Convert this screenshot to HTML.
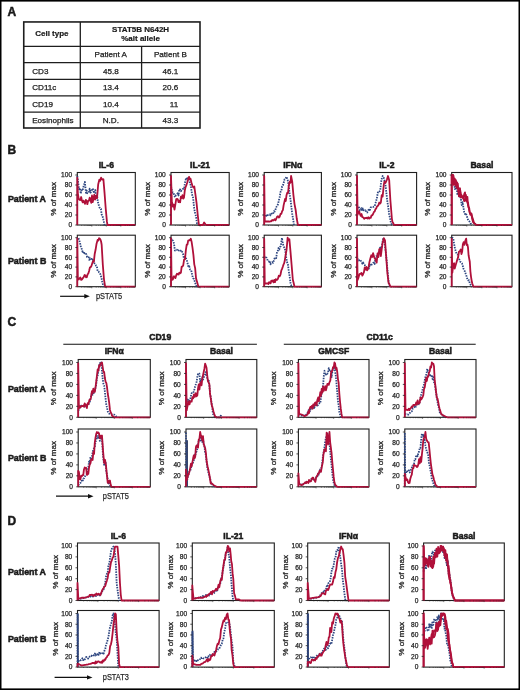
<!DOCTYPE html>
<html><head><meta charset="utf-8"><title>Figure</title>
<style>
html,body{margin:0;padding:0;background:#fff;}
svg{display:block;font-family:'Liberation Sans', Arial, Helvetica, sans-serif;filter:blur(0.4px);}
</style></head>
<body>
<svg width="520" height="690" viewBox="0 0 520 690">
<rect x="0" y="0" width="520" height="690" fill="#fff"/>
<text x="7.6" y="16" font-size="12" font-weight="bold" text-anchor="start" fill="#1a1a1a" stroke="#1a1a1a" stroke-width="0.5">A</text>
<text x="7.6" y="154.2" font-size="12" font-weight="bold" text-anchor="start" fill="#1a1a1a" stroke="#1a1a1a" stroke-width="0.5">B</text>
<text x="7.6" y="326" font-size="12" font-weight="bold" text-anchor="start" fill="#1a1a1a" stroke="#1a1a1a" stroke-width="0.5">C</text>
<text x="7.6" y="524.8" font-size="12" font-weight="bold" text-anchor="start" fill="#1a1a1a" stroke="#1a1a1a" stroke-width="0.5">D</text>
<rect x="23.75" y="21.95" width="176.25" height="106.05" fill="none" stroke="#1e1e1e" stroke-width="1.6"/>
<line x1="23.75" y1="46.4" x2="200" y2="46.4" stroke="#1e1e1e" stroke-width="1.3"/>
<line x1="23.75" y1="62.6" x2="200" y2="62.6" stroke="#1e1e1e" stroke-width="1.3"/>
<line x1="23.75" y1="79.4" x2="200" y2="79.4" stroke="#1e1e1e" stroke-width="1.3"/>
<line x1="23.75" y1="95.9" x2="200" y2="95.9" stroke="#1e1e1e" stroke-width="1.3"/>
<line x1="23.75" y1="112.1" x2="200" y2="112.1" stroke="#1e1e1e" stroke-width="1.3"/>
<line x1="80.3" y1="21.95" x2="80.3" y2="128" stroke="#1e1e1e" stroke-width="1.3"/>
<line x1="141.6" y1="46.4" x2="141.6" y2="128" stroke="#1e1e1e" stroke-width="1.3"/>
<text x="51.9" y="36.4" font-size="8.0" font-weight="bold" text-anchor="middle" fill="#1a1a1a" stroke="#1a1a1a" stroke-width="0.2">Cell type</text>
<text x="140.6" y="31.5" font-size="8.0" font-weight="bold" text-anchor="middle" fill="#1a1a1a" stroke="#1a1a1a" stroke-width="0.2">STAT5B N642H</text>
<text x="140.6" y="41" font-size="8.0" font-weight="bold" text-anchor="middle" fill="#1a1a1a" stroke="#1a1a1a" stroke-width="0.2">%alt allele</text>
<text x="110.7" y="57.3" font-size="8.1" font-weight="normal" text-anchor="middle" fill="#1a1a1a" stroke="#1a1a1a" stroke-width="0.25">Patient A</text>
<text x="170.4" y="57.3" font-size="8.1" font-weight="normal" text-anchor="middle" fill="#1a1a1a" stroke="#1a1a1a" stroke-width="0.25">Patient B</text>
<text x="32.2" y="73.9" font-size="8.1" font-weight="normal" text-anchor="start" fill="#1a1a1a" stroke="#1a1a1a" stroke-width="0.25">CD3</text>
<text x="110.8" y="73.9" font-size="8.1" font-weight="normal" text-anchor="middle" fill="#1a1a1a" stroke="#1a1a1a" stroke-width="0.25">45.8</text>
<text x="178.2" y="73.9" font-size="8.1" font-weight="normal" text-anchor="end" fill="#1a1a1a" stroke="#1a1a1a" stroke-width="0.25">46.1</text>
<text x="32.2" y="90.3" font-size="8.1" font-weight="normal" text-anchor="start" fill="#1a1a1a" stroke="#1a1a1a" stroke-width="0.25">CD11c</text>
<text x="110.8" y="90.3" font-size="8.1" font-weight="normal" text-anchor="middle" fill="#1a1a1a" stroke="#1a1a1a" stroke-width="0.25">13.4</text>
<text x="178.2" y="90.3" font-size="8.1" font-weight="normal" text-anchor="end" fill="#1a1a1a" stroke="#1a1a1a" stroke-width="0.25">20.6</text>
<text x="32.2" y="106.5" font-size="8.1" font-weight="normal" text-anchor="start" fill="#1a1a1a" stroke="#1a1a1a" stroke-width="0.25">CD19</text>
<text x="110.8" y="106.5" font-size="8.1" font-weight="normal" text-anchor="middle" fill="#1a1a1a" stroke="#1a1a1a" stroke-width="0.25">10.4</text>
<text x="178.2" y="106.5" font-size="8.1" font-weight="normal" text-anchor="end" fill="#1a1a1a" stroke="#1a1a1a" stroke-width="0.25">11</text>
<text x="32.2" y="122.6" font-size="8.1" font-weight="normal" text-anchor="start" fill="#1a1a1a" stroke="#1a1a1a" stroke-width="0.25">Eosinophils</text>
<text x="110.8" y="122.6" font-size="8.1" font-weight="normal" text-anchor="middle" fill="#1a1a1a" stroke="#1a1a1a" stroke-width="0.25">N.D.</text>
<text x="178.2" y="122.6" font-size="8.1" font-weight="normal" text-anchor="end" fill="#1a1a1a" stroke="#1a1a1a" stroke-width="0.25">43.3</text>
<text x="106.3" y="167.7" font-size="8.6" font-weight="bold" text-anchor="middle" fill="#1a1a1a" stroke="#1a1a1a" stroke-width="0.5">IL-6</text>
<rect x="77.3" y="172.5" width="58" height="52.5" fill="none" stroke="#1e1e1e" stroke-width="1.1"/>
<polyline points="77.3,176 78.17,182.61 79.04,189.2 79.91,188.05 80.78,193.69 81.65,190.27 82.52,190.85 83.68,185.78 84.84,181.95 86,192.91 86.72,190.67 87.45,193.21 88.17,193.33 88.9,191.48 89.67,188.61 90.45,192.7 91.22,191.74 91.99,189.86 92.77,188.51 93.54,191.51 94.41,193.15 95.28,190 96.15,198.11 97.02,195.24 97.79,201.33 98.57,204.6 99.34,207.09 100.11,208.63 100.89,208.88 101.66,214.33 102.53,216.21 103.4,219.58 104.56,225" fill="none" stroke="#2e4680" stroke-width="1.8" stroke-dasharray="1.5 1.1" stroke-linejoin="round"/>
<polyline points="77.3,225 77.3,177.65 77.88,193.57 78.75,198.93 79.62,199.96 80.39,199.98 81.17,197.04 81.94,200.65 82.71,202.31 83.49,200.59 84.26,202.4 85.03,203.87 85.81,199.84 86.58,200.83 87.35,204.18 88.13,200.86 88.9,200.78 89.67,197.71 90.45,198.99 91.22,202.86 91.99,195.51 92.77,202.1 93.54,198.24 94.31,194.69 95.09,199.63 95.86,196.1 97.02,198.15 98.18,184.49 99.34,179.62 100.21,180.84 101.08,177.62 102.24,179.68 103.4,179.24 104.56,193.15 105.72,208.45 106.88,221.18 107.46,225 135.3,225" fill="none" stroke="#b0103a" stroke-width="1.8" stroke-linejoin="round"/>
<line x1="75.3" y1="225" x2="77.3" y2="225" stroke="#262626" stroke-width="0.8"/>
<text x="72.1" y="227.3" font-size="6.6" font-weight="normal" text-anchor="end" fill="#262626" stroke="#262626" stroke-width="0.25">0</text>
<line x1="75.3" y1="215" x2="77.3" y2="215" stroke="#262626" stroke-width="0.8"/>
<text x="72.1" y="217.3" font-size="6.6" font-weight="normal" text-anchor="end" fill="#262626" stroke="#262626" stroke-width="0.25">20</text>
<line x1="75.3" y1="205" x2="77.3" y2="205" stroke="#262626" stroke-width="0.8"/>
<text x="72.1" y="207.3" font-size="6.6" font-weight="normal" text-anchor="end" fill="#262626" stroke="#262626" stroke-width="0.25">40</text>
<line x1="75.3" y1="195" x2="77.3" y2="195" stroke="#262626" stroke-width="0.8"/>
<text x="72.1" y="197.3" font-size="6.6" font-weight="normal" text-anchor="end" fill="#262626" stroke="#262626" stroke-width="0.25">60</text>
<line x1="75.3" y1="185" x2="77.3" y2="185" stroke="#262626" stroke-width="0.8"/>
<text x="72.1" y="187.3" font-size="6.6" font-weight="normal" text-anchor="end" fill="#262626" stroke="#262626" stroke-width="0.25">80</text>
<line x1="75.3" y1="175" x2="77.3" y2="175" stroke="#262626" stroke-width="0.8"/>
<text x="72.1" y="177.3" font-size="6.6" font-weight="normal" text-anchor="end" fill="#262626" stroke="#262626" stroke-width="0.25">100</text>
<line x1="81.66" y1="225" x2="81.66" y2="225.9" stroke="#262626" stroke-width="0.6"/>
<line x1="84.22" y1="225" x2="84.22" y2="225.9" stroke="#262626" stroke-width="0.6"/>
<line x1="86.03" y1="225" x2="86.03" y2="225.9" stroke="#262626" stroke-width="0.6"/>
<line x1="87.44" y1="225" x2="87.44" y2="225.9" stroke="#262626" stroke-width="0.6"/>
<line x1="88.58" y1="225" x2="88.58" y2="225.9" stroke="#262626" stroke-width="0.6"/>
<line x1="89.55" y1="225" x2="89.55" y2="225.9" stroke="#262626" stroke-width="0.6"/>
<line x1="90.39" y1="225" x2="90.39" y2="225.9" stroke="#262626" stroke-width="0.6"/>
<line x1="91.14" y1="225" x2="91.14" y2="225.9" stroke="#262626" stroke-width="0.6"/>
<line x1="91.8" y1="225" x2="91.8" y2="226.6" stroke="#262626" stroke-width="0.6"/>
<line x1="96.16" y1="225" x2="96.16" y2="225.9" stroke="#262626" stroke-width="0.6"/>
<line x1="98.72" y1="225" x2="98.72" y2="225.9" stroke="#262626" stroke-width="0.6"/>
<line x1="100.53" y1="225" x2="100.53" y2="225.9" stroke="#262626" stroke-width="0.6"/>
<line x1="101.94" y1="225" x2="101.94" y2="225.9" stroke="#262626" stroke-width="0.6"/>
<line x1="103.08" y1="225" x2="103.08" y2="225.9" stroke="#262626" stroke-width="0.6"/>
<line x1="104.05" y1="225" x2="104.05" y2="225.9" stroke="#262626" stroke-width="0.6"/>
<line x1="104.89" y1="225" x2="104.89" y2="225.9" stroke="#262626" stroke-width="0.6"/>
<line x1="105.64" y1="225" x2="105.64" y2="225.9" stroke="#262626" stroke-width="0.6"/>
<line x1="106.3" y1="225" x2="106.3" y2="226.6" stroke="#262626" stroke-width="0.6"/>
<line x1="110.66" y1="225" x2="110.66" y2="225.9" stroke="#262626" stroke-width="0.6"/>
<line x1="113.22" y1="225" x2="113.22" y2="225.9" stroke="#262626" stroke-width="0.6"/>
<line x1="115.03" y1="225" x2="115.03" y2="225.9" stroke="#262626" stroke-width="0.6"/>
<line x1="116.44" y1="225" x2="116.44" y2="225.9" stroke="#262626" stroke-width="0.6"/>
<line x1="117.58" y1="225" x2="117.58" y2="225.9" stroke="#262626" stroke-width="0.6"/>
<line x1="118.55" y1="225" x2="118.55" y2="225.9" stroke="#262626" stroke-width="0.6"/>
<line x1="119.39" y1="225" x2="119.39" y2="225.9" stroke="#262626" stroke-width="0.6"/>
<line x1="120.14" y1="225" x2="120.14" y2="225.9" stroke="#262626" stroke-width="0.6"/>
<line x1="120.8" y1="225" x2="120.8" y2="226.6" stroke="#262626" stroke-width="0.6"/>
<line x1="125.16" y1="225" x2="125.16" y2="225.9" stroke="#262626" stroke-width="0.6"/>
<line x1="127.72" y1="225" x2="127.72" y2="225.9" stroke="#262626" stroke-width="0.6"/>
<line x1="129.53" y1="225" x2="129.53" y2="225.9" stroke="#262626" stroke-width="0.6"/>
<line x1="130.94" y1="225" x2="130.94" y2="225.9" stroke="#262626" stroke-width="0.6"/>
<line x1="132.08" y1="225" x2="132.08" y2="225.9" stroke="#262626" stroke-width="0.6"/>
<line x1="133.05" y1="225" x2="133.05" y2="225.9" stroke="#262626" stroke-width="0.6"/>
<line x1="133.89" y1="225" x2="133.89" y2="225.9" stroke="#262626" stroke-width="0.6"/>
<line x1="134.64" y1="225" x2="134.64" y2="225.9" stroke="#262626" stroke-width="0.6"/>
<text x="53.3" y="198.75" font-size="8.1" fill="#262626" stroke="#262626" stroke-width="0.3" text-anchor="middle" transform="rotate(-90 53.3 198.75)" dy="2.7">% of max</text>
<rect x="77.3" y="235.2" width="58" height="51.5" fill="none" stroke="#1e1e1e" stroke-width="1.1"/>
<polyline points="78.46,238.19 79.33,240.47 80.2,243.71 81.07,247.85 81.94,249.27 82.81,253.06 83.68,251.73 84.55,253.26 85.42,252.66 86.29,254.18 87.16,257.21 87.93,257.61 88.71,257.26 89.48,260.74 90.25,258.44 91.03,259.16 91.8,258.88 92.67,260.59 93.54,259.14 94.41,263.24 95.28,264.19 96.05,265.72 96.83,266.11 97.6,270.94 98.33,271.18 99.05,272.34 99.78,272.87 100.5,274.58 101.37,277.51 102.24,281.76 103.4,286.7" fill="none" stroke="#2e4680" stroke-width="1.8" stroke-dasharray="1.5 1.1" stroke-linejoin="round"/>
<polyline points="77.3,286.7 77.3,238.19 77.88,279.14 78.75,279.56 79.62,278.12 80.39,277.53 81.17,279.85 81.94,279.46 82.81,278.17 83.68,277.07 84.55,275 85.28,275.34 86,277.28 86.77,277.17 87.55,274.45 88.32,273.53 89.09,271.05 89.87,267.58 90.64,267.13 91.41,266.04 92.19,263.5 92.96,261.16 93.83,261.88 94.7,253.97 95.57,249.77 96.44,244.32 97.6,239.87 98.33,240.54 99.05,238.19 99.73,238.52 100.4,239.44 101.08,241.5 101.66,244.75 102.82,264.77 103.98,279.37 105.14,286.7 135.3,286.7" fill="none" stroke="#b0103a" stroke-width="1.8" stroke-linejoin="round"/>
<line x1="75.3" y1="286.7" x2="77.3" y2="286.7" stroke="#262626" stroke-width="0.8"/>
<text x="72.1" y="289" font-size="6.6" font-weight="normal" text-anchor="end" fill="#262626" stroke="#262626" stroke-width="0.25">0</text>
<line x1="75.3" y1="276.9" x2="77.3" y2="276.9" stroke="#262626" stroke-width="0.8"/>
<text x="72.1" y="279.2" font-size="6.6" font-weight="normal" text-anchor="end" fill="#262626" stroke="#262626" stroke-width="0.25">20</text>
<line x1="75.3" y1="267.1" x2="77.3" y2="267.1" stroke="#262626" stroke-width="0.8"/>
<text x="72.1" y="269.4" font-size="6.6" font-weight="normal" text-anchor="end" fill="#262626" stroke="#262626" stroke-width="0.25">40</text>
<line x1="75.3" y1="257.3" x2="77.3" y2="257.3" stroke="#262626" stroke-width="0.8"/>
<text x="72.1" y="259.6" font-size="6.6" font-weight="normal" text-anchor="end" fill="#262626" stroke="#262626" stroke-width="0.25">60</text>
<line x1="75.3" y1="247.5" x2="77.3" y2="247.5" stroke="#262626" stroke-width="0.8"/>
<text x="72.1" y="249.8" font-size="6.6" font-weight="normal" text-anchor="end" fill="#262626" stroke="#262626" stroke-width="0.25">80</text>
<line x1="75.3" y1="237.7" x2="77.3" y2="237.7" stroke="#262626" stroke-width="0.8"/>
<text x="72.1" y="240" font-size="6.6" font-weight="normal" text-anchor="end" fill="#262626" stroke="#262626" stroke-width="0.25">100</text>
<line x1="81.66" y1="286.7" x2="81.66" y2="287.6" stroke="#262626" stroke-width="0.6"/>
<line x1="84.22" y1="286.7" x2="84.22" y2="287.6" stroke="#262626" stroke-width="0.6"/>
<line x1="86.03" y1="286.7" x2="86.03" y2="287.6" stroke="#262626" stroke-width="0.6"/>
<line x1="87.44" y1="286.7" x2="87.44" y2="287.6" stroke="#262626" stroke-width="0.6"/>
<line x1="88.58" y1="286.7" x2="88.58" y2="287.6" stroke="#262626" stroke-width="0.6"/>
<line x1="89.55" y1="286.7" x2="89.55" y2="287.6" stroke="#262626" stroke-width="0.6"/>
<line x1="90.39" y1="286.7" x2="90.39" y2="287.6" stroke="#262626" stroke-width="0.6"/>
<line x1="91.14" y1="286.7" x2="91.14" y2="287.6" stroke="#262626" stroke-width="0.6"/>
<line x1="91.8" y1="286.7" x2="91.8" y2="288.3" stroke="#262626" stroke-width="0.6"/>
<line x1="96.16" y1="286.7" x2="96.16" y2="287.6" stroke="#262626" stroke-width="0.6"/>
<line x1="98.72" y1="286.7" x2="98.72" y2="287.6" stroke="#262626" stroke-width="0.6"/>
<line x1="100.53" y1="286.7" x2="100.53" y2="287.6" stroke="#262626" stroke-width="0.6"/>
<line x1="101.94" y1="286.7" x2="101.94" y2="287.6" stroke="#262626" stroke-width="0.6"/>
<line x1="103.08" y1="286.7" x2="103.08" y2="287.6" stroke="#262626" stroke-width="0.6"/>
<line x1="104.05" y1="286.7" x2="104.05" y2="287.6" stroke="#262626" stroke-width="0.6"/>
<line x1="104.89" y1="286.7" x2="104.89" y2="287.6" stroke="#262626" stroke-width="0.6"/>
<line x1="105.64" y1="286.7" x2="105.64" y2="287.6" stroke="#262626" stroke-width="0.6"/>
<line x1="106.3" y1="286.7" x2="106.3" y2="288.3" stroke="#262626" stroke-width="0.6"/>
<line x1="110.66" y1="286.7" x2="110.66" y2="287.6" stroke="#262626" stroke-width="0.6"/>
<line x1="113.22" y1="286.7" x2="113.22" y2="287.6" stroke="#262626" stroke-width="0.6"/>
<line x1="115.03" y1="286.7" x2="115.03" y2="287.6" stroke="#262626" stroke-width="0.6"/>
<line x1="116.44" y1="286.7" x2="116.44" y2="287.6" stroke="#262626" stroke-width="0.6"/>
<line x1="117.58" y1="286.7" x2="117.58" y2="287.6" stroke="#262626" stroke-width="0.6"/>
<line x1="118.55" y1="286.7" x2="118.55" y2="287.6" stroke="#262626" stroke-width="0.6"/>
<line x1="119.39" y1="286.7" x2="119.39" y2="287.6" stroke="#262626" stroke-width="0.6"/>
<line x1="120.14" y1="286.7" x2="120.14" y2="287.6" stroke="#262626" stroke-width="0.6"/>
<line x1="120.8" y1="286.7" x2="120.8" y2="288.3" stroke="#262626" stroke-width="0.6"/>
<line x1="125.16" y1="286.7" x2="125.16" y2="287.6" stroke="#262626" stroke-width="0.6"/>
<line x1="127.72" y1="286.7" x2="127.72" y2="287.6" stroke="#262626" stroke-width="0.6"/>
<line x1="129.53" y1="286.7" x2="129.53" y2="287.6" stroke="#262626" stroke-width="0.6"/>
<line x1="130.94" y1="286.7" x2="130.94" y2="287.6" stroke="#262626" stroke-width="0.6"/>
<line x1="132.08" y1="286.7" x2="132.08" y2="287.6" stroke="#262626" stroke-width="0.6"/>
<line x1="133.05" y1="286.7" x2="133.05" y2="287.6" stroke="#262626" stroke-width="0.6"/>
<line x1="133.89" y1="286.7" x2="133.89" y2="287.6" stroke="#262626" stroke-width="0.6"/>
<line x1="134.64" y1="286.7" x2="134.64" y2="287.6" stroke="#262626" stroke-width="0.6"/>
<text x="53.3" y="260.95" font-size="8.1" fill="#262626" stroke="#262626" stroke-width="0.3" text-anchor="middle" transform="rotate(-90 53.3 260.95)" dy="2.7">% of max</text>
<text x="200.1" y="167.7" font-size="8.6" font-weight="bold" text-anchor="middle" fill="#1a1a1a" stroke="#1a1a1a" stroke-width="0.5">IL-21</text>
<rect x="171" y="172.5" width="58.2" height="52.5" fill="none" stroke="#1e1e1e" stroke-width="1.1"/>
<polyline points="171,186.5 171.87,190.33 172.75,192.63 173.52,192.67 174.3,195.65 175.07,197.15 175.95,195.2 176.82,194.51 177.69,193.11 178.57,195.49 179.34,188.98 180.12,189.45 180.89,191.21 181.67,190.23 182.45,189.29 183.22,188.86 184.09,188.88 184.97,182.8 186.13,177.89 187,179.71 187.88,178.1 189.04,179.11 189.91,183.01 190.79,185.49 191.95,193.98 193.12,197.93 193.99,206.86 194.86,212.22 196.03,216.49 197.19,225" fill="none" stroke="#2e4680" stroke-width="1.8" stroke-dasharray="1.5 1.1" stroke-linejoin="round"/>
<polyline points="171,225 171,176 171.87,202.26 172.75,206.54 173.62,204.49 174.49,209.59 175.37,204.28 176.24,199.03 177.01,198.9 177.79,199.28 178.57,202.15 179.34,200.87 180.12,202.33 180.89,196.55 181.67,198.04 182.45,195.16 183.22,198.53 184,197.66 184.77,190.53 185.55,187.14 186.42,185.08 187.3,182.25 188.17,179.14 189.04,176.84 189.62,178.96 190.5,178.59 191.37,182.3 192.53,186.24 193.41,187.5 194.28,186.49 195.44,194.67 196.61,203.49 197.77,215.26 198.94,225 199.75,225 200.57,225 201.38,225 202.2,225 203.01,225 204.17,222.5 205.05,223.75 205.92,225 229.2,225" fill="none" stroke="#b0103a" stroke-width="1.8" stroke-linejoin="round"/>
<line x1="169" y1="225" x2="171" y2="225" stroke="#262626" stroke-width="0.8"/>
<text x="165.8" y="227.3" font-size="6.6" font-weight="normal" text-anchor="end" fill="#262626" stroke="#262626" stroke-width="0.25">0</text>
<line x1="169" y1="215" x2="171" y2="215" stroke="#262626" stroke-width="0.8"/>
<text x="165.8" y="217.3" font-size="6.6" font-weight="normal" text-anchor="end" fill="#262626" stroke="#262626" stroke-width="0.25">20</text>
<line x1="169" y1="205" x2="171" y2="205" stroke="#262626" stroke-width="0.8"/>
<text x="165.8" y="207.3" font-size="6.6" font-weight="normal" text-anchor="end" fill="#262626" stroke="#262626" stroke-width="0.25">40</text>
<line x1="169" y1="195" x2="171" y2="195" stroke="#262626" stroke-width="0.8"/>
<text x="165.8" y="197.3" font-size="6.6" font-weight="normal" text-anchor="end" fill="#262626" stroke="#262626" stroke-width="0.25">60</text>
<line x1="169" y1="185" x2="171" y2="185" stroke="#262626" stroke-width="0.8"/>
<text x="165.8" y="187.3" font-size="6.6" font-weight="normal" text-anchor="end" fill="#262626" stroke="#262626" stroke-width="0.25">80</text>
<line x1="169" y1="175" x2="171" y2="175" stroke="#262626" stroke-width="0.8"/>
<text x="165.8" y="177.3" font-size="6.6" font-weight="normal" text-anchor="end" fill="#262626" stroke="#262626" stroke-width="0.25">100</text>
<line x1="175.38" y1="225" x2="175.38" y2="225.9" stroke="#262626" stroke-width="0.6"/>
<line x1="177.94" y1="225" x2="177.94" y2="225.9" stroke="#262626" stroke-width="0.6"/>
<line x1="179.76" y1="225" x2="179.76" y2="225.9" stroke="#262626" stroke-width="0.6"/>
<line x1="181.17" y1="225" x2="181.17" y2="225.9" stroke="#262626" stroke-width="0.6"/>
<line x1="182.32" y1="225" x2="182.32" y2="225.9" stroke="#262626" stroke-width="0.6"/>
<line x1="183.3" y1="225" x2="183.3" y2="225.9" stroke="#262626" stroke-width="0.6"/>
<line x1="184.14" y1="225" x2="184.14" y2="225.9" stroke="#262626" stroke-width="0.6"/>
<line x1="184.88" y1="225" x2="184.88" y2="225.9" stroke="#262626" stroke-width="0.6"/>
<line x1="185.55" y1="225" x2="185.55" y2="226.6" stroke="#262626" stroke-width="0.6"/>
<line x1="189.93" y1="225" x2="189.93" y2="225.9" stroke="#262626" stroke-width="0.6"/>
<line x1="192.49" y1="225" x2="192.49" y2="225.9" stroke="#262626" stroke-width="0.6"/>
<line x1="194.31" y1="225" x2="194.31" y2="225.9" stroke="#262626" stroke-width="0.6"/>
<line x1="195.72" y1="225" x2="195.72" y2="225.9" stroke="#262626" stroke-width="0.6"/>
<line x1="196.87" y1="225" x2="196.87" y2="225.9" stroke="#262626" stroke-width="0.6"/>
<line x1="197.85" y1="225" x2="197.85" y2="225.9" stroke="#262626" stroke-width="0.6"/>
<line x1="198.69" y1="225" x2="198.69" y2="225.9" stroke="#262626" stroke-width="0.6"/>
<line x1="199.43" y1="225" x2="199.43" y2="225.9" stroke="#262626" stroke-width="0.6"/>
<line x1="200.1" y1="225" x2="200.1" y2="226.6" stroke="#262626" stroke-width="0.6"/>
<line x1="204.48" y1="225" x2="204.48" y2="225.9" stroke="#262626" stroke-width="0.6"/>
<line x1="207.04" y1="225" x2="207.04" y2="225.9" stroke="#262626" stroke-width="0.6"/>
<line x1="208.86" y1="225" x2="208.86" y2="225.9" stroke="#262626" stroke-width="0.6"/>
<line x1="210.27" y1="225" x2="210.27" y2="225.9" stroke="#262626" stroke-width="0.6"/>
<line x1="211.42" y1="225" x2="211.42" y2="225.9" stroke="#262626" stroke-width="0.6"/>
<line x1="212.4" y1="225" x2="212.4" y2="225.9" stroke="#262626" stroke-width="0.6"/>
<line x1="213.24" y1="225" x2="213.24" y2="225.9" stroke="#262626" stroke-width="0.6"/>
<line x1="213.98" y1="225" x2="213.98" y2="225.9" stroke="#262626" stroke-width="0.6"/>
<line x1="214.65" y1="225" x2="214.65" y2="226.6" stroke="#262626" stroke-width="0.6"/>
<line x1="219.03" y1="225" x2="219.03" y2="225.9" stroke="#262626" stroke-width="0.6"/>
<line x1="221.59" y1="225" x2="221.59" y2="225.9" stroke="#262626" stroke-width="0.6"/>
<line x1="223.41" y1="225" x2="223.41" y2="225.9" stroke="#262626" stroke-width="0.6"/>
<line x1="224.82" y1="225" x2="224.82" y2="225.9" stroke="#262626" stroke-width="0.6"/>
<line x1="225.97" y1="225" x2="225.97" y2="225.9" stroke="#262626" stroke-width="0.6"/>
<line x1="226.95" y1="225" x2="226.95" y2="225.9" stroke="#262626" stroke-width="0.6"/>
<line x1="227.79" y1="225" x2="227.79" y2="225.9" stroke="#262626" stroke-width="0.6"/>
<line x1="228.53" y1="225" x2="228.53" y2="225.9" stroke="#262626" stroke-width="0.6"/>
<text x="147" y="198.75" font-size="8.1" fill="#262626" stroke="#262626" stroke-width="0.3" text-anchor="middle" transform="rotate(-90 147 198.75)" dy="2.7">% of max</text>
<rect x="171" y="235.2" width="58.2" height="51.5" fill="none" stroke="#1e1e1e" stroke-width="1.1"/>
<polyline points="171,238.19 171.87,240.37 172.75,240.31 173.62,242.06 174.23,245.14 174.84,250.51 175.83,250.37 176.82,249.6 177.55,250.46 178.28,251.17 179,250.17 179.73,249.77 180.51,250.35 181.28,252.16 182.06,251.77 182.93,253.13 183.8,258.03 184.58,256.8 185.36,256.92 186.13,258.59 186.91,260.68 187.68,263.76 188.46,266.83 189.24,266.23 190.01,269.46 190.79,269.57 191.56,271.59 192.34,275.71 193.12,278.12 193.99,279.12 194.86,281.86 195.73,284.5 196.61,286.7" fill="none" stroke="#2e4680" stroke-width="1.8" stroke-dasharray="1.5 1.1" stroke-linejoin="round"/>
<polyline points="171,286.7 171,238.19 171.58,279.94 172.26,279.78 172.94,279.39 173.62,276.49 174.49,276.31 175.37,278.17 176.24,275.21 177.01,273.77 177.79,274.16 178.57,274.57 179.34,272.61 180.12,273.3 180.89,272.76 181.67,266.62 182.45,266.5 183.22,265.49 184.09,259.65 184.97,259.16 185.84,250.46 186.71,244.6 187.44,244.54 188.17,240.63 189.04,240.22 189.91,240.37 190.79,238.68 191.66,242.09 192.53,247.93 193.41,254.84 194.28,264.37 195.15,268.13 196.03,278.38 196.8,280.94 197.58,283.76 198.35,286.7 229.2,286.7" fill="none" stroke="#b0103a" stroke-width="1.8" stroke-linejoin="round"/>
<line x1="169" y1="286.7" x2="171" y2="286.7" stroke="#262626" stroke-width="0.8"/>
<text x="165.8" y="289" font-size="6.6" font-weight="normal" text-anchor="end" fill="#262626" stroke="#262626" stroke-width="0.25">0</text>
<line x1="169" y1="276.9" x2="171" y2="276.9" stroke="#262626" stroke-width="0.8"/>
<text x="165.8" y="279.2" font-size="6.6" font-weight="normal" text-anchor="end" fill="#262626" stroke="#262626" stroke-width="0.25">20</text>
<line x1="169" y1="267.1" x2="171" y2="267.1" stroke="#262626" stroke-width="0.8"/>
<text x="165.8" y="269.4" font-size="6.6" font-weight="normal" text-anchor="end" fill="#262626" stroke="#262626" stroke-width="0.25">40</text>
<line x1="169" y1="257.3" x2="171" y2="257.3" stroke="#262626" stroke-width="0.8"/>
<text x="165.8" y="259.6" font-size="6.6" font-weight="normal" text-anchor="end" fill="#262626" stroke="#262626" stroke-width="0.25">60</text>
<line x1="169" y1="247.5" x2="171" y2="247.5" stroke="#262626" stroke-width="0.8"/>
<text x="165.8" y="249.8" font-size="6.6" font-weight="normal" text-anchor="end" fill="#262626" stroke="#262626" stroke-width="0.25">80</text>
<line x1="169" y1="237.7" x2="171" y2="237.7" stroke="#262626" stroke-width="0.8"/>
<text x="165.8" y="240" font-size="6.6" font-weight="normal" text-anchor="end" fill="#262626" stroke="#262626" stroke-width="0.25">100</text>
<line x1="175.38" y1="286.7" x2="175.38" y2="287.6" stroke="#262626" stroke-width="0.6"/>
<line x1="177.94" y1="286.7" x2="177.94" y2="287.6" stroke="#262626" stroke-width="0.6"/>
<line x1="179.76" y1="286.7" x2="179.76" y2="287.6" stroke="#262626" stroke-width="0.6"/>
<line x1="181.17" y1="286.7" x2="181.17" y2="287.6" stroke="#262626" stroke-width="0.6"/>
<line x1="182.32" y1="286.7" x2="182.32" y2="287.6" stroke="#262626" stroke-width="0.6"/>
<line x1="183.3" y1="286.7" x2="183.3" y2="287.6" stroke="#262626" stroke-width="0.6"/>
<line x1="184.14" y1="286.7" x2="184.14" y2="287.6" stroke="#262626" stroke-width="0.6"/>
<line x1="184.88" y1="286.7" x2="184.88" y2="287.6" stroke="#262626" stroke-width="0.6"/>
<line x1="185.55" y1="286.7" x2="185.55" y2="288.3" stroke="#262626" stroke-width="0.6"/>
<line x1="189.93" y1="286.7" x2="189.93" y2="287.6" stroke="#262626" stroke-width="0.6"/>
<line x1="192.49" y1="286.7" x2="192.49" y2="287.6" stroke="#262626" stroke-width="0.6"/>
<line x1="194.31" y1="286.7" x2="194.31" y2="287.6" stroke="#262626" stroke-width="0.6"/>
<line x1="195.72" y1="286.7" x2="195.72" y2="287.6" stroke="#262626" stroke-width="0.6"/>
<line x1="196.87" y1="286.7" x2="196.87" y2="287.6" stroke="#262626" stroke-width="0.6"/>
<line x1="197.85" y1="286.7" x2="197.85" y2="287.6" stroke="#262626" stroke-width="0.6"/>
<line x1="198.69" y1="286.7" x2="198.69" y2="287.6" stroke="#262626" stroke-width="0.6"/>
<line x1="199.43" y1="286.7" x2="199.43" y2="287.6" stroke="#262626" stroke-width="0.6"/>
<line x1="200.1" y1="286.7" x2="200.1" y2="288.3" stroke="#262626" stroke-width="0.6"/>
<line x1="204.48" y1="286.7" x2="204.48" y2="287.6" stroke="#262626" stroke-width="0.6"/>
<line x1="207.04" y1="286.7" x2="207.04" y2="287.6" stroke="#262626" stroke-width="0.6"/>
<line x1="208.86" y1="286.7" x2="208.86" y2="287.6" stroke="#262626" stroke-width="0.6"/>
<line x1="210.27" y1="286.7" x2="210.27" y2="287.6" stroke="#262626" stroke-width="0.6"/>
<line x1="211.42" y1="286.7" x2="211.42" y2="287.6" stroke="#262626" stroke-width="0.6"/>
<line x1="212.4" y1="286.7" x2="212.4" y2="287.6" stroke="#262626" stroke-width="0.6"/>
<line x1="213.24" y1="286.7" x2="213.24" y2="287.6" stroke="#262626" stroke-width="0.6"/>
<line x1="213.98" y1="286.7" x2="213.98" y2="287.6" stroke="#262626" stroke-width="0.6"/>
<line x1="214.65" y1="286.7" x2="214.65" y2="288.3" stroke="#262626" stroke-width="0.6"/>
<line x1="219.03" y1="286.7" x2="219.03" y2="287.6" stroke="#262626" stroke-width="0.6"/>
<line x1="221.59" y1="286.7" x2="221.59" y2="287.6" stroke="#262626" stroke-width="0.6"/>
<line x1="223.41" y1="286.7" x2="223.41" y2="287.6" stroke="#262626" stroke-width="0.6"/>
<line x1="224.82" y1="286.7" x2="224.82" y2="287.6" stroke="#262626" stroke-width="0.6"/>
<line x1="225.97" y1="286.7" x2="225.97" y2="287.6" stroke="#262626" stroke-width="0.6"/>
<line x1="226.95" y1="286.7" x2="226.95" y2="287.6" stroke="#262626" stroke-width="0.6"/>
<line x1="227.79" y1="286.7" x2="227.79" y2="287.6" stroke="#262626" stroke-width="0.6"/>
<line x1="228.53" y1="286.7" x2="228.53" y2="287.6" stroke="#262626" stroke-width="0.6"/>
<text x="147" y="260.95" font-size="8.1" fill="#262626" stroke="#262626" stroke-width="0.3" text-anchor="middle" transform="rotate(-90 147 260.95)" dy="2.7">% of max</text>
<text x="292.8" y="167.7" font-size="8.6" font-weight="bold" text-anchor="middle" fill="#1a1a1a" stroke="#1a1a1a" stroke-width="0.5">IFN&#945;</text>
<rect x="264.2" y="172.5" width="57.2" height="52.5" fill="none" stroke="#1e1e1e" stroke-width="1.1"/>
<polyline points="264.2,216 264.96,215.63 265.73,214.66 266.49,215.7 267.25,214.28 268.01,215.16 268.78,214.92 269.63,214.44 270.49,215.29 271.35,213.66 272.21,213.88 273.07,213.91 273.92,211.14 274.78,211.5 275.64,209.09 276.5,206.74 277.36,205.8 278.12,203.84 278.88,200.26 279.64,197.27 280.5,192.06 281.36,190.65 282.12,186.41 282.89,185.39 283.65,182.94 284.51,179.36 285.36,178.97 286.51,176.74 287.65,179.91 288.8,186.27 289.65,194.24 290.51,199.53 291.37,206.98 292.23,213.97 293.37,220.63 293.94,225" fill="none" stroke="#2e4680" stroke-width="1.8" stroke-dasharray="1.5 1.1" stroke-linejoin="round"/>
<polyline points="264.2,225 264.2,176 264.77,221.5 265.57,221.5 266.37,221.5 267.17,221.5 267.98,221.5 268.78,221.5 269.63,221.54 270.49,221.24 271.35,221.31 272.21,219.98 273.07,220.54 273.92,219.97 274.69,219.08 275.45,220.37 276.21,218.82 277.07,216.72 277.93,216.12 278.79,217.63 279.64,216.86 280.5,213.97 281.36,213.76 282.12,211.15 282.89,210.03 283.65,205.14 284.36,202.08 285.08,198.95 285.79,200.95 286.51,195.2 287.27,192.71 288.03,192.98 288.8,185.7 289.65,181.69 290.51,182.68 291.08,176 292.23,181.78 293.37,194.61 294.52,204.07 295.66,209.98 296.8,219.04 297.95,225 321.4,225" fill="none" stroke="#b0103a" stroke-width="1.8" stroke-linejoin="round"/>
<line x1="262.2" y1="225" x2="264.2" y2="225" stroke="#262626" stroke-width="0.8"/>
<text x="259" y="227.3" font-size="6.6" font-weight="normal" text-anchor="end" fill="#262626" stroke="#262626" stroke-width="0.25">0</text>
<line x1="262.2" y1="215" x2="264.2" y2="215" stroke="#262626" stroke-width="0.8"/>
<text x="259" y="217.3" font-size="6.6" font-weight="normal" text-anchor="end" fill="#262626" stroke="#262626" stroke-width="0.25">20</text>
<line x1="262.2" y1="205" x2="264.2" y2="205" stroke="#262626" stroke-width="0.8"/>
<text x="259" y="207.3" font-size="6.6" font-weight="normal" text-anchor="end" fill="#262626" stroke="#262626" stroke-width="0.25">40</text>
<line x1="262.2" y1="195" x2="264.2" y2="195" stroke="#262626" stroke-width="0.8"/>
<text x="259" y="197.3" font-size="6.6" font-weight="normal" text-anchor="end" fill="#262626" stroke="#262626" stroke-width="0.25">60</text>
<line x1="262.2" y1="185" x2="264.2" y2="185" stroke="#262626" stroke-width="0.8"/>
<text x="259" y="187.3" font-size="6.6" font-weight="normal" text-anchor="end" fill="#262626" stroke="#262626" stroke-width="0.25">80</text>
<line x1="262.2" y1="175" x2="264.2" y2="175" stroke="#262626" stroke-width="0.8"/>
<text x="259" y="177.3" font-size="6.6" font-weight="normal" text-anchor="end" fill="#262626" stroke="#262626" stroke-width="0.25">100</text>
<line x1="268.5" y1="225" x2="268.5" y2="225.9" stroke="#262626" stroke-width="0.6"/>
<line x1="271.02" y1="225" x2="271.02" y2="225.9" stroke="#262626" stroke-width="0.6"/>
<line x1="272.81" y1="225" x2="272.81" y2="225.9" stroke="#262626" stroke-width="0.6"/>
<line x1="274.2" y1="225" x2="274.2" y2="225.9" stroke="#262626" stroke-width="0.6"/>
<line x1="275.33" y1="225" x2="275.33" y2="225.9" stroke="#262626" stroke-width="0.6"/>
<line x1="276.28" y1="225" x2="276.28" y2="225.9" stroke="#262626" stroke-width="0.6"/>
<line x1="277.11" y1="225" x2="277.11" y2="225.9" stroke="#262626" stroke-width="0.6"/>
<line x1="277.85" y1="225" x2="277.85" y2="225.9" stroke="#262626" stroke-width="0.6"/>
<line x1="278.5" y1="225" x2="278.5" y2="226.6" stroke="#262626" stroke-width="0.6"/>
<line x1="282.8" y1="225" x2="282.8" y2="225.9" stroke="#262626" stroke-width="0.6"/>
<line x1="285.32" y1="225" x2="285.32" y2="225.9" stroke="#262626" stroke-width="0.6"/>
<line x1="287.11" y1="225" x2="287.11" y2="225.9" stroke="#262626" stroke-width="0.6"/>
<line x1="288.5" y1="225" x2="288.5" y2="225.9" stroke="#262626" stroke-width="0.6"/>
<line x1="289.63" y1="225" x2="289.63" y2="225.9" stroke="#262626" stroke-width="0.6"/>
<line x1="290.58" y1="225" x2="290.58" y2="225.9" stroke="#262626" stroke-width="0.6"/>
<line x1="291.41" y1="225" x2="291.41" y2="225.9" stroke="#262626" stroke-width="0.6"/>
<line x1="292.15" y1="225" x2="292.15" y2="225.9" stroke="#262626" stroke-width="0.6"/>
<line x1="292.8" y1="225" x2="292.8" y2="226.6" stroke="#262626" stroke-width="0.6"/>
<line x1="297.1" y1="225" x2="297.1" y2="225.9" stroke="#262626" stroke-width="0.6"/>
<line x1="299.62" y1="225" x2="299.62" y2="225.9" stroke="#262626" stroke-width="0.6"/>
<line x1="301.41" y1="225" x2="301.41" y2="225.9" stroke="#262626" stroke-width="0.6"/>
<line x1="302.8" y1="225" x2="302.8" y2="225.9" stroke="#262626" stroke-width="0.6"/>
<line x1="303.93" y1="225" x2="303.93" y2="225.9" stroke="#262626" stroke-width="0.6"/>
<line x1="304.88" y1="225" x2="304.88" y2="225.9" stroke="#262626" stroke-width="0.6"/>
<line x1="305.71" y1="225" x2="305.71" y2="225.9" stroke="#262626" stroke-width="0.6"/>
<line x1="306.45" y1="225" x2="306.45" y2="225.9" stroke="#262626" stroke-width="0.6"/>
<line x1="307.1" y1="225" x2="307.1" y2="226.6" stroke="#262626" stroke-width="0.6"/>
<line x1="311.4" y1="225" x2="311.4" y2="225.9" stroke="#262626" stroke-width="0.6"/>
<line x1="313.92" y1="225" x2="313.92" y2="225.9" stroke="#262626" stroke-width="0.6"/>
<line x1="315.71" y1="225" x2="315.71" y2="225.9" stroke="#262626" stroke-width="0.6"/>
<line x1="317.1" y1="225" x2="317.1" y2="225.9" stroke="#262626" stroke-width="0.6"/>
<line x1="318.23" y1="225" x2="318.23" y2="225.9" stroke="#262626" stroke-width="0.6"/>
<line x1="319.18" y1="225" x2="319.18" y2="225.9" stroke="#262626" stroke-width="0.6"/>
<line x1="320.01" y1="225" x2="320.01" y2="225.9" stroke="#262626" stroke-width="0.6"/>
<line x1="320.75" y1="225" x2="320.75" y2="225.9" stroke="#262626" stroke-width="0.6"/>
<text x="240.2" y="198.75" font-size="8.1" fill="#262626" stroke="#262626" stroke-width="0.3" text-anchor="middle" transform="rotate(-90 240.2 198.75)" dy="2.7">% of max</text>
<rect x="264.2" y="235.2" width="57.2" height="51.5" fill="none" stroke="#1e1e1e" stroke-width="1.1"/>
<polyline points="264.2,256.32 264.96,258.2 265.73,257.58 266.49,257.73 267.25,259.43 268.01,261 268.78,261.48 269.63,260.63 270.49,264.33 271.35,262.96 272.21,262.28 273.07,262.88 273.92,260.44 274.69,258.1 275.45,257.41 276.21,258.11 276.97,252.2 277.74,250.89 278.5,248.01 279.26,249.62 280.03,246.99 280.79,245.97 281.93,238.02 282.65,242.56 283.36,245.59 284.03,247.17 284.7,247.93 285.36,251.09 286.22,257.56 287.08,262.17 287.94,264.57 288.8,271.29 289.65,276.4 290.51,283.08 291.66,286.7" fill="none" stroke="#2e4680" stroke-width="1.8" stroke-dasharray="1.5 1.1" stroke-linejoin="round"/>
<polyline points="264.2,286.7 264.2,238.68 264.77,283.76 265.49,283.64 266.2,283.51 266.92,283.39 267.63,283.27 268.38,284.14 269.12,282.18 269.86,282.59 270.61,283.28 271.35,280.56 272.09,281.22 272.84,280.54 273.58,282.43 274.32,279.97 275.07,282.11 275.78,279.22 276.5,279.98 277.21,279.87 277.93,278.69 278.79,275.63 279.64,276.32 280.5,274.54 281.36,270.41 282.07,268.91 282.79,266.8 283.46,264.65 284.12,263.37 284.79,260.52 285.65,254.98 286.51,250.12 287.65,237.7 288.51,240.41 289.37,239.17 290.51,251.84 291.66,265.49 292.8,279.53 293.66,282.98 294.52,286.7 321.4,286.7" fill="none" stroke="#b0103a" stroke-width="1.8" stroke-linejoin="round"/>
<line x1="262.2" y1="286.7" x2="264.2" y2="286.7" stroke="#262626" stroke-width="0.8"/>
<text x="259" y="289" font-size="6.6" font-weight="normal" text-anchor="end" fill="#262626" stroke="#262626" stroke-width="0.25">0</text>
<line x1="262.2" y1="276.9" x2="264.2" y2="276.9" stroke="#262626" stroke-width="0.8"/>
<text x="259" y="279.2" font-size="6.6" font-weight="normal" text-anchor="end" fill="#262626" stroke="#262626" stroke-width="0.25">20</text>
<line x1="262.2" y1="267.1" x2="264.2" y2="267.1" stroke="#262626" stroke-width="0.8"/>
<text x="259" y="269.4" font-size="6.6" font-weight="normal" text-anchor="end" fill="#262626" stroke="#262626" stroke-width="0.25">40</text>
<line x1="262.2" y1="257.3" x2="264.2" y2="257.3" stroke="#262626" stroke-width="0.8"/>
<text x="259" y="259.6" font-size="6.6" font-weight="normal" text-anchor="end" fill="#262626" stroke="#262626" stroke-width="0.25">60</text>
<line x1="262.2" y1="247.5" x2="264.2" y2="247.5" stroke="#262626" stroke-width="0.8"/>
<text x="259" y="249.8" font-size="6.6" font-weight="normal" text-anchor="end" fill="#262626" stroke="#262626" stroke-width="0.25">80</text>
<line x1="262.2" y1="237.7" x2="264.2" y2="237.7" stroke="#262626" stroke-width="0.8"/>
<text x="259" y="240" font-size="6.6" font-weight="normal" text-anchor="end" fill="#262626" stroke="#262626" stroke-width="0.25">100</text>
<line x1="268.5" y1="286.7" x2="268.5" y2="287.6" stroke="#262626" stroke-width="0.6"/>
<line x1="271.02" y1="286.7" x2="271.02" y2="287.6" stroke="#262626" stroke-width="0.6"/>
<line x1="272.81" y1="286.7" x2="272.81" y2="287.6" stroke="#262626" stroke-width="0.6"/>
<line x1="274.2" y1="286.7" x2="274.2" y2="287.6" stroke="#262626" stroke-width="0.6"/>
<line x1="275.33" y1="286.7" x2="275.33" y2="287.6" stroke="#262626" stroke-width="0.6"/>
<line x1="276.28" y1="286.7" x2="276.28" y2="287.6" stroke="#262626" stroke-width="0.6"/>
<line x1="277.11" y1="286.7" x2="277.11" y2="287.6" stroke="#262626" stroke-width="0.6"/>
<line x1="277.85" y1="286.7" x2="277.85" y2="287.6" stroke="#262626" stroke-width="0.6"/>
<line x1="278.5" y1="286.7" x2="278.5" y2="288.3" stroke="#262626" stroke-width="0.6"/>
<line x1="282.8" y1="286.7" x2="282.8" y2="287.6" stroke="#262626" stroke-width="0.6"/>
<line x1="285.32" y1="286.7" x2="285.32" y2="287.6" stroke="#262626" stroke-width="0.6"/>
<line x1="287.11" y1="286.7" x2="287.11" y2="287.6" stroke="#262626" stroke-width="0.6"/>
<line x1="288.5" y1="286.7" x2="288.5" y2="287.6" stroke="#262626" stroke-width="0.6"/>
<line x1="289.63" y1="286.7" x2="289.63" y2="287.6" stroke="#262626" stroke-width="0.6"/>
<line x1="290.58" y1="286.7" x2="290.58" y2="287.6" stroke="#262626" stroke-width="0.6"/>
<line x1="291.41" y1="286.7" x2="291.41" y2="287.6" stroke="#262626" stroke-width="0.6"/>
<line x1="292.15" y1="286.7" x2="292.15" y2="287.6" stroke="#262626" stroke-width="0.6"/>
<line x1="292.8" y1="286.7" x2="292.8" y2="288.3" stroke="#262626" stroke-width="0.6"/>
<line x1="297.1" y1="286.7" x2="297.1" y2="287.6" stroke="#262626" stroke-width="0.6"/>
<line x1="299.62" y1="286.7" x2="299.62" y2="287.6" stroke="#262626" stroke-width="0.6"/>
<line x1="301.41" y1="286.7" x2="301.41" y2="287.6" stroke="#262626" stroke-width="0.6"/>
<line x1="302.8" y1="286.7" x2="302.8" y2="287.6" stroke="#262626" stroke-width="0.6"/>
<line x1="303.93" y1="286.7" x2="303.93" y2="287.6" stroke="#262626" stroke-width="0.6"/>
<line x1="304.88" y1="286.7" x2="304.88" y2="287.6" stroke="#262626" stroke-width="0.6"/>
<line x1="305.71" y1="286.7" x2="305.71" y2="287.6" stroke="#262626" stroke-width="0.6"/>
<line x1="306.45" y1="286.7" x2="306.45" y2="287.6" stroke="#262626" stroke-width="0.6"/>
<line x1="307.1" y1="286.7" x2="307.1" y2="288.3" stroke="#262626" stroke-width="0.6"/>
<line x1="311.4" y1="286.7" x2="311.4" y2="287.6" stroke="#262626" stroke-width="0.6"/>
<line x1="313.92" y1="286.7" x2="313.92" y2="287.6" stroke="#262626" stroke-width="0.6"/>
<line x1="315.71" y1="286.7" x2="315.71" y2="287.6" stroke="#262626" stroke-width="0.6"/>
<line x1="317.1" y1="286.7" x2="317.1" y2="287.6" stroke="#262626" stroke-width="0.6"/>
<line x1="318.23" y1="286.7" x2="318.23" y2="287.6" stroke="#262626" stroke-width="0.6"/>
<line x1="319.18" y1="286.7" x2="319.18" y2="287.6" stroke="#262626" stroke-width="0.6"/>
<line x1="320.01" y1="286.7" x2="320.01" y2="287.6" stroke="#262626" stroke-width="0.6"/>
<line x1="320.75" y1="286.7" x2="320.75" y2="287.6" stroke="#262626" stroke-width="0.6"/>
<text x="240.2" y="260.95" font-size="8.1" fill="#262626" stroke="#262626" stroke-width="0.3" text-anchor="middle" transform="rotate(-90 240.2 260.95)" dy="2.7">% of max</text>
<text x="386.8" y="167.7" font-size="8.6" font-weight="bold" text-anchor="middle" fill="#1a1a1a" stroke="#1a1a1a" stroke-width="0.5">IL-2</text>
<rect x="357" y="172.5" width="59.6" height="52.5" fill="none" stroke="#1e1e1e" stroke-width="1.1"/>
<polyline points="357,204.5 357.75,207.48 358.49,206.2 359.24,208.08 359.98,210.48 360.73,209.58 361.47,208.13 362.21,210.75 362.96,208.49 363.79,210.31 364.63,210.72 365.46,210.31 366.3,212.21 367.13,212.48 368.03,210.95 368.92,209.03 369.81,210 370.71,207.41 371.6,207.18 372.5,206.79 373.39,206.96 374.28,206.54 375.08,204.88 375.87,201.87 376.67,199.3 377.86,192.49 378.65,192.86 379.45,191.58 380.24,190.25 381.44,179.57 382.63,176 383.52,176.94 384.42,180.28 385.61,185.92 386.5,194.08 387.4,201.85 388.29,207.39 389.18,214.43 390.08,218.37 390.97,223 392.16,225" fill="none" stroke="#2e4680" stroke-width="1.8" stroke-dasharray="1.5 1.1" stroke-linejoin="round"/>
<polyline points="357,225 357,176 357.6,214.9 358.34,211.84 359.09,211.39 359.91,213.88 360.73,215.82 361.54,214.03 362.36,217.15 363.26,217.36 364.15,218.9 365.05,218.01 365.94,218.08 366.73,217.74 367.53,218.48 368.32,217.23 369.12,218.66 369.91,217.55 370.71,217.91 371.5,215.37 372.3,215.28 373.09,213.97 373.89,212 374.68,211.51 375.48,209.11 376.22,208.49 376.97,206.55 377.71,206.1 378.46,204.91 379.25,202.49 380.05,203.61 380.84,202.5 381.73,195.09 382.63,196.6 383.82,184.66 384.42,181.64 385.61,182.74 386.8,179.99 387.99,176 389.18,180.15 390.38,200.26 391.12,209.22 391.87,218.58 392.56,222.3 393.26,223.17 393.95,225 416.6,225" fill="none" stroke="#b0103a" stroke-width="1.8" stroke-linejoin="round"/>
<line x1="355" y1="225" x2="357" y2="225" stroke="#262626" stroke-width="0.8"/>
<text x="351.8" y="227.3" font-size="6.6" font-weight="normal" text-anchor="end" fill="#262626" stroke="#262626" stroke-width="0.25">0</text>
<line x1="355" y1="215" x2="357" y2="215" stroke="#262626" stroke-width="0.8"/>
<text x="351.8" y="217.3" font-size="6.6" font-weight="normal" text-anchor="end" fill="#262626" stroke="#262626" stroke-width="0.25">20</text>
<line x1="355" y1="205" x2="357" y2="205" stroke="#262626" stroke-width="0.8"/>
<text x="351.8" y="207.3" font-size="6.6" font-weight="normal" text-anchor="end" fill="#262626" stroke="#262626" stroke-width="0.25">40</text>
<line x1="355" y1="195" x2="357" y2="195" stroke="#262626" stroke-width="0.8"/>
<text x="351.8" y="197.3" font-size="6.6" font-weight="normal" text-anchor="end" fill="#262626" stroke="#262626" stroke-width="0.25">60</text>
<line x1="355" y1="185" x2="357" y2="185" stroke="#262626" stroke-width="0.8"/>
<text x="351.8" y="187.3" font-size="6.6" font-weight="normal" text-anchor="end" fill="#262626" stroke="#262626" stroke-width="0.25">80</text>
<line x1="355" y1="175" x2="357" y2="175" stroke="#262626" stroke-width="0.8"/>
<text x="351.8" y="177.3" font-size="6.6" font-weight="normal" text-anchor="end" fill="#262626" stroke="#262626" stroke-width="0.25">100</text>
<line x1="361.49" y1="225" x2="361.49" y2="225.9" stroke="#262626" stroke-width="0.6"/>
<line x1="364.11" y1="225" x2="364.11" y2="225.9" stroke="#262626" stroke-width="0.6"/>
<line x1="365.97" y1="225" x2="365.97" y2="225.9" stroke="#262626" stroke-width="0.6"/>
<line x1="367.41" y1="225" x2="367.41" y2="225.9" stroke="#262626" stroke-width="0.6"/>
<line x1="368.59" y1="225" x2="368.59" y2="225.9" stroke="#262626" stroke-width="0.6"/>
<line x1="369.59" y1="225" x2="369.59" y2="225.9" stroke="#262626" stroke-width="0.6"/>
<line x1="370.46" y1="225" x2="370.46" y2="225.9" stroke="#262626" stroke-width="0.6"/>
<line x1="371.22" y1="225" x2="371.22" y2="225.9" stroke="#262626" stroke-width="0.6"/>
<line x1="371.9" y1="225" x2="371.9" y2="226.6" stroke="#262626" stroke-width="0.6"/>
<line x1="376.39" y1="225" x2="376.39" y2="225.9" stroke="#262626" stroke-width="0.6"/>
<line x1="379.01" y1="225" x2="379.01" y2="225.9" stroke="#262626" stroke-width="0.6"/>
<line x1="380.87" y1="225" x2="380.87" y2="225.9" stroke="#262626" stroke-width="0.6"/>
<line x1="382.31" y1="225" x2="382.31" y2="225.9" stroke="#262626" stroke-width="0.6"/>
<line x1="383.49" y1="225" x2="383.49" y2="225.9" stroke="#262626" stroke-width="0.6"/>
<line x1="384.49" y1="225" x2="384.49" y2="225.9" stroke="#262626" stroke-width="0.6"/>
<line x1="385.36" y1="225" x2="385.36" y2="225.9" stroke="#262626" stroke-width="0.6"/>
<line x1="386.12" y1="225" x2="386.12" y2="225.9" stroke="#262626" stroke-width="0.6"/>
<line x1="386.8" y1="225" x2="386.8" y2="226.6" stroke="#262626" stroke-width="0.6"/>
<line x1="391.29" y1="225" x2="391.29" y2="225.9" stroke="#262626" stroke-width="0.6"/>
<line x1="393.91" y1="225" x2="393.91" y2="225.9" stroke="#262626" stroke-width="0.6"/>
<line x1="395.77" y1="225" x2="395.77" y2="225.9" stroke="#262626" stroke-width="0.6"/>
<line x1="397.21" y1="225" x2="397.21" y2="225.9" stroke="#262626" stroke-width="0.6"/>
<line x1="398.39" y1="225" x2="398.39" y2="225.9" stroke="#262626" stroke-width="0.6"/>
<line x1="399.39" y1="225" x2="399.39" y2="225.9" stroke="#262626" stroke-width="0.6"/>
<line x1="400.26" y1="225" x2="400.26" y2="225.9" stroke="#262626" stroke-width="0.6"/>
<line x1="401.02" y1="225" x2="401.02" y2="225.9" stroke="#262626" stroke-width="0.6"/>
<line x1="401.7" y1="225" x2="401.7" y2="226.6" stroke="#262626" stroke-width="0.6"/>
<line x1="406.19" y1="225" x2="406.19" y2="225.9" stroke="#262626" stroke-width="0.6"/>
<line x1="408.81" y1="225" x2="408.81" y2="225.9" stroke="#262626" stroke-width="0.6"/>
<line x1="410.67" y1="225" x2="410.67" y2="225.9" stroke="#262626" stroke-width="0.6"/>
<line x1="412.11" y1="225" x2="412.11" y2="225.9" stroke="#262626" stroke-width="0.6"/>
<line x1="413.29" y1="225" x2="413.29" y2="225.9" stroke="#262626" stroke-width="0.6"/>
<line x1="414.29" y1="225" x2="414.29" y2="225.9" stroke="#262626" stroke-width="0.6"/>
<line x1="415.16" y1="225" x2="415.16" y2="225.9" stroke="#262626" stroke-width="0.6"/>
<line x1="415.92" y1="225" x2="415.92" y2="225.9" stroke="#262626" stroke-width="0.6"/>
<text x="333" y="198.75" font-size="8.1" fill="#262626" stroke="#262626" stroke-width="0.3" text-anchor="middle" transform="rotate(-90 333 198.75)" dy="2.7">% of max</text>
<rect x="357" y="235.2" width="59.6" height="51.5" fill="none" stroke="#1e1e1e" stroke-width="1.1"/>
<polyline points="357,258.28 357.89,259.28 358.79,260.54 359.68,259.64 360.58,260.66 361.47,261.39 362.36,263.67 363.16,262.56 363.95,264.44 364.75,265.05 365.54,267.77 366.34,269.02 367.13,268.61 368.03,267.25 368.92,268.53 369.81,264.39 370.71,265.8 371.5,264.75 372.3,264.09 373.09,263.1 373.89,262.59 374.68,263.96 375.48,257.42 376.22,256.26 376.97,256.3 377.71,254.63 378.46,252.4 379.25,253.94 380.05,247.67 380.84,248.54 381.63,246.7 382.43,242.58 383.22,238.19 384.12,239.96 385.01,246.38 386.2,255.33 387.4,269.3 388.59,281.82 389.78,286.7" fill="none" stroke="#2e4680" stroke-width="1.8" stroke-dasharray="1.5 1.1" stroke-linejoin="round"/>
<polyline points="357,286.7 357,238.68 357.6,279.91 358.29,278.15 358.99,275.74 359.68,273.9 360.58,273.92 361.47,272.92 362.36,275.64 363.16,274 363.95,272.07 364.75,267.31 365.54,269.69 366.34,266.91 367.13,270.41 367.93,269.01 368.72,266.25 369.52,261.7 370.41,258.3 371.3,255.26 372.2,256.94 373.09,253.23 374.28,257.61 375.48,259.56 376.67,262.62 377.56,253.34 378.46,257.01 379.25,249.33 380.05,248.88 380.84,256.17 381.73,249.09 382.63,242.72 383.82,238.19 385.01,240.43 386.2,257.26 387.4,273.05 388.59,283.03 389.48,284.25 390.38,286.7 416.6,286.7" fill="none" stroke="#b0103a" stroke-width="1.8" stroke-linejoin="round"/>
<line x1="355" y1="286.7" x2="357" y2="286.7" stroke="#262626" stroke-width="0.8"/>
<text x="351.8" y="289" font-size="6.6" font-weight="normal" text-anchor="end" fill="#262626" stroke="#262626" stroke-width="0.25">0</text>
<line x1="355" y1="276.9" x2="357" y2="276.9" stroke="#262626" stroke-width="0.8"/>
<text x="351.8" y="279.2" font-size="6.6" font-weight="normal" text-anchor="end" fill="#262626" stroke="#262626" stroke-width="0.25">20</text>
<line x1="355" y1="267.1" x2="357" y2="267.1" stroke="#262626" stroke-width="0.8"/>
<text x="351.8" y="269.4" font-size="6.6" font-weight="normal" text-anchor="end" fill="#262626" stroke="#262626" stroke-width="0.25">40</text>
<line x1="355" y1="257.3" x2="357" y2="257.3" stroke="#262626" stroke-width="0.8"/>
<text x="351.8" y="259.6" font-size="6.6" font-weight="normal" text-anchor="end" fill="#262626" stroke="#262626" stroke-width="0.25">60</text>
<line x1="355" y1="247.5" x2="357" y2="247.5" stroke="#262626" stroke-width="0.8"/>
<text x="351.8" y="249.8" font-size="6.6" font-weight="normal" text-anchor="end" fill="#262626" stroke="#262626" stroke-width="0.25">80</text>
<line x1="355" y1="237.7" x2="357" y2="237.7" stroke="#262626" stroke-width="0.8"/>
<text x="351.8" y="240" font-size="6.6" font-weight="normal" text-anchor="end" fill="#262626" stroke="#262626" stroke-width="0.25">100</text>
<line x1="361.49" y1="286.7" x2="361.49" y2="287.6" stroke="#262626" stroke-width="0.6"/>
<line x1="364.11" y1="286.7" x2="364.11" y2="287.6" stroke="#262626" stroke-width="0.6"/>
<line x1="365.97" y1="286.7" x2="365.97" y2="287.6" stroke="#262626" stroke-width="0.6"/>
<line x1="367.41" y1="286.7" x2="367.41" y2="287.6" stroke="#262626" stroke-width="0.6"/>
<line x1="368.59" y1="286.7" x2="368.59" y2="287.6" stroke="#262626" stroke-width="0.6"/>
<line x1="369.59" y1="286.7" x2="369.59" y2="287.6" stroke="#262626" stroke-width="0.6"/>
<line x1="370.46" y1="286.7" x2="370.46" y2="287.6" stroke="#262626" stroke-width="0.6"/>
<line x1="371.22" y1="286.7" x2="371.22" y2="287.6" stroke="#262626" stroke-width="0.6"/>
<line x1="371.9" y1="286.7" x2="371.9" y2="288.3" stroke="#262626" stroke-width="0.6"/>
<line x1="376.39" y1="286.7" x2="376.39" y2="287.6" stroke="#262626" stroke-width="0.6"/>
<line x1="379.01" y1="286.7" x2="379.01" y2="287.6" stroke="#262626" stroke-width="0.6"/>
<line x1="380.87" y1="286.7" x2="380.87" y2="287.6" stroke="#262626" stroke-width="0.6"/>
<line x1="382.31" y1="286.7" x2="382.31" y2="287.6" stroke="#262626" stroke-width="0.6"/>
<line x1="383.49" y1="286.7" x2="383.49" y2="287.6" stroke="#262626" stroke-width="0.6"/>
<line x1="384.49" y1="286.7" x2="384.49" y2="287.6" stroke="#262626" stroke-width="0.6"/>
<line x1="385.36" y1="286.7" x2="385.36" y2="287.6" stroke="#262626" stroke-width="0.6"/>
<line x1="386.12" y1="286.7" x2="386.12" y2="287.6" stroke="#262626" stroke-width="0.6"/>
<line x1="386.8" y1="286.7" x2="386.8" y2="288.3" stroke="#262626" stroke-width="0.6"/>
<line x1="391.29" y1="286.7" x2="391.29" y2="287.6" stroke="#262626" stroke-width="0.6"/>
<line x1="393.91" y1="286.7" x2="393.91" y2="287.6" stroke="#262626" stroke-width="0.6"/>
<line x1="395.77" y1="286.7" x2="395.77" y2="287.6" stroke="#262626" stroke-width="0.6"/>
<line x1="397.21" y1="286.7" x2="397.21" y2="287.6" stroke="#262626" stroke-width="0.6"/>
<line x1="398.39" y1="286.7" x2="398.39" y2="287.6" stroke="#262626" stroke-width="0.6"/>
<line x1="399.39" y1="286.7" x2="399.39" y2="287.6" stroke="#262626" stroke-width="0.6"/>
<line x1="400.26" y1="286.7" x2="400.26" y2="287.6" stroke="#262626" stroke-width="0.6"/>
<line x1="401.02" y1="286.7" x2="401.02" y2="287.6" stroke="#262626" stroke-width="0.6"/>
<line x1="401.7" y1="286.7" x2="401.7" y2="288.3" stroke="#262626" stroke-width="0.6"/>
<line x1="406.19" y1="286.7" x2="406.19" y2="287.6" stroke="#262626" stroke-width="0.6"/>
<line x1="408.81" y1="286.7" x2="408.81" y2="287.6" stroke="#262626" stroke-width="0.6"/>
<line x1="410.67" y1="286.7" x2="410.67" y2="287.6" stroke="#262626" stroke-width="0.6"/>
<line x1="412.11" y1="286.7" x2="412.11" y2="287.6" stroke="#262626" stroke-width="0.6"/>
<line x1="413.29" y1="286.7" x2="413.29" y2="287.6" stroke="#262626" stroke-width="0.6"/>
<line x1="414.29" y1="286.7" x2="414.29" y2="287.6" stroke="#262626" stroke-width="0.6"/>
<line x1="415.16" y1="286.7" x2="415.16" y2="287.6" stroke="#262626" stroke-width="0.6"/>
<line x1="415.92" y1="286.7" x2="415.92" y2="287.6" stroke="#262626" stroke-width="0.6"/>
<text x="333" y="260.95" font-size="8.1" fill="#262626" stroke="#262626" stroke-width="0.3" text-anchor="middle" transform="rotate(-90 333 260.95)" dy="2.7">% of max</text>
<text x="481.85" y="167.7" font-size="8.6" font-weight="bold" text-anchor="middle" fill="#1a1a1a" stroke="#1a1a1a" stroke-width="0.5">Basal</text>
<rect x="451.7" y="172.5" width="60.3" height="52.5" fill="none" stroke="#1e1e1e" stroke-width="1.1"/>
<polyline points="451.7,175 452.5,175 453.31,183.43 454.11,183.32 454.92,189.01 455.72,187.8 456.52,186.2 457.43,195.09 458.33,191.31 459.24,196.43 460.14,195.75 460.95,199.34 461.75,205.08 462.55,202.09 463.36,207.1 464.16,212.06 464.97,213.98 465.77,213.05 466.57,215.25 467.38,217.93 468.18,220.22 468.99,220.95 469.79,222 470.69,223.5 471.6,225" fill="none" stroke="#2e4680" stroke-width="1.8" stroke-dasharray="1.5 1.1" stroke-linejoin="round"/>
<polyline points="451.7,225 451.7,175 452.3,178.02 452.91,175 453.51,184.78 454.11,180.09 454.71,178.49 455.32,184.65 455.92,180.16 456.52,185.45 457.13,182.39 457.73,187.02 458.33,189.73 458.94,193.03 459.84,188.21 460.75,193.14 461.65,196.34 462.55,196.69 463.36,198.49 464.16,201 464.97,200.82 465.87,194.79 466.77,201.06 467.38,196.93 467.98,205.22 468.58,207.43 469.19,207.92 469.79,212.66 470.39,213.8 471.3,213.44 472.2,217.13 473.11,219.64 474.01,223 474.81,223.67 475.62,224.33 476.42,225 512,225" fill="none" stroke="#b0103a" stroke-width="1.8" stroke-linejoin="round"/>
<polyline points="451.7,225 451.7,175 452.3,175 452.91,175 453.51,175.77 454.11,182.03 454.71,179.64 455.32,185.33 455.92,182.02 456.52,187.97 457.13,183.82 457.73,183.61 458.33,190.55 458.94,196.33 459.84,188.9 460.75,197.58 461.65,195.27 462.55,197.5 463.36,198.27 464.16,194.37 464.97,192.43 465.87,200.3 466.77,197.5 467.38,202.86 467.98,202.49 468.58,206.37 469.19,210.53 469.79,212.86 470.39,214.86 471.3,213.72 472.2,219.01 473.11,222.22 474.01,223 474.81,223.67 475.62,224.33 476.42,225 512,225" fill="none" stroke="#b0103a" stroke-width="1.8" stroke-linejoin="round"/>
<line x1="449.7" y1="225" x2="451.7" y2="225" stroke="#262626" stroke-width="0.8"/>
<text x="446.5" y="227.3" font-size="6.6" font-weight="normal" text-anchor="end" fill="#262626" stroke="#262626" stroke-width="0.25">0</text>
<line x1="449.7" y1="215" x2="451.7" y2="215" stroke="#262626" stroke-width="0.8"/>
<text x="446.5" y="217.3" font-size="6.6" font-weight="normal" text-anchor="end" fill="#262626" stroke="#262626" stroke-width="0.25">20</text>
<line x1="449.7" y1="205" x2="451.7" y2="205" stroke="#262626" stroke-width="0.8"/>
<text x="446.5" y="207.3" font-size="6.6" font-weight="normal" text-anchor="end" fill="#262626" stroke="#262626" stroke-width="0.25">40</text>
<line x1="449.7" y1="195" x2="451.7" y2="195" stroke="#262626" stroke-width="0.8"/>
<text x="446.5" y="197.3" font-size="6.6" font-weight="normal" text-anchor="end" fill="#262626" stroke="#262626" stroke-width="0.25">60</text>
<line x1="449.7" y1="185" x2="451.7" y2="185" stroke="#262626" stroke-width="0.8"/>
<text x="446.5" y="187.3" font-size="6.6" font-weight="normal" text-anchor="end" fill="#262626" stroke="#262626" stroke-width="0.25">80</text>
<line x1="449.7" y1="175" x2="451.7" y2="175" stroke="#262626" stroke-width="0.8"/>
<text x="446.5" y="177.3" font-size="6.6" font-weight="normal" text-anchor="end" fill="#262626" stroke="#262626" stroke-width="0.25">100</text>
<line x1="456.24" y1="225" x2="456.24" y2="225.9" stroke="#262626" stroke-width="0.6"/>
<line x1="458.89" y1="225" x2="458.89" y2="225.9" stroke="#262626" stroke-width="0.6"/>
<line x1="460.78" y1="225" x2="460.78" y2="225.9" stroke="#262626" stroke-width="0.6"/>
<line x1="462.24" y1="225" x2="462.24" y2="225.9" stroke="#262626" stroke-width="0.6"/>
<line x1="463.43" y1="225" x2="463.43" y2="225.9" stroke="#262626" stroke-width="0.6"/>
<line x1="464.44" y1="225" x2="464.44" y2="225.9" stroke="#262626" stroke-width="0.6"/>
<line x1="465.31" y1="225" x2="465.31" y2="225.9" stroke="#262626" stroke-width="0.6"/>
<line x1="466.09" y1="225" x2="466.09" y2="225.9" stroke="#262626" stroke-width="0.6"/>
<line x1="466.77" y1="225" x2="466.77" y2="226.6" stroke="#262626" stroke-width="0.6"/>
<line x1="471.31" y1="225" x2="471.31" y2="225.9" stroke="#262626" stroke-width="0.6"/>
<line x1="473.97" y1="225" x2="473.97" y2="225.9" stroke="#262626" stroke-width="0.6"/>
<line x1="475.85" y1="225" x2="475.85" y2="225.9" stroke="#262626" stroke-width="0.6"/>
<line x1="477.31" y1="225" x2="477.31" y2="225.9" stroke="#262626" stroke-width="0.6"/>
<line x1="478.51" y1="225" x2="478.51" y2="225.9" stroke="#262626" stroke-width="0.6"/>
<line x1="479.51" y1="225" x2="479.51" y2="225.9" stroke="#262626" stroke-width="0.6"/>
<line x1="480.39" y1="225" x2="480.39" y2="225.9" stroke="#262626" stroke-width="0.6"/>
<line x1="481.16" y1="225" x2="481.16" y2="225.9" stroke="#262626" stroke-width="0.6"/>
<line x1="481.85" y1="225" x2="481.85" y2="226.6" stroke="#262626" stroke-width="0.6"/>
<line x1="486.39" y1="225" x2="486.39" y2="225.9" stroke="#262626" stroke-width="0.6"/>
<line x1="489.04" y1="225" x2="489.04" y2="225.9" stroke="#262626" stroke-width="0.6"/>
<line x1="490.93" y1="225" x2="490.93" y2="225.9" stroke="#262626" stroke-width="0.6"/>
<line x1="492.39" y1="225" x2="492.39" y2="225.9" stroke="#262626" stroke-width="0.6"/>
<line x1="493.58" y1="225" x2="493.58" y2="225.9" stroke="#262626" stroke-width="0.6"/>
<line x1="494.59" y1="225" x2="494.59" y2="225.9" stroke="#262626" stroke-width="0.6"/>
<line x1="495.46" y1="225" x2="495.46" y2="225.9" stroke="#262626" stroke-width="0.6"/>
<line x1="496.24" y1="225" x2="496.24" y2="225.9" stroke="#262626" stroke-width="0.6"/>
<line x1="496.93" y1="225" x2="496.93" y2="226.6" stroke="#262626" stroke-width="0.6"/>
<line x1="501.46" y1="225" x2="501.46" y2="225.9" stroke="#262626" stroke-width="0.6"/>
<line x1="504.12" y1="225" x2="504.12" y2="225.9" stroke="#262626" stroke-width="0.6"/>
<line x1="506" y1="225" x2="506" y2="225.9" stroke="#262626" stroke-width="0.6"/>
<line x1="507.46" y1="225" x2="507.46" y2="225.9" stroke="#262626" stroke-width="0.6"/>
<line x1="508.66" y1="225" x2="508.66" y2="225.9" stroke="#262626" stroke-width="0.6"/>
<line x1="509.66" y1="225" x2="509.66" y2="225.9" stroke="#262626" stroke-width="0.6"/>
<line x1="510.54" y1="225" x2="510.54" y2="225.9" stroke="#262626" stroke-width="0.6"/>
<line x1="511.31" y1="225" x2="511.31" y2="225.9" stroke="#262626" stroke-width="0.6"/>
<text x="427.7" y="198.75" font-size="8.1" fill="#262626" stroke="#262626" stroke-width="0.3" text-anchor="middle" transform="rotate(-90 427.7 198.75)" dy="2.7">% of max</text>
<rect x="451.7" y="235.2" width="60.3" height="51.5" fill="none" stroke="#1e1e1e" stroke-width="1.1"/>
<polyline points="451.7,238.19 452.5,237.76 453.31,239.06 454.11,243.85 455.02,248.74 455.92,251.64 456.72,253.99 457.53,254.41 458.33,257.58 459.24,259.22 460.14,261.57 461.05,262.31 461.95,263.18 462.7,265.53 463.46,268.73 464.21,270.29 464.97,271.41 465.77,274.1 466.57,276.33 467.38,279.28 468.18,280.33 468.99,280.22 469.79,283.27 470.69,284.99 471.6,286.7" fill="none" stroke="#2e4680" stroke-width="1.8" stroke-dasharray="1.5 1.1" stroke-linejoin="round"/>
<polyline points="451.7,286.7 451.7,238.68 452.3,272.81 452.91,267.81 453.51,264.2 454.11,263.31 454.71,268.58 455.62,265.16 456.52,262.21 457.33,259.39 458.13,257.4 458.94,251.78 459.84,251.14 460.75,249.48 461.45,254.03 462.15,251.82 462.86,244.39 463.61,242.19 464.36,244.77 465.27,240.94 466.17,238.68 466.77,245.05 467.38,244.43 467.98,247.34 468.58,255.24 469.19,258.68 469.79,261.73 470.39,271.37 471,276.52 471.6,280.37 472.2,283.27 472.81,284.99 473.41,286.7 512,286.7" fill="none" stroke="#b0103a" stroke-width="1.8" stroke-linejoin="round"/>
<line x1="449.7" y1="286.7" x2="451.7" y2="286.7" stroke="#262626" stroke-width="0.8"/>
<text x="446.5" y="289" font-size="6.6" font-weight="normal" text-anchor="end" fill="#262626" stroke="#262626" stroke-width="0.25">0</text>
<line x1="449.7" y1="276.9" x2="451.7" y2="276.9" stroke="#262626" stroke-width="0.8"/>
<text x="446.5" y="279.2" font-size="6.6" font-weight="normal" text-anchor="end" fill="#262626" stroke="#262626" stroke-width="0.25">20</text>
<line x1="449.7" y1="267.1" x2="451.7" y2="267.1" stroke="#262626" stroke-width="0.8"/>
<text x="446.5" y="269.4" font-size="6.6" font-weight="normal" text-anchor="end" fill="#262626" stroke="#262626" stroke-width="0.25">40</text>
<line x1="449.7" y1="257.3" x2="451.7" y2="257.3" stroke="#262626" stroke-width="0.8"/>
<text x="446.5" y="259.6" font-size="6.6" font-weight="normal" text-anchor="end" fill="#262626" stroke="#262626" stroke-width="0.25">60</text>
<line x1="449.7" y1="247.5" x2="451.7" y2="247.5" stroke="#262626" stroke-width="0.8"/>
<text x="446.5" y="249.8" font-size="6.6" font-weight="normal" text-anchor="end" fill="#262626" stroke="#262626" stroke-width="0.25">80</text>
<line x1="449.7" y1="237.7" x2="451.7" y2="237.7" stroke="#262626" stroke-width="0.8"/>
<text x="446.5" y="240" font-size="6.6" font-weight="normal" text-anchor="end" fill="#262626" stroke="#262626" stroke-width="0.25">100</text>
<line x1="456.24" y1="286.7" x2="456.24" y2="287.6" stroke="#262626" stroke-width="0.6"/>
<line x1="458.89" y1="286.7" x2="458.89" y2="287.6" stroke="#262626" stroke-width="0.6"/>
<line x1="460.78" y1="286.7" x2="460.78" y2="287.6" stroke="#262626" stroke-width="0.6"/>
<line x1="462.24" y1="286.7" x2="462.24" y2="287.6" stroke="#262626" stroke-width="0.6"/>
<line x1="463.43" y1="286.7" x2="463.43" y2="287.6" stroke="#262626" stroke-width="0.6"/>
<line x1="464.44" y1="286.7" x2="464.44" y2="287.6" stroke="#262626" stroke-width="0.6"/>
<line x1="465.31" y1="286.7" x2="465.31" y2="287.6" stroke="#262626" stroke-width="0.6"/>
<line x1="466.09" y1="286.7" x2="466.09" y2="287.6" stroke="#262626" stroke-width="0.6"/>
<line x1="466.77" y1="286.7" x2="466.77" y2="288.3" stroke="#262626" stroke-width="0.6"/>
<line x1="471.31" y1="286.7" x2="471.31" y2="287.6" stroke="#262626" stroke-width="0.6"/>
<line x1="473.97" y1="286.7" x2="473.97" y2="287.6" stroke="#262626" stroke-width="0.6"/>
<line x1="475.85" y1="286.7" x2="475.85" y2="287.6" stroke="#262626" stroke-width="0.6"/>
<line x1="477.31" y1="286.7" x2="477.31" y2="287.6" stroke="#262626" stroke-width="0.6"/>
<line x1="478.51" y1="286.7" x2="478.51" y2="287.6" stroke="#262626" stroke-width="0.6"/>
<line x1="479.51" y1="286.7" x2="479.51" y2="287.6" stroke="#262626" stroke-width="0.6"/>
<line x1="480.39" y1="286.7" x2="480.39" y2="287.6" stroke="#262626" stroke-width="0.6"/>
<line x1="481.16" y1="286.7" x2="481.16" y2="287.6" stroke="#262626" stroke-width="0.6"/>
<line x1="481.85" y1="286.7" x2="481.85" y2="288.3" stroke="#262626" stroke-width="0.6"/>
<line x1="486.39" y1="286.7" x2="486.39" y2="287.6" stroke="#262626" stroke-width="0.6"/>
<line x1="489.04" y1="286.7" x2="489.04" y2="287.6" stroke="#262626" stroke-width="0.6"/>
<line x1="490.93" y1="286.7" x2="490.93" y2="287.6" stroke="#262626" stroke-width="0.6"/>
<line x1="492.39" y1="286.7" x2="492.39" y2="287.6" stroke="#262626" stroke-width="0.6"/>
<line x1="493.58" y1="286.7" x2="493.58" y2="287.6" stroke="#262626" stroke-width="0.6"/>
<line x1="494.59" y1="286.7" x2="494.59" y2="287.6" stroke="#262626" stroke-width="0.6"/>
<line x1="495.46" y1="286.7" x2="495.46" y2="287.6" stroke="#262626" stroke-width="0.6"/>
<line x1="496.24" y1="286.7" x2="496.24" y2="287.6" stroke="#262626" stroke-width="0.6"/>
<line x1="496.93" y1="286.7" x2="496.93" y2="288.3" stroke="#262626" stroke-width="0.6"/>
<line x1="501.46" y1="286.7" x2="501.46" y2="287.6" stroke="#262626" stroke-width="0.6"/>
<line x1="504.12" y1="286.7" x2="504.12" y2="287.6" stroke="#262626" stroke-width="0.6"/>
<line x1="506" y1="286.7" x2="506" y2="287.6" stroke="#262626" stroke-width="0.6"/>
<line x1="507.46" y1="286.7" x2="507.46" y2="287.6" stroke="#262626" stroke-width="0.6"/>
<line x1="508.66" y1="286.7" x2="508.66" y2="287.6" stroke="#262626" stroke-width="0.6"/>
<line x1="509.66" y1="286.7" x2="509.66" y2="287.6" stroke="#262626" stroke-width="0.6"/>
<line x1="510.54" y1="286.7" x2="510.54" y2="287.6" stroke="#262626" stroke-width="0.6"/>
<line x1="511.31" y1="286.7" x2="511.31" y2="287.6" stroke="#262626" stroke-width="0.6"/>
<text x="427.7" y="260.95" font-size="8.1" fill="#262626" stroke="#262626" stroke-width="0.3" text-anchor="middle" transform="rotate(-90 427.7 260.95)" dy="2.7">% of max</text>
<text x="7.9" y="201.8" font-size="8.9" font-weight="bold" text-anchor="start" fill="#1a1a1a" stroke="#1a1a1a" stroke-width="0.5">Patient A</text>
<text x="7.9" y="263.9" font-size="8.9" font-weight="bold" text-anchor="start" fill="#1a1a1a" stroke="#1a1a1a" stroke-width="0.5">Patient B</text>
<line x1="60.1" y1="296.3" x2="85.8" y2="296.3" stroke="#111" stroke-width="1.2"/>
<polygon points="84.3,294.1 89.8,296.3 84.3,298.5" fill="#111"/>
<text x="96" y="298.9" font-size="8.7" font-weight="normal" text-anchor="start" fill="#2a2a2a" textLength="26" lengthAdjust="spacingAndGlyphs" stroke="#2a2a2a" stroke-width="0.25">pSTAT5</text>
<text x="114.25" y="354.3" font-size="8.6" font-weight="bold" text-anchor="middle" fill="#1a1a1a" stroke="#1a1a1a" stroke-width="0.5">IFN&#945;</text>
<rect x="78.2" y="359.5" width="72.1" height="57.8" fill="none" stroke="#1e1e1e" stroke-width="1.1"/>
<polyline points="78.2,410.72 78.92,409.57 79.64,408.06 80.36,406.25 81.08,405.72 81.81,405.7 82.53,405.15 83.25,405.81 83.97,405.31 84.69,406.59 85.41,404.79 86.13,406.74 86.85,405.16 87.69,404.45 88.53,404.03 89.38,403.18 90.22,400.11 91.06,395.95 91.9,392.91 92.62,394.7 93.34,394.23 94.06,391.57 94.78,390.62 95.5,387.68 96.23,384.6 96.95,377.93 97.67,375.71 98.39,370.54 99.11,365.97 99.83,363.13 100.55,364.03 101.27,362.5 101.99,371.11 102.71,379.06 103.44,383.94 104.16,385.59 104.88,391.76 105.6,398.83 106.32,405.09 107.04,407.71 107.76,411.43 108.48,412.68 109.2,413.69 109.92,413.88 110.65,414.56 111.37,414.56 112.09,414.56 112.81,414.56 113.53,414.56 114.25,414.56 114.97,415.38 115.69,416.2 116.41,416.57 117.13,416.93 117.86,417.3" fill="none" stroke="#2e4680" stroke-width="1.8" stroke-dasharray="1.5 1.1" stroke-linejoin="round"/>
<polyline points="78.2,417.3 78.2,363.05 78.92,408.48 79.64,406 80.36,407.26 81.08,406.68 81.81,405.92 82.53,406.12 83.25,405.61 83.97,406.77 84.69,403.43 85.41,404.43 86.13,406.14 86.85,408.05 87.69,403.08 88.53,404.08 89.38,399.88 90.22,399.9 91.06,397.15 91.9,391.04 92.62,393.37 93.34,388.69 94.06,390.75 94.78,391.96 95.5,387.34 96.23,381.68 96.95,375.66 97.67,369.41 98.39,370.85 99.11,365.39 99.83,366.03 100.55,363.6 101.27,363.05 101.99,362.5 102.71,367.05 103.44,371.98 104.16,372.02 104.88,378 105.6,381.83 106.32,382.9 107.04,387.38 107.76,393.76 108.48,397.85 109.2,402.85 109.92,409.69 110.65,412.29 111.37,413.46 112.09,415.66 112.81,416.2 113.53,416.75 114.25,417.3 150.3,417.3" fill="none" stroke="#b0103a" stroke-width="1.8" stroke-linejoin="round"/>
<line x1="76.2" y1="417.3" x2="78.2" y2="417.3" stroke="#262626" stroke-width="0.8"/>
<text x="73" y="419.6" font-size="6.6" font-weight="normal" text-anchor="end" fill="#262626" stroke="#262626" stroke-width="0.25">0</text>
<line x1="76.2" y1="406.34" x2="78.2" y2="406.34" stroke="#262626" stroke-width="0.8"/>
<text x="73" y="408.64" font-size="6.6" font-weight="normal" text-anchor="end" fill="#262626" stroke="#262626" stroke-width="0.25">20</text>
<line x1="76.2" y1="395.38" x2="78.2" y2="395.38" stroke="#262626" stroke-width="0.8"/>
<text x="73" y="397.68" font-size="6.6" font-weight="normal" text-anchor="end" fill="#262626" stroke="#262626" stroke-width="0.25">40</text>
<line x1="76.2" y1="384.42" x2="78.2" y2="384.42" stroke="#262626" stroke-width="0.8"/>
<text x="73" y="386.72" font-size="6.6" font-weight="normal" text-anchor="end" fill="#262626" stroke="#262626" stroke-width="0.25">60</text>
<line x1="76.2" y1="373.46" x2="78.2" y2="373.46" stroke="#262626" stroke-width="0.8"/>
<text x="73" y="375.76" font-size="6.6" font-weight="normal" text-anchor="end" fill="#262626" stroke="#262626" stroke-width="0.25">80</text>
<line x1="76.2" y1="362.5" x2="78.2" y2="362.5" stroke="#262626" stroke-width="0.8"/>
<text x="73" y="364.8" font-size="6.6" font-weight="normal" text-anchor="end" fill="#262626" stroke="#262626" stroke-width="0.25">100</text>
<line x1="83.63" y1="417.3" x2="83.63" y2="418.2" stroke="#262626" stroke-width="0.6"/>
<line x1="86.8" y1="417.3" x2="86.8" y2="418.2" stroke="#262626" stroke-width="0.6"/>
<line x1="89.05" y1="417.3" x2="89.05" y2="418.2" stroke="#262626" stroke-width="0.6"/>
<line x1="90.8" y1="417.3" x2="90.8" y2="418.2" stroke="#262626" stroke-width="0.6"/>
<line x1="92.23" y1="417.3" x2="92.23" y2="418.2" stroke="#262626" stroke-width="0.6"/>
<line x1="93.43" y1="417.3" x2="93.43" y2="418.2" stroke="#262626" stroke-width="0.6"/>
<line x1="94.48" y1="417.3" x2="94.48" y2="418.2" stroke="#262626" stroke-width="0.6"/>
<line x1="95.4" y1="417.3" x2="95.4" y2="418.2" stroke="#262626" stroke-width="0.6"/>
<line x1="96.23" y1="417.3" x2="96.23" y2="418.9" stroke="#262626" stroke-width="0.6"/>
<line x1="101.65" y1="417.3" x2="101.65" y2="418.2" stroke="#262626" stroke-width="0.6"/>
<line x1="104.83" y1="417.3" x2="104.83" y2="418.2" stroke="#262626" stroke-width="0.6"/>
<line x1="107.08" y1="417.3" x2="107.08" y2="418.2" stroke="#262626" stroke-width="0.6"/>
<line x1="108.82" y1="417.3" x2="108.82" y2="418.2" stroke="#262626" stroke-width="0.6"/>
<line x1="110.25" y1="417.3" x2="110.25" y2="418.2" stroke="#262626" stroke-width="0.6"/>
<line x1="111.46" y1="417.3" x2="111.46" y2="418.2" stroke="#262626" stroke-width="0.6"/>
<line x1="112.5" y1="417.3" x2="112.5" y2="418.2" stroke="#262626" stroke-width="0.6"/>
<line x1="113.43" y1="417.3" x2="113.43" y2="418.2" stroke="#262626" stroke-width="0.6"/>
<line x1="114.25" y1="417.3" x2="114.25" y2="418.9" stroke="#262626" stroke-width="0.6"/>
<line x1="119.68" y1="417.3" x2="119.68" y2="418.2" stroke="#262626" stroke-width="0.6"/>
<line x1="122.85" y1="417.3" x2="122.85" y2="418.2" stroke="#262626" stroke-width="0.6"/>
<line x1="125.1" y1="417.3" x2="125.1" y2="418.2" stroke="#262626" stroke-width="0.6"/>
<line x1="126.85" y1="417.3" x2="126.85" y2="418.2" stroke="#262626" stroke-width="0.6"/>
<line x1="128.28" y1="417.3" x2="128.28" y2="418.2" stroke="#262626" stroke-width="0.6"/>
<line x1="129.48" y1="417.3" x2="129.48" y2="418.2" stroke="#262626" stroke-width="0.6"/>
<line x1="130.53" y1="417.3" x2="130.53" y2="418.2" stroke="#262626" stroke-width="0.6"/>
<line x1="131.45" y1="417.3" x2="131.45" y2="418.2" stroke="#262626" stroke-width="0.6"/>
<line x1="132.28" y1="417.3" x2="132.28" y2="418.9" stroke="#262626" stroke-width="0.6"/>
<line x1="137.7" y1="417.3" x2="137.7" y2="418.2" stroke="#262626" stroke-width="0.6"/>
<line x1="140.88" y1="417.3" x2="140.88" y2="418.2" stroke="#262626" stroke-width="0.6"/>
<line x1="143.13" y1="417.3" x2="143.13" y2="418.2" stroke="#262626" stroke-width="0.6"/>
<line x1="144.87" y1="417.3" x2="144.87" y2="418.2" stroke="#262626" stroke-width="0.6"/>
<line x1="146.3" y1="417.3" x2="146.3" y2="418.2" stroke="#262626" stroke-width="0.6"/>
<line x1="147.51" y1="417.3" x2="147.51" y2="418.2" stroke="#262626" stroke-width="0.6"/>
<line x1="148.55" y1="417.3" x2="148.55" y2="418.2" stroke="#262626" stroke-width="0.6"/>
<line x1="149.48" y1="417.3" x2="149.48" y2="418.2" stroke="#262626" stroke-width="0.6"/>
<text x="53.6" y="388.4" font-size="8.1" fill="#262626" stroke="#262626" stroke-width="0.3" text-anchor="middle" transform="rotate(-90 53.6 388.4)" dy="2.7">% of max</text>
<rect x="78.2" y="429" width="72.1" height="57.8" fill="none" stroke="#1e1e1e" stroke-width="1.1"/>
<polyline points="78.2,485.16 78.92,484.47 79.64,483.79 80.36,483.1 81.08,481.2 81.81,480.59 82.53,481.68 83.25,478.59 83.97,478.45 84.69,476.98 85.41,475.67 86.13,474.86 86.85,474.14 87.57,470.43 88.29,467.55 89.02,461.72 89.74,463.78 90.46,456.99 91.18,459.83 91.9,457.13 92.62,452.49 93.34,449.2 94.06,448.31 94.78,447.37 95.5,441.48 96.23,440.64 96.95,435.82 97.67,438.82 98.39,438.13 99.11,435.23 99.83,440.91 100.55,439.31 101.27,437.58 101.99,438.58 103.07,456.74 104.16,464.81 104.88,465.93 105.6,462.64 106.32,471.46 107.04,474.91 107.76,480.15 108.48,483.13 109.2,484.06 109.92,485.43 110.65,486.8" fill="none" stroke="#2e4680" stroke-width="1.8" stroke-dasharray="1.5 1.1" stroke-linejoin="round"/>
<polyline points="78.2,486.8 78.2,470.79 78.92,471.89 79.64,479.14 80.36,479.46 81.08,475.83 81.81,476.29 82.53,474.95 83.25,475.05 83.97,469.47 84.69,467.46 85.41,468.36 86.13,467.78 86.85,474.93 87.57,474.42 88.29,473.79 89.02,467.7 89.74,464.42 90.46,463.34 91.18,459.39 91.9,459.19 92.62,460 93.34,451.81 94.06,453.96 94.78,442.77 95.5,437.58 96.23,433.83 96.95,432 97.67,433.1 98.39,432.55 99.11,433.8 99.83,438.44 100.55,435.77 101.27,437.32 101.99,435.55 103.07,451.04 104.16,463.08 105.06,459.78 105.96,465.25 106.86,474.68 107.76,482.79 108.48,481.1 109.2,482.58 109.92,480.5 110.65,484.61 111.37,486.8 150.3,486.8" fill="none" stroke="#b0103a" stroke-width="1.8" stroke-linejoin="round"/>
<line x1="76.2" y1="486.8" x2="78.2" y2="486.8" stroke="#262626" stroke-width="0.8"/>
<text x="73" y="489.1" font-size="6.6" font-weight="normal" text-anchor="end" fill="#262626" stroke="#262626" stroke-width="0.25">0</text>
<line x1="76.2" y1="475.84" x2="78.2" y2="475.84" stroke="#262626" stroke-width="0.8"/>
<text x="73" y="478.14" font-size="6.6" font-weight="normal" text-anchor="end" fill="#262626" stroke="#262626" stroke-width="0.25">20</text>
<line x1="76.2" y1="464.88" x2="78.2" y2="464.88" stroke="#262626" stroke-width="0.8"/>
<text x="73" y="467.18" font-size="6.6" font-weight="normal" text-anchor="end" fill="#262626" stroke="#262626" stroke-width="0.25">40</text>
<line x1="76.2" y1="453.92" x2="78.2" y2="453.92" stroke="#262626" stroke-width="0.8"/>
<text x="73" y="456.22" font-size="6.6" font-weight="normal" text-anchor="end" fill="#262626" stroke="#262626" stroke-width="0.25">60</text>
<line x1="76.2" y1="442.96" x2="78.2" y2="442.96" stroke="#262626" stroke-width="0.8"/>
<text x="73" y="445.26" font-size="6.6" font-weight="normal" text-anchor="end" fill="#262626" stroke="#262626" stroke-width="0.25">80</text>
<line x1="76.2" y1="432" x2="78.2" y2="432" stroke="#262626" stroke-width="0.8"/>
<text x="73" y="434.3" font-size="6.6" font-weight="normal" text-anchor="end" fill="#262626" stroke="#262626" stroke-width="0.25">100</text>
<line x1="83.63" y1="486.8" x2="83.63" y2="487.7" stroke="#262626" stroke-width="0.6"/>
<line x1="86.8" y1="486.8" x2="86.8" y2="487.7" stroke="#262626" stroke-width="0.6"/>
<line x1="89.05" y1="486.8" x2="89.05" y2="487.7" stroke="#262626" stroke-width="0.6"/>
<line x1="90.8" y1="486.8" x2="90.8" y2="487.7" stroke="#262626" stroke-width="0.6"/>
<line x1="92.23" y1="486.8" x2="92.23" y2="487.7" stroke="#262626" stroke-width="0.6"/>
<line x1="93.43" y1="486.8" x2="93.43" y2="487.7" stroke="#262626" stroke-width="0.6"/>
<line x1="94.48" y1="486.8" x2="94.48" y2="487.7" stroke="#262626" stroke-width="0.6"/>
<line x1="95.4" y1="486.8" x2="95.4" y2="487.7" stroke="#262626" stroke-width="0.6"/>
<line x1="96.23" y1="486.8" x2="96.23" y2="488.4" stroke="#262626" stroke-width="0.6"/>
<line x1="101.65" y1="486.8" x2="101.65" y2="487.7" stroke="#262626" stroke-width="0.6"/>
<line x1="104.83" y1="486.8" x2="104.83" y2="487.7" stroke="#262626" stroke-width="0.6"/>
<line x1="107.08" y1="486.8" x2="107.08" y2="487.7" stroke="#262626" stroke-width="0.6"/>
<line x1="108.82" y1="486.8" x2="108.82" y2="487.7" stroke="#262626" stroke-width="0.6"/>
<line x1="110.25" y1="486.8" x2="110.25" y2="487.7" stroke="#262626" stroke-width="0.6"/>
<line x1="111.46" y1="486.8" x2="111.46" y2="487.7" stroke="#262626" stroke-width="0.6"/>
<line x1="112.5" y1="486.8" x2="112.5" y2="487.7" stroke="#262626" stroke-width="0.6"/>
<line x1="113.43" y1="486.8" x2="113.43" y2="487.7" stroke="#262626" stroke-width="0.6"/>
<line x1="114.25" y1="486.8" x2="114.25" y2="488.4" stroke="#262626" stroke-width="0.6"/>
<line x1="119.68" y1="486.8" x2="119.68" y2="487.7" stroke="#262626" stroke-width="0.6"/>
<line x1="122.85" y1="486.8" x2="122.85" y2="487.7" stroke="#262626" stroke-width="0.6"/>
<line x1="125.1" y1="486.8" x2="125.1" y2="487.7" stroke="#262626" stroke-width="0.6"/>
<line x1="126.85" y1="486.8" x2="126.85" y2="487.7" stroke="#262626" stroke-width="0.6"/>
<line x1="128.28" y1="486.8" x2="128.28" y2="487.7" stroke="#262626" stroke-width="0.6"/>
<line x1="129.48" y1="486.8" x2="129.48" y2="487.7" stroke="#262626" stroke-width="0.6"/>
<line x1="130.53" y1="486.8" x2="130.53" y2="487.7" stroke="#262626" stroke-width="0.6"/>
<line x1="131.45" y1="486.8" x2="131.45" y2="487.7" stroke="#262626" stroke-width="0.6"/>
<line x1="132.28" y1="486.8" x2="132.28" y2="488.4" stroke="#262626" stroke-width="0.6"/>
<line x1="137.7" y1="486.8" x2="137.7" y2="487.7" stroke="#262626" stroke-width="0.6"/>
<line x1="140.88" y1="486.8" x2="140.88" y2="487.7" stroke="#262626" stroke-width="0.6"/>
<line x1="143.13" y1="486.8" x2="143.13" y2="487.7" stroke="#262626" stroke-width="0.6"/>
<line x1="144.87" y1="486.8" x2="144.87" y2="487.7" stroke="#262626" stroke-width="0.6"/>
<line x1="146.3" y1="486.8" x2="146.3" y2="487.7" stroke="#262626" stroke-width="0.6"/>
<line x1="147.51" y1="486.8" x2="147.51" y2="487.7" stroke="#262626" stroke-width="0.6"/>
<line x1="148.55" y1="486.8" x2="148.55" y2="487.7" stroke="#262626" stroke-width="0.6"/>
<line x1="149.48" y1="486.8" x2="149.48" y2="487.7" stroke="#262626" stroke-width="0.6"/>
<text x="53.6" y="457.9" font-size="8.1" fill="#262626" stroke="#262626" stroke-width="0.3" text-anchor="middle" transform="rotate(-90 53.6 457.9)" dy="2.7">% of max</text>
<text x="221.4" y="354.3" font-size="8.6" font-weight="bold" text-anchor="middle" fill="#1a1a1a" stroke="#1a1a1a" stroke-width="0.5">Basal</text>
<rect x="186" y="359.5" width="70.8" height="57.8" fill="none" stroke="#1e1e1e" stroke-width="1.1"/>
<polyline points="186,404.7 186.88,401.58 187.77,399.52 188.66,401.27 189.54,400.69 190.25,399.25 190.96,395.75 191.66,393.13 192.49,393.13 193.32,392.94 194.14,390.41 194.97,386.97 195.79,384.45 196.62,381.8 197.33,376.99 198.04,373.91 198.74,373.05 199.45,373.83 200.16,382.4 200.87,379.9 201.58,380.27 202.28,377.2 202.99,379.69 203.7,377.57 204.41,375.75 205.12,374.49 205.82,371.1 206.53,374.08 207.24,378.36 207.95,380.67 208.66,379.75 209.36,385.47 210.07,393.65 210.78,397.17 211.49,402.78 212.2,406.46 212.9,414.02 213.61,414.38 214.32,415.84 215.03,417.3 215.88,417.3 216.73,417.3 217.58,417.3 218.43,417.3 219.28,417.3 219.98,416.48 220.69,415.66 221.4,416.48 222.11,417.3" fill="none" stroke="#2e4680" stroke-width="1.8" stroke-dasharray="1.5 1.1" stroke-linejoin="round"/>
<polyline points="186,417.3 186,363.05 186.71,410.29 187.42,406.39 188.12,403.93 188.83,401.15 189.54,404.34 190.25,401.41 190.96,401.31 191.66,401.59 192.37,397.19 193.2,398.28 194.02,394.29 194.85,396.89 195.74,393.18 196.62,396.31 197.33,395.3 198.04,388.43 198.74,384.35 199.45,389.52 200.16,383.03 200.87,382.27 201.58,385.25 202.28,378.72 202.99,375.51 203.7,372.04 204.41,368.67 205.12,363.6 205.82,365.46 206.53,367.75 207.24,375.51 207.95,381.03 208.66,382.65 209.36,383.95 210.07,393.94 210.78,398.39 211.66,404.84 212.55,407.67 213.38,411.25 214.2,413.83 215.03,416.2 215.74,416.75 216.44,417.3 256.8,417.3" fill="none" stroke="#b0103a" stroke-width="1.8" stroke-linejoin="round"/>
<line x1="184" y1="417.3" x2="186" y2="417.3" stroke="#262626" stroke-width="0.8"/>
<text x="180.8" y="419.6" font-size="6.6" font-weight="normal" text-anchor="end" fill="#262626" stroke="#262626" stroke-width="0.25">0</text>
<line x1="184" y1="406.34" x2="186" y2="406.34" stroke="#262626" stroke-width="0.8"/>
<text x="180.8" y="408.64" font-size="6.6" font-weight="normal" text-anchor="end" fill="#262626" stroke="#262626" stroke-width="0.25">20</text>
<line x1="184" y1="395.38" x2="186" y2="395.38" stroke="#262626" stroke-width="0.8"/>
<text x="180.8" y="397.68" font-size="6.6" font-weight="normal" text-anchor="end" fill="#262626" stroke="#262626" stroke-width="0.25">40</text>
<line x1="184" y1="384.42" x2="186" y2="384.42" stroke="#262626" stroke-width="0.8"/>
<text x="180.8" y="386.72" font-size="6.6" font-weight="normal" text-anchor="end" fill="#262626" stroke="#262626" stroke-width="0.25">60</text>
<line x1="184" y1="373.46" x2="186" y2="373.46" stroke="#262626" stroke-width="0.8"/>
<text x="180.8" y="375.76" font-size="6.6" font-weight="normal" text-anchor="end" fill="#262626" stroke="#262626" stroke-width="0.25">80</text>
<line x1="184" y1="362.5" x2="186" y2="362.5" stroke="#262626" stroke-width="0.8"/>
<text x="180.8" y="364.8" font-size="6.6" font-weight="normal" text-anchor="end" fill="#262626" stroke="#262626" stroke-width="0.25">100</text>
<line x1="191.33" y1="417.3" x2="191.33" y2="418.2" stroke="#262626" stroke-width="0.6"/>
<line x1="194.45" y1="417.3" x2="194.45" y2="418.2" stroke="#262626" stroke-width="0.6"/>
<line x1="196.66" y1="417.3" x2="196.66" y2="418.2" stroke="#262626" stroke-width="0.6"/>
<line x1="198.37" y1="417.3" x2="198.37" y2="418.2" stroke="#262626" stroke-width="0.6"/>
<line x1="199.77" y1="417.3" x2="199.77" y2="418.2" stroke="#262626" stroke-width="0.6"/>
<line x1="200.96" y1="417.3" x2="200.96" y2="418.2" stroke="#262626" stroke-width="0.6"/>
<line x1="201.98" y1="417.3" x2="201.98" y2="418.2" stroke="#262626" stroke-width="0.6"/>
<line x1="202.89" y1="417.3" x2="202.89" y2="418.2" stroke="#262626" stroke-width="0.6"/>
<line x1="203.7" y1="417.3" x2="203.7" y2="418.9" stroke="#262626" stroke-width="0.6"/>
<line x1="209.03" y1="417.3" x2="209.03" y2="418.2" stroke="#262626" stroke-width="0.6"/>
<line x1="212.15" y1="417.3" x2="212.15" y2="418.2" stroke="#262626" stroke-width="0.6"/>
<line x1="214.36" y1="417.3" x2="214.36" y2="418.2" stroke="#262626" stroke-width="0.6"/>
<line x1="216.07" y1="417.3" x2="216.07" y2="418.2" stroke="#262626" stroke-width="0.6"/>
<line x1="217.47" y1="417.3" x2="217.47" y2="418.2" stroke="#262626" stroke-width="0.6"/>
<line x1="218.66" y1="417.3" x2="218.66" y2="418.2" stroke="#262626" stroke-width="0.6"/>
<line x1="219.68" y1="417.3" x2="219.68" y2="418.2" stroke="#262626" stroke-width="0.6"/>
<line x1="220.59" y1="417.3" x2="220.59" y2="418.2" stroke="#262626" stroke-width="0.6"/>
<line x1="221.4" y1="417.3" x2="221.4" y2="418.9" stroke="#262626" stroke-width="0.6"/>
<line x1="226.73" y1="417.3" x2="226.73" y2="418.2" stroke="#262626" stroke-width="0.6"/>
<line x1="229.85" y1="417.3" x2="229.85" y2="418.2" stroke="#262626" stroke-width="0.6"/>
<line x1="232.06" y1="417.3" x2="232.06" y2="418.2" stroke="#262626" stroke-width="0.6"/>
<line x1="233.77" y1="417.3" x2="233.77" y2="418.2" stroke="#262626" stroke-width="0.6"/>
<line x1="235.17" y1="417.3" x2="235.17" y2="418.2" stroke="#262626" stroke-width="0.6"/>
<line x1="236.36" y1="417.3" x2="236.36" y2="418.2" stroke="#262626" stroke-width="0.6"/>
<line x1="237.38" y1="417.3" x2="237.38" y2="418.2" stroke="#262626" stroke-width="0.6"/>
<line x1="238.29" y1="417.3" x2="238.29" y2="418.2" stroke="#262626" stroke-width="0.6"/>
<line x1="239.1" y1="417.3" x2="239.1" y2="418.9" stroke="#262626" stroke-width="0.6"/>
<line x1="244.43" y1="417.3" x2="244.43" y2="418.2" stroke="#262626" stroke-width="0.6"/>
<line x1="247.55" y1="417.3" x2="247.55" y2="418.2" stroke="#262626" stroke-width="0.6"/>
<line x1="249.76" y1="417.3" x2="249.76" y2="418.2" stroke="#262626" stroke-width="0.6"/>
<line x1="251.47" y1="417.3" x2="251.47" y2="418.2" stroke="#262626" stroke-width="0.6"/>
<line x1="252.87" y1="417.3" x2="252.87" y2="418.2" stroke="#262626" stroke-width="0.6"/>
<line x1="254.06" y1="417.3" x2="254.06" y2="418.2" stroke="#262626" stroke-width="0.6"/>
<line x1="255.08" y1="417.3" x2="255.08" y2="418.2" stroke="#262626" stroke-width="0.6"/>
<line x1="255.99" y1="417.3" x2="255.99" y2="418.2" stroke="#262626" stroke-width="0.6"/>
<text x="161.4" y="388.4" font-size="8.1" fill="#262626" stroke="#262626" stroke-width="0.3" text-anchor="middle" transform="rotate(-90 161.4 388.4)" dy="2.7">% of max</text>
<rect x="186" y="429" width="70.8" height="57.8" fill="none" stroke="#1e1e1e" stroke-width="1.1"/>
<rect x="186" y="440.22" width="1.98" height="46.58" fill="#36446a"/>
<polyline points="186,432.55 186.35,482.28 187.18,479.75 188.01,476.5 188.83,473.5 189.54,471 190.25,470.71 190.96,468.34 191.66,464.47 192.37,463.79 193.08,462.54 193.79,460.29 194.5,455.12 195.2,455.88 195.91,452.52 196.62,451.29 197.33,448.82 198.04,444.21 198.74,441.04 199.45,441.4 200.16,440.52 200.87,436.43 201.58,439.94 202.28,441.95 202.99,438.92 203.7,444.41 204.41,445.87 205.12,452.43 205.82,454.9 206.53,461.49 207.24,467.29 207.95,471.32 208.66,473.12 209.36,476.56 210.07,478.12 210.78,482.23 211.49,483.51 212.2,484.33 212.9,485.16 213.61,485.98 214.32,486.8" fill="none" stroke="#2e4680" stroke-width="1.8" stroke-dasharray="1.5 1.1" stroke-linejoin="round"/>
<polyline points="186,486.8 186,469.77 186.85,480.12 187.84,475.82 188.83,473.64 189.54,471.06 190.25,467.87 190.96,463.61 191.66,466.43 192.37,462.38 193.08,458.54 193.79,455.42 194.5,458.47 195.2,456.92 195.91,447.17 196.62,445.31 197.33,446.91 198.04,447.54 198.74,439.61 199.45,438.77 200.16,432 200.87,435.32 201.58,436.44 202.28,440.54 202.99,436.15 203.7,443.69 204.41,446.33 205.12,447.81 205.82,452.3 206.71,461.75 207.59,466.49 208.48,470.31 209.36,474.67 210.07,479 210.78,483.54 211.49,483.1 212.2,483.79 212.9,484.47 213.61,485.16 214.32,485.57 215.03,485.98 215.74,486.39 216.44,486.8 256.8,486.8" fill="none" stroke="#b0103a" stroke-width="1.8" stroke-linejoin="round"/>
<line x1="184" y1="486.8" x2="186" y2="486.8" stroke="#262626" stroke-width="0.8"/>
<text x="180.8" y="489.1" font-size="6.6" font-weight="normal" text-anchor="end" fill="#262626" stroke="#262626" stroke-width="0.25">0</text>
<line x1="184" y1="475.84" x2="186" y2="475.84" stroke="#262626" stroke-width="0.8"/>
<text x="180.8" y="478.14" font-size="6.6" font-weight="normal" text-anchor="end" fill="#262626" stroke="#262626" stroke-width="0.25">20</text>
<line x1="184" y1="464.88" x2="186" y2="464.88" stroke="#262626" stroke-width="0.8"/>
<text x="180.8" y="467.18" font-size="6.6" font-weight="normal" text-anchor="end" fill="#262626" stroke="#262626" stroke-width="0.25">40</text>
<line x1="184" y1="453.92" x2="186" y2="453.92" stroke="#262626" stroke-width="0.8"/>
<text x="180.8" y="456.22" font-size="6.6" font-weight="normal" text-anchor="end" fill="#262626" stroke="#262626" stroke-width="0.25">60</text>
<line x1="184" y1="442.96" x2="186" y2="442.96" stroke="#262626" stroke-width="0.8"/>
<text x="180.8" y="445.26" font-size="6.6" font-weight="normal" text-anchor="end" fill="#262626" stroke="#262626" stroke-width="0.25">80</text>
<line x1="184" y1="432" x2="186" y2="432" stroke="#262626" stroke-width="0.8"/>
<text x="180.8" y="434.3" font-size="6.6" font-weight="normal" text-anchor="end" fill="#262626" stroke="#262626" stroke-width="0.25">100</text>
<line x1="191.33" y1="486.8" x2="191.33" y2="487.7" stroke="#262626" stroke-width="0.6"/>
<line x1="194.45" y1="486.8" x2="194.45" y2="487.7" stroke="#262626" stroke-width="0.6"/>
<line x1="196.66" y1="486.8" x2="196.66" y2="487.7" stroke="#262626" stroke-width="0.6"/>
<line x1="198.37" y1="486.8" x2="198.37" y2="487.7" stroke="#262626" stroke-width="0.6"/>
<line x1="199.77" y1="486.8" x2="199.77" y2="487.7" stroke="#262626" stroke-width="0.6"/>
<line x1="200.96" y1="486.8" x2="200.96" y2="487.7" stroke="#262626" stroke-width="0.6"/>
<line x1="201.98" y1="486.8" x2="201.98" y2="487.7" stroke="#262626" stroke-width="0.6"/>
<line x1="202.89" y1="486.8" x2="202.89" y2="487.7" stroke="#262626" stroke-width="0.6"/>
<line x1="203.7" y1="486.8" x2="203.7" y2="488.4" stroke="#262626" stroke-width="0.6"/>
<line x1="209.03" y1="486.8" x2="209.03" y2="487.7" stroke="#262626" stroke-width="0.6"/>
<line x1="212.15" y1="486.8" x2="212.15" y2="487.7" stroke="#262626" stroke-width="0.6"/>
<line x1="214.36" y1="486.8" x2="214.36" y2="487.7" stroke="#262626" stroke-width="0.6"/>
<line x1="216.07" y1="486.8" x2="216.07" y2="487.7" stroke="#262626" stroke-width="0.6"/>
<line x1="217.47" y1="486.8" x2="217.47" y2="487.7" stroke="#262626" stroke-width="0.6"/>
<line x1="218.66" y1="486.8" x2="218.66" y2="487.7" stroke="#262626" stroke-width="0.6"/>
<line x1="219.68" y1="486.8" x2="219.68" y2="487.7" stroke="#262626" stroke-width="0.6"/>
<line x1="220.59" y1="486.8" x2="220.59" y2="487.7" stroke="#262626" stroke-width="0.6"/>
<line x1="221.4" y1="486.8" x2="221.4" y2="488.4" stroke="#262626" stroke-width="0.6"/>
<line x1="226.73" y1="486.8" x2="226.73" y2="487.7" stroke="#262626" stroke-width="0.6"/>
<line x1="229.85" y1="486.8" x2="229.85" y2="487.7" stroke="#262626" stroke-width="0.6"/>
<line x1="232.06" y1="486.8" x2="232.06" y2="487.7" stroke="#262626" stroke-width="0.6"/>
<line x1="233.77" y1="486.8" x2="233.77" y2="487.7" stroke="#262626" stroke-width="0.6"/>
<line x1="235.17" y1="486.8" x2="235.17" y2="487.7" stroke="#262626" stroke-width="0.6"/>
<line x1="236.36" y1="486.8" x2="236.36" y2="487.7" stroke="#262626" stroke-width="0.6"/>
<line x1="237.38" y1="486.8" x2="237.38" y2="487.7" stroke="#262626" stroke-width="0.6"/>
<line x1="238.29" y1="486.8" x2="238.29" y2="487.7" stroke="#262626" stroke-width="0.6"/>
<line x1="239.1" y1="486.8" x2="239.1" y2="488.4" stroke="#262626" stroke-width="0.6"/>
<line x1="244.43" y1="486.8" x2="244.43" y2="487.7" stroke="#262626" stroke-width="0.6"/>
<line x1="247.55" y1="486.8" x2="247.55" y2="487.7" stroke="#262626" stroke-width="0.6"/>
<line x1="249.76" y1="486.8" x2="249.76" y2="487.7" stroke="#262626" stroke-width="0.6"/>
<line x1="251.47" y1="486.8" x2="251.47" y2="487.7" stroke="#262626" stroke-width="0.6"/>
<line x1="252.87" y1="486.8" x2="252.87" y2="487.7" stroke="#262626" stroke-width="0.6"/>
<line x1="254.06" y1="486.8" x2="254.06" y2="487.7" stroke="#262626" stroke-width="0.6"/>
<line x1="255.08" y1="486.8" x2="255.08" y2="487.7" stroke="#262626" stroke-width="0.6"/>
<line x1="255.99" y1="486.8" x2="255.99" y2="487.7" stroke="#262626" stroke-width="0.6"/>
<text x="161.4" y="457.9" font-size="8.1" fill="#262626" stroke="#262626" stroke-width="0.3" text-anchor="middle" transform="rotate(-90 161.4 457.9)" dy="2.7">% of max</text>
<text x="333.7" y="354.3" font-size="8.6" font-weight="bold" text-anchor="middle" fill="#1a1a1a" stroke="#1a1a1a" stroke-width="0.5">GMCSF</text>
<rect x="298.4" y="359.5" width="70.6" height="57.8" fill="none" stroke="#1e1e1e" stroke-width="1.1"/>
<polyline points="298.4,414.56 299.28,414.83 300.16,415.11 301.05,415.38 301.93,415.66 302.81,415.66 303.69,415.66 304.58,415.66 305.46,415.66 306.34,414.42 307.22,413.88 308.11,411.3 308.99,409.49 309.87,411.38 310.75,408.87 311.64,407.37 312.52,409.09 313.37,405.76 314.21,407.98 315.06,405.75 315.91,405.49 316.76,404.75 317.64,405.47 318.52,404.47 319.4,403.26 320.29,403.37 320.99,397.34 321.7,393.49 322.4,388.63 323.11,385.34 323.82,375.84 324.52,370.78 325.23,375.08 325.93,374.58 326.64,373.11 327.35,373.72 328.05,372.69 328.76,368.14 329.46,370.12 330.17,369.71 330.88,371.42 331.58,377.06 332.29,372.17 332.99,369.01 333.7,369.15 334.41,366.87 335.11,371.64 335.82,375.86 336.52,383.81 337.23,392.03 337.94,400.83 338.64,405.23 339.35,412.18 340.05,414.56 340.76,417.3" fill="none" stroke="#2e4680" stroke-width="1.8" stroke-dasharray="1.5 1.1" stroke-linejoin="round"/>
<polyline points="298.4,417.3 298.4,363.05 299.11,414.01 299.95,414.19 300.8,414.38 301.65,414.56 302.42,414.97 303.2,415.38 303.98,415.79 304.75,416.2 305.46,415.79 306.17,415.38 306.87,414.97 307.58,414.56 308.28,411.32 308.99,413.18 309.7,408.55 310.4,406.91 311.11,407.21 311.81,405.82 312.52,408.75 313.23,404.37 314.05,406.2 314.87,402.9 315.7,402.33 316.52,405.24 317.34,399.96 318.17,397.47 318.87,401.35 319.58,397.4 320.29,392.27 320.99,395.95 321.7,388.8 322.4,392.57 323.11,386.4 323.82,390.83 324.52,388.78 325.23,386.22 325.93,390.27 326.64,387.6 327.35,383.82 328.05,383.81 328.76,384.92 329.46,382.28 330.35,380.27 331.23,371.28 332.11,371.34 332.99,367.25 333.7,367.6 334.41,362.5 335.11,363.6 335.82,369.16 336.52,367.71 337.23,371.72 337.94,379.07 338.64,382.79 339.35,393.85 340.05,401.73 340.76,408.44 341.47,413.74 342.17,417.3 369,417.3" fill="none" stroke="#b0103a" stroke-width="1.8" stroke-linejoin="round"/>
<line x1="296.4" y1="417.3" x2="298.4" y2="417.3" stroke="#262626" stroke-width="0.8"/>
<text x="293.2" y="419.6" font-size="6.6" font-weight="normal" text-anchor="end" fill="#262626" stroke="#262626" stroke-width="0.25">0</text>
<line x1="296.4" y1="406.34" x2="298.4" y2="406.34" stroke="#262626" stroke-width="0.8"/>
<text x="293.2" y="408.64" font-size="6.6" font-weight="normal" text-anchor="end" fill="#262626" stroke="#262626" stroke-width="0.25">20</text>
<line x1="296.4" y1="395.38" x2="298.4" y2="395.38" stroke="#262626" stroke-width="0.8"/>
<text x="293.2" y="397.68" font-size="6.6" font-weight="normal" text-anchor="end" fill="#262626" stroke="#262626" stroke-width="0.25">40</text>
<line x1="296.4" y1="384.42" x2="298.4" y2="384.42" stroke="#262626" stroke-width="0.8"/>
<text x="293.2" y="386.72" font-size="6.6" font-weight="normal" text-anchor="end" fill="#262626" stroke="#262626" stroke-width="0.25">60</text>
<line x1="296.4" y1="373.46" x2="298.4" y2="373.46" stroke="#262626" stroke-width="0.8"/>
<text x="293.2" y="375.76" font-size="6.6" font-weight="normal" text-anchor="end" fill="#262626" stroke="#262626" stroke-width="0.25">80</text>
<line x1="296.4" y1="362.5" x2="298.4" y2="362.5" stroke="#262626" stroke-width="0.8"/>
<text x="293.2" y="364.8" font-size="6.6" font-weight="normal" text-anchor="end" fill="#262626" stroke="#262626" stroke-width="0.25">100</text>
<line x1="303.71" y1="417.3" x2="303.71" y2="418.2" stroke="#262626" stroke-width="0.6"/>
<line x1="306.82" y1="417.3" x2="306.82" y2="418.2" stroke="#262626" stroke-width="0.6"/>
<line x1="309.03" y1="417.3" x2="309.03" y2="418.2" stroke="#262626" stroke-width="0.6"/>
<line x1="310.74" y1="417.3" x2="310.74" y2="418.2" stroke="#262626" stroke-width="0.6"/>
<line x1="312.13" y1="417.3" x2="312.13" y2="418.2" stroke="#262626" stroke-width="0.6"/>
<line x1="313.32" y1="417.3" x2="313.32" y2="418.2" stroke="#262626" stroke-width="0.6"/>
<line x1="314.34" y1="417.3" x2="314.34" y2="418.2" stroke="#262626" stroke-width="0.6"/>
<line x1="315.24" y1="417.3" x2="315.24" y2="418.2" stroke="#262626" stroke-width="0.6"/>
<line x1="316.05" y1="417.3" x2="316.05" y2="418.9" stroke="#262626" stroke-width="0.6"/>
<line x1="321.36" y1="417.3" x2="321.36" y2="418.2" stroke="#262626" stroke-width="0.6"/>
<line x1="324.47" y1="417.3" x2="324.47" y2="418.2" stroke="#262626" stroke-width="0.6"/>
<line x1="326.68" y1="417.3" x2="326.68" y2="418.2" stroke="#262626" stroke-width="0.6"/>
<line x1="328.39" y1="417.3" x2="328.39" y2="418.2" stroke="#262626" stroke-width="0.6"/>
<line x1="329.78" y1="417.3" x2="329.78" y2="418.2" stroke="#262626" stroke-width="0.6"/>
<line x1="330.97" y1="417.3" x2="330.97" y2="418.2" stroke="#262626" stroke-width="0.6"/>
<line x1="331.99" y1="417.3" x2="331.99" y2="418.2" stroke="#262626" stroke-width="0.6"/>
<line x1="332.89" y1="417.3" x2="332.89" y2="418.2" stroke="#262626" stroke-width="0.6"/>
<line x1="333.7" y1="417.3" x2="333.7" y2="418.9" stroke="#262626" stroke-width="0.6"/>
<line x1="339.01" y1="417.3" x2="339.01" y2="418.2" stroke="#262626" stroke-width="0.6"/>
<line x1="342.12" y1="417.3" x2="342.12" y2="418.2" stroke="#262626" stroke-width="0.6"/>
<line x1="344.33" y1="417.3" x2="344.33" y2="418.2" stroke="#262626" stroke-width="0.6"/>
<line x1="346.04" y1="417.3" x2="346.04" y2="418.2" stroke="#262626" stroke-width="0.6"/>
<line x1="347.43" y1="417.3" x2="347.43" y2="418.2" stroke="#262626" stroke-width="0.6"/>
<line x1="348.62" y1="417.3" x2="348.62" y2="418.2" stroke="#262626" stroke-width="0.6"/>
<line x1="349.64" y1="417.3" x2="349.64" y2="418.2" stroke="#262626" stroke-width="0.6"/>
<line x1="350.54" y1="417.3" x2="350.54" y2="418.2" stroke="#262626" stroke-width="0.6"/>
<line x1="351.35" y1="417.3" x2="351.35" y2="418.9" stroke="#262626" stroke-width="0.6"/>
<line x1="356.66" y1="417.3" x2="356.66" y2="418.2" stroke="#262626" stroke-width="0.6"/>
<line x1="359.77" y1="417.3" x2="359.77" y2="418.2" stroke="#262626" stroke-width="0.6"/>
<line x1="361.98" y1="417.3" x2="361.98" y2="418.2" stroke="#262626" stroke-width="0.6"/>
<line x1="363.69" y1="417.3" x2="363.69" y2="418.2" stroke="#262626" stroke-width="0.6"/>
<line x1="365.08" y1="417.3" x2="365.08" y2="418.2" stroke="#262626" stroke-width="0.6"/>
<line x1="366.27" y1="417.3" x2="366.27" y2="418.2" stroke="#262626" stroke-width="0.6"/>
<line x1="367.29" y1="417.3" x2="367.29" y2="418.2" stroke="#262626" stroke-width="0.6"/>
<line x1="368.19" y1="417.3" x2="368.19" y2="418.2" stroke="#262626" stroke-width="0.6"/>
<text x="273.8" y="388.4" font-size="8.1" fill="#262626" stroke="#262626" stroke-width="0.3" text-anchor="middle" transform="rotate(-90 273.8 388.4)" dy="2.7">% of max</text>
<rect x="298.4" y="429" width="70.6" height="57.8" fill="none" stroke="#1e1e1e" stroke-width="1.1"/>
<polyline points="298.4,482.42 299.28,483.1 300.16,483.79 301.05,484.47 301.93,485.16 302.81,484.61 303.69,484.06 304.58,483.51 305.46,482.96 306.27,483.39 307.07,481.14 307.88,481.51 308.69,481.63 309.49,480.34 310.3,481.15 311.11,479.08 311.96,479.82 312.8,480.12 313.65,478.93 314.5,479.49 315.34,479.92 316.19,477.18 317.04,477.73 317.89,474.26 318.73,474.61 319.58,472.11 320.29,469.29 320.99,468.96 321.7,467.01 322.4,461.07 323.11,455.12 323.82,451.41 324.52,447.31 325.23,441.06 325.93,437.79 326.64,436.05 327.35,432.92 328.05,438.35 328.76,439.83 329.46,442.8 330.17,450.64 330.88,458.95 331.58,465.46 332.29,473.27 332.99,479.48 333.7,482.73 334.41,485.16 335.11,485.98 335.82,486.8" fill="none" stroke="#2e4680" stroke-width="1.8" stroke-dasharray="1.5 1.1" stroke-linejoin="round"/>
<polyline points="298.4,486.8 298.4,473.28 299.25,484.06 300.14,484.43 301.04,484.79 301.93,485.16 302.81,484.47 303.69,483.79 304.58,483.1 305.46,482.15 306.17,483.17 306.87,481.77 307.58,482.08 308.28,482.99 308.99,479.94 309.7,481.6 310.4,481.39 311.11,481.06 311.81,478.83 312.52,477.64 313.23,477.57 313.93,479.47 314.64,480.48 315.34,481.85 316.05,477.87 316.76,476.33 317.46,475.37 318.17,473.43 318.87,473.62 319.58,470.72 320.29,470.93 320.99,471.85 321.7,467.23 322.76,462.4 323.46,454.26 324.52,449.06 325.23,450.17 325.93,451.34 326.64,432.55 327.35,435.1 328.05,444.52 328.76,437.42 329.46,432 330.17,442.3 330.88,447.68 331.58,453.21 332.29,462.1 332.99,469.39 333.7,476.88 334.41,482.35 335.11,484.61 335.82,485.34 336.52,486.07 337.23,486.8 369,486.8" fill="none" stroke="#b0103a" stroke-width="1.8" stroke-linejoin="round"/>
<line x1="296.4" y1="486.8" x2="298.4" y2="486.8" stroke="#262626" stroke-width="0.8"/>
<text x="293.2" y="489.1" font-size="6.6" font-weight="normal" text-anchor="end" fill="#262626" stroke="#262626" stroke-width="0.25">0</text>
<line x1="296.4" y1="475.84" x2="298.4" y2="475.84" stroke="#262626" stroke-width="0.8"/>
<text x="293.2" y="478.14" font-size="6.6" font-weight="normal" text-anchor="end" fill="#262626" stroke="#262626" stroke-width="0.25">20</text>
<line x1="296.4" y1="464.88" x2="298.4" y2="464.88" stroke="#262626" stroke-width="0.8"/>
<text x="293.2" y="467.18" font-size="6.6" font-weight="normal" text-anchor="end" fill="#262626" stroke="#262626" stroke-width="0.25">40</text>
<line x1="296.4" y1="453.92" x2="298.4" y2="453.92" stroke="#262626" stroke-width="0.8"/>
<text x="293.2" y="456.22" font-size="6.6" font-weight="normal" text-anchor="end" fill="#262626" stroke="#262626" stroke-width="0.25">60</text>
<line x1="296.4" y1="442.96" x2="298.4" y2="442.96" stroke="#262626" stroke-width="0.8"/>
<text x="293.2" y="445.26" font-size="6.6" font-weight="normal" text-anchor="end" fill="#262626" stroke="#262626" stroke-width="0.25">80</text>
<line x1="296.4" y1="432" x2="298.4" y2="432" stroke="#262626" stroke-width="0.8"/>
<text x="293.2" y="434.3" font-size="6.6" font-weight="normal" text-anchor="end" fill="#262626" stroke="#262626" stroke-width="0.25">100</text>
<line x1="303.71" y1="486.8" x2="303.71" y2="487.7" stroke="#262626" stroke-width="0.6"/>
<line x1="306.82" y1="486.8" x2="306.82" y2="487.7" stroke="#262626" stroke-width="0.6"/>
<line x1="309.03" y1="486.8" x2="309.03" y2="487.7" stroke="#262626" stroke-width="0.6"/>
<line x1="310.74" y1="486.8" x2="310.74" y2="487.7" stroke="#262626" stroke-width="0.6"/>
<line x1="312.13" y1="486.8" x2="312.13" y2="487.7" stroke="#262626" stroke-width="0.6"/>
<line x1="313.32" y1="486.8" x2="313.32" y2="487.7" stroke="#262626" stroke-width="0.6"/>
<line x1="314.34" y1="486.8" x2="314.34" y2="487.7" stroke="#262626" stroke-width="0.6"/>
<line x1="315.24" y1="486.8" x2="315.24" y2="487.7" stroke="#262626" stroke-width="0.6"/>
<line x1="316.05" y1="486.8" x2="316.05" y2="488.4" stroke="#262626" stroke-width="0.6"/>
<line x1="321.36" y1="486.8" x2="321.36" y2="487.7" stroke="#262626" stroke-width="0.6"/>
<line x1="324.47" y1="486.8" x2="324.47" y2="487.7" stroke="#262626" stroke-width="0.6"/>
<line x1="326.68" y1="486.8" x2="326.68" y2="487.7" stroke="#262626" stroke-width="0.6"/>
<line x1="328.39" y1="486.8" x2="328.39" y2="487.7" stroke="#262626" stroke-width="0.6"/>
<line x1="329.78" y1="486.8" x2="329.78" y2="487.7" stroke="#262626" stroke-width="0.6"/>
<line x1="330.97" y1="486.8" x2="330.97" y2="487.7" stroke="#262626" stroke-width="0.6"/>
<line x1="331.99" y1="486.8" x2="331.99" y2="487.7" stroke="#262626" stroke-width="0.6"/>
<line x1="332.89" y1="486.8" x2="332.89" y2="487.7" stroke="#262626" stroke-width="0.6"/>
<line x1="333.7" y1="486.8" x2="333.7" y2="488.4" stroke="#262626" stroke-width="0.6"/>
<line x1="339.01" y1="486.8" x2="339.01" y2="487.7" stroke="#262626" stroke-width="0.6"/>
<line x1="342.12" y1="486.8" x2="342.12" y2="487.7" stroke="#262626" stroke-width="0.6"/>
<line x1="344.33" y1="486.8" x2="344.33" y2="487.7" stroke="#262626" stroke-width="0.6"/>
<line x1="346.04" y1="486.8" x2="346.04" y2="487.7" stroke="#262626" stroke-width="0.6"/>
<line x1="347.43" y1="486.8" x2="347.43" y2="487.7" stroke="#262626" stroke-width="0.6"/>
<line x1="348.62" y1="486.8" x2="348.62" y2="487.7" stroke="#262626" stroke-width="0.6"/>
<line x1="349.64" y1="486.8" x2="349.64" y2="487.7" stroke="#262626" stroke-width="0.6"/>
<line x1="350.54" y1="486.8" x2="350.54" y2="487.7" stroke="#262626" stroke-width="0.6"/>
<line x1="351.35" y1="486.8" x2="351.35" y2="488.4" stroke="#262626" stroke-width="0.6"/>
<line x1="356.66" y1="486.8" x2="356.66" y2="487.7" stroke="#262626" stroke-width="0.6"/>
<line x1="359.77" y1="486.8" x2="359.77" y2="487.7" stroke="#262626" stroke-width="0.6"/>
<line x1="361.98" y1="486.8" x2="361.98" y2="487.7" stroke="#262626" stroke-width="0.6"/>
<line x1="363.69" y1="486.8" x2="363.69" y2="487.7" stroke="#262626" stroke-width="0.6"/>
<line x1="365.08" y1="486.8" x2="365.08" y2="487.7" stroke="#262626" stroke-width="0.6"/>
<line x1="366.27" y1="486.8" x2="366.27" y2="487.7" stroke="#262626" stroke-width="0.6"/>
<line x1="367.29" y1="486.8" x2="367.29" y2="487.7" stroke="#262626" stroke-width="0.6"/>
<line x1="368.19" y1="486.8" x2="368.19" y2="487.7" stroke="#262626" stroke-width="0.6"/>
<text x="273.8" y="457.9" font-size="8.1" fill="#262626" stroke="#262626" stroke-width="0.3" text-anchor="middle" transform="rotate(-90 273.8 457.9)" dy="2.7">% of max</text>
<text x="440.4" y="354.3" font-size="8.6" font-weight="bold" text-anchor="middle" fill="#1a1a1a" stroke="#1a1a1a" stroke-width="0.5">Basal</text>
<rect x="404.8" y="359.5" width="71.2" height="57.8" fill="none" stroke="#1e1e1e" stroke-width="1.1"/>
<polyline points="404.8,414.01 405.69,414.15 406.58,414.29 407.47,414.42 408.36,414.56 409.25,413.46 410.14,412.78 411.03,411.73 411.92,411.25 412.77,408.33 413.63,407.69 414.48,406.97 415.34,408.04 416.19,404.8 416.9,404.67 417.62,405.07 418.33,403.83 419.04,404.29 419.75,401.53 420.46,398.53 421.18,394.59 421.89,392.02 422.6,389.2 423.31,385.83 424.02,384.62 424.82,379.82 425.63,376.32 426.43,374.26 427.23,368.83 427.94,371.2 428.65,371.4 429.36,374.45 430.17,376.46 430.97,375.55 431.77,374.88 432.57,379.15 433.28,377.19 433.99,382.27 434.7,382.24 435.42,388.56 436.13,392.53 436.84,398.2 437.55,401.99 438.26,406.29 438.98,407.84 439.69,412.2 440.4,413.33 441.11,413.74 441.82,414.7 442.54,415.66 443.25,416.07 443.96,416.48 444.67,416.89 445.38,417.3" fill="none" stroke="#2e4680" stroke-width="1.8" stroke-dasharray="1.5 1.1" stroke-linejoin="round"/>
<polyline points="404.8,417.3 404.8,363.05 405.51,408.78 406.34,409.92 407.17,409.89 408,410.17 408.76,408.74 409.52,410.1 410.28,408.44 411.05,407.95 411.81,406.35 412.58,407 413.34,404.87 414.06,404.81 414.77,405.25 415.48,405.01 416.19,402.5 416.9,404.58 417.62,400.32 418.33,403.5 419.04,403.67 419.75,402.43 420.46,397.41 421.18,399.48 421.89,398.46 422.6,397.06 423.31,395.12 424.02,389.01 424.74,387.38 425.45,382.58 426.16,377.93 426.87,380.97 427.58,376.15 428.3,376.55 429.01,372.47 429.72,371.36 430.43,366.5 431.14,367.55 431.86,362.5 432.57,363.6 433.28,363.61 433.99,366.15 434.7,380.43 435.42,385.81 436.13,392.45 436.84,397.79 437.55,398.59 438.26,402.22 438.98,406.36 439.69,409.07 440.4,411.22 441.11,413.73 441.82,414.56 442.54,414.97 443.25,415.38 443.96,415.79 444.67,416.2 445.38,416.48 446.1,416.75 446.81,417.03 447.52,417.3 476,417.3" fill="none" stroke="#b0103a" stroke-width="1.8" stroke-linejoin="round"/>
<line x1="402.8" y1="417.3" x2="404.8" y2="417.3" stroke="#262626" stroke-width="0.8"/>
<text x="399.6" y="419.6" font-size="6.6" font-weight="normal" text-anchor="end" fill="#262626" stroke="#262626" stroke-width="0.25">0</text>
<line x1="402.8" y1="406.34" x2="404.8" y2="406.34" stroke="#262626" stroke-width="0.8"/>
<text x="399.6" y="408.64" font-size="6.6" font-weight="normal" text-anchor="end" fill="#262626" stroke="#262626" stroke-width="0.25">20</text>
<line x1="402.8" y1="395.38" x2="404.8" y2="395.38" stroke="#262626" stroke-width="0.8"/>
<text x="399.6" y="397.68" font-size="6.6" font-weight="normal" text-anchor="end" fill="#262626" stroke="#262626" stroke-width="0.25">40</text>
<line x1="402.8" y1="384.42" x2="404.8" y2="384.42" stroke="#262626" stroke-width="0.8"/>
<text x="399.6" y="386.72" font-size="6.6" font-weight="normal" text-anchor="end" fill="#262626" stroke="#262626" stroke-width="0.25">60</text>
<line x1="402.8" y1="373.46" x2="404.8" y2="373.46" stroke="#262626" stroke-width="0.8"/>
<text x="399.6" y="375.76" font-size="6.6" font-weight="normal" text-anchor="end" fill="#262626" stroke="#262626" stroke-width="0.25">80</text>
<line x1="402.8" y1="362.5" x2="404.8" y2="362.5" stroke="#262626" stroke-width="0.8"/>
<text x="399.6" y="364.8" font-size="6.6" font-weight="normal" text-anchor="end" fill="#262626" stroke="#262626" stroke-width="0.25">100</text>
<line x1="410.16" y1="417.3" x2="410.16" y2="418.2" stroke="#262626" stroke-width="0.6"/>
<line x1="413.29" y1="417.3" x2="413.29" y2="418.2" stroke="#262626" stroke-width="0.6"/>
<line x1="415.52" y1="417.3" x2="415.52" y2="418.2" stroke="#262626" stroke-width="0.6"/>
<line x1="417.24" y1="417.3" x2="417.24" y2="418.2" stroke="#262626" stroke-width="0.6"/>
<line x1="418.65" y1="417.3" x2="418.65" y2="418.2" stroke="#262626" stroke-width="0.6"/>
<line x1="419.84" y1="417.3" x2="419.84" y2="418.2" stroke="#262626" stroke-width="0.6"/>
<line x1="420.88" y1="417.3" x2="420.88" y2="418.2" stroke="#262626" stroke-width="0.6"/>
<line x1="421.79" y1="417.3" x2="421.79" y2="418.2" stroke="#262626" stroke-width="0.6"/>
<line x1="422.6" y1="417.3" x2="422.6" y2="418.9" stroke="#262626" stroke-width="0.6"/>
<line x1="427.96" y1="417.3" x2="427.96" y2="418.2" stroke="#262626" stroke-width="0.6"/>
<line x1="431.09" y1="417.3" x2="431.09" y2="418.2" stroke="#262626" stroke-width="0.6"/>
<line x1="433.32" y1="417.3" x2="433.32" y2="418.2" stroke="#262626" stroke-width="0.6"/>
<line x1="435.04" y1="417.3" x2="435.04" y2="418.2" stroke="#262626" stroke-width="0.6"/>
<line x1="436.45" y1="417.3" x2="436.45" y2="418.2" stroke="#262626" stroke-width="0.6"/>
<line x1="437.64" y1="417.3" x2="437.64" y2="418.2" stroke="#262626" stroke-width="0.6"/>
<line x1="438.68" y1="417.3" x2="438.68" y2="418.2" stroke="#262626" stroke-width="0.6"/>
<line x1="439.59" y1="417.3" x2="439.59" y2="418.2" stroke="#262626" stroke-width="0.6"/>
<line x1="440.4" y1="417.3" x2="440.4" y2="418.9" stroke="#262626" stroke-width="0.6"/>
<line x1="445.76" y1="417.3" x2="445.76" y2="418.2" stroke="#262626" stroke-width="0.6"/>
<line x1="448.89" y1="417.3" x2="448.89" y2="418.2" stroke="#262626" stroke-width="0.6"/>
<line x1="451.12" y1="417.3" x2="451.12" y2="418.2" stroke="#262626" stroke-width="0.6"/>
<line x1="452.84" y1="417.3" x2="452.84" y2="418.2" stroke="#262626" stroke-width="0.6"/>
<line x1="454.25" y1="417.3" x2="454.25" y2="418.2" stroke="#262626" stroke-width="0.6"/>
<line x1="455.44" y1="417.3" x2="455.44" y2="418.2" stroke="#262626" stroke-width="0.6"/>
<line x1="456.48" y1="417.3" x2="456.48" y2="418.2" stroke="#262626" stroke-width="0.6"/>
<line x1="457.39" y1="417.3" x2="457.39" y2="418.2" stroke="#262626" stroke-width="0.6"/>
<line x1="458.2" y1="417.3" x2="458.2" y2="418.9" stroke="#262626" stroke-width="0.6"/>
<line x1="463.56" y1="417.3" x2="463.56" y2="418.2" stroke="#262626" stroke-width="0.6"/>
<line x1="466.69" y1="417.3" x2="466.69" y2="418.2" stroke="#262626" stroke-width="0.6"/>
<line x1="468.92" y1="417.3" x2="468.92" y2="418.2" stroke="#262626" stroke-width="0.6"/>
<line x1="470.64" y1="417.3" x2="470.64" y2="418.2" stroke="#262626" stroke-width="0.6"/>
<line x1="472.05" y1="417.3" x2="472.05" y2="418.2" stroke="#262626" stroke-width="0.6"/>
<line x1="473.24" y1="417.3" x2="473.24" y2="418.2" stroke="#262626" stroke-width="0.6"/>
<line x1="474.28" y1="417.3" x2="474.28" y2="418.2" stroke="#262626" stroke-width="0.6"/>
<line x1="475.19" y1="417.3" x2="475.19" y2="418.2" stroke="#262626" stroke-width="0.6"/>
<text x="380.2" y="388.4" font-size="8.1" fill="#262626" stroke="#262626" stroke-width="0.3" text-anchor="middle" transform="rotate(-90 380.2 388.4)" dy="2.7">% of max</text>
<rect x="404.8" y="429" width="71.2" height="57.8" fill="none" stroke="#1e1e1e" stroke-width="1.1"/>
<polyline points="404.8,486.8 404.8,432.55 405.16,474.87 405.87,473.83 406.58,470.61 407.29,471.36 408,469.9 408.89,470.35 409.78,472.51 410.67,470.26 411.56,468.69 412.45,465.56 413.34,465.41 414.06,463.72 414.77,458.99 415.48,459.11 416.19,455.59 416.9,455.16 417.62,456.35 418.33,453.09 419.04,451.47 419.75,448.01 420.46,448.05 421.18,439.55 421.89,433.47 422.6,436.32 423.31,434.72 424.02,440.87 424.74,440.12 425.45,445.71 426.16,449.09 426.87,451.87 427.58,452.99 428.3,455.69 429.01,463.75 429.72,465.87 430.43,470.12 431.14,473.45 431.86,479.37 432.57,480.78 433.28,482.96 433.99,485.16 434.7,485.98 435.42,486.8" fill="none" stroke="#2e4680" stroke-width="1.8" stroke-dasharray="1.5 1.1" stroke-linejoin="round"/>
<polyline points="404.8,486.8 404.8,473.78 405.51,476.81 406.4,480.23 407.29,479.33 408.03,482.18 408.76,483.09 409.5,482.96 410.25,479 410.99,476.39 411.78,474.66 412.56,468.76 413.34,468.3 414.06,464.76 414.77,465.63 415.48,465.53 416.19,466.01 416.9,467.13 417.62,466.52 418.33,464.41 419.04,459.16 419.75,463.32 420.46,457.23 421.18,461.97 421.89,454.76 422.6,448.35 423.31,439.77 424.02,438.02 424.74,436.63 425.45,432 426.16,438.68 426.87,440.48 427.76,441.93 428.65,442.38 429.36,448.97 430.08,456.25 430.82,463.34 431.57,468.54 432.43,474.37 433.28,476.77 433.99,479.68 434.7,481.69 435.42,484.61 436.13,485.34 436.84,486.07 437.55,486.8 476,486.8" fill="none" stroke="#b0103a" stroke-width="1.8" stroke-linejoin="round"/>
<line x1="402.8" y1="486.8" x2="404.8" y2="486.8" stroke="#262626" stroke-width="0.8"/>
<text x="399.6" y="489.1" font-size="6.6" font-weight="normal" text-anchor="end" fill="#262626" stroke="#262626" stroke-width="0.25">0</text>
<line x1="402.8" y1="475.84" x2="404.8" y2="475.84" stroke="#262626" stroke-width="0.8"/>
<text x="399.6" y="478.14" font-size="6.6" font-weight="normal" text-anchor="end" fill="#262626" stroke="#262626" stroke-width="0.25">20</text>
<line x1="402.8" y1="464.88" x2="404.8" y2="464.88" stroke="#262626" stroke-width="0.8"/>
<text x="399.6" y="467.18" font-size="6.6" font-weight="normal" text-anchor="end" fill="#262626" stroke="#262626" stroke-width="0.25">40</text>
<line x1="402.8" y1="453.92" x2="404.8" y2="453.92" stroke="#262626" stroke-width="0.8"/>
<text x="399.6" y="456.22" font-size="6.6" font-weight="normal" text-anchor="end" fill="#262626" stroke="#262626" stroke-width="0.25">60</text>
<line x1="402.8" y1="442.96" x2="404.8" y2="442.96" stroke="#262626" stroke-width="0.8"/>
<text x="399.6" y="445.26" font-size="6.6" font-weight="normal" text-anchor="end" fill="#262626" stroke="#262626" stroke-width="0.25">80</text>
<line x1="402.8" y1="432" x2="404.8" y2="432" stroke="#262626" stroke-width="0.8"/>
<text x="399.6" y="434.3" font-size="6.6" font-weight="normal" text-anchor="end" fill="#262626" stroke="#262626" stroke-width="0.25">100</text>
<line x1="410.16" y1="486.8" x2="410.16" y2="487.7" stroke="#262626" stroke-width="0.6"/>
<line x1="413.29" y1="486.8" x2="413.29" y2="487.7" stroke="#262626" stroke-width="0.6"/>
<line x1="415.52" y1="486.8" x2="415.52" y2="487.7" stroke="#262626" stroke-width="0.6"/>
<line x1="417.24" y1="486.8" x2="417.24" y2="487.7" stroke="#262626" stroke-width="0.6"/>
<line x1="418.65" y1="486.8" x2="418.65" y2="487.7" stroke="#262626" stroke-width="0.6"/>
<line x1="419.84" y1="486.8" x2="419.84" y2="487.7" stroke="#262626" stroke-width="0.6"/>
<line x1="420.88" y1="486.8" x2="420.88" y2="487.7" stroke="#262626" stroke-width="0.6"/>
<line x1="421.79" y1="486.8" x2="421.79" y2="487.7" stroke="#262626" stroke-width="0.6"/>
<line x1="422.6" y1="486.8" x2="422.6" y2="488.4" stroke="#262626" stroke-width="0.6"/>
<line x1="427.96" y1="486.8" x2="427.96" y2="487.7" stroke="#262626" stroke-width="0.6"/>
<line x1="431.09" y1="486.8" x2="431.09" y2="487.7" stroke="#262626" stroke-width="0.6"/>
<line x1="433.32" y1="486.8" x2="433.32" y2="487.7" stroke="#262626" stroke-width="0.6"/>
<line x1="435.04" y1="486.8" x2="435.04" y2="487.7" stroke="#262626" stroke-width="0.6"/>
<line x1="436.45" y1="486.8" x2="436.45" y2="487.7" stroke="#262626" stroke-width="0.6"/>
<line x1="437.64" y1="486.8" x2="437.64" y2="487.7" stroke="#262626" stroke-width="0.6"/>
<line x1="438.68" y1="486.8" x2="438.68" y2="487.7" stroke="#262626" stroke-width="0.6"/>
<line x1="439.59" y1="486.8" x2="439.59" y2="487.7" stroke="#262626" stroke-width="0.6"/>
<line x1="440.4" y1="486.8" x2="440.4" y2="488.4" stroke="#262626" stroke-width="0.6"/>
<line x1="445.76" y1="486.8" x2="445.76" y2="487.7" stroke="#262626" stroke-width="0.6"/>
<line x1="448.89" y1="486.8" x2="448.89" y2="487.7" stroke="#262626" stroke-width="0.6"/>
<line x1="451.12" y1="486.8" x2="451.12" y2="487.7" stroke="#262626" stroke-width="0.6"/>
<line x1="452.84" y1="486.8" x2="452.84" y2="487.7" stroke="#262626" stroke-width="0.6"/>
<line x1="454.25" y1="486.8" x2="454.25" y2="487.7" stroke="#262626" stroke-width="0.6"/>
<line x1="455.44" y1="486.8" x2="455.44" y2="487.7" stroke="#262626" stroke-width="0.6"/>
<line x1="456.48" y1="486.8" x2="456.48" y2="487.7" stroke="#262626" stroke-width="0.6"/>
<line x1="457.39" y1="486.8" x2="457.39" y2="487.7" stroke="#262626" stroke-width="0.6"/>
<line x1="458.2" y1="486.8" x2="458.2" y2="488.4" stroke="#262626" stroke-width="0.6"/>
<line x1="463.56" y1="486.8" x2="463.56" y2="487.7" stroke="#262626" stroke-width="0.6"/>
<line x1="466.69" y1="486.8" x2="466.69" y2="487.7" stroke="#262626" stroke-width="0.6"/>
<line x1="468.92" y1="486.8" x2="468.92" y2="487.7" stroke="#262626" stroke-width="0.6"/>
<line x1="470.64" y1="486.8" x2="470.64" y2="487.7" stroke="#262626" stroke-width="0.6"/>
<line x1="472.05" y1="486.8" x2="472.05" y2="487.7" stroke="#262626" stroke-width="0.6"/>
<line x1="473.24" y1="486.8" x2="473.24" y2="487.7" stroke="#262626" stroke-width="0.6"/>
<line x1="474.28" y1="486.8" x2="474.28" y2="487.7" stroke="#262626" stroke-width="0.6"/>
<line x1="475.19" y1="486.8" x2="475.19" y2="487.7" stroke="#262626" stroke-width="0.6"/>
<text x="380.2" y="457.9" font-size="8.1" fill="#262626" stroke="#262626" stroke-width="0.3" text-anchor="middle" transform="rotate(-90 380.2 457.9)" dy="2.7">% of max</text>
<text x="160.2" y="339.5" font-size="8.6" font-weight="bold" text-anchor="middle" fill="#1a1a1a" stroke="#1a1a1a" stroke-width="0.5">CD19</text>
<text x="379.7" y="339.5" font-size="8.6" font-weight="bold" text-anchor="middle" fill="#1a1a1a" stroke="#1a1a1a" stroke-width="0.5">CD11c</text>
<line x1="63.3" y1="344.3" x2="256.9" y2="344.3" stroke="#111" stroke-width="1.1"/>
<line x1="283.8" y1="344.3" x2="475.7" y2="344.3" stroke="#111" stroke-width="1.1"/>
<text x="7.9" y="391.6" font-size="8.9" font-weight="bold" text-anchor="start" fill="#1a1a1a" stroke="#1a1a1a" stroke-width="0.5">Patient A</text>
<text x="7.9" y="461.2" font-size="8.9" font-weight="bold" text-anchor="start" fill="#1a1a1a" stroke="#1a1a1a" stroke-width="0.5">Patient B</text>
<line x1="56" y1="496.2" x2="89.5" y2="496.2" stroke="#111" stroke-width="1.2"/>
<polygon points="88,494 93.5,496.2 88,498.4" fill="#111"/>
<text x="102.8" y="498.8" font-size="8.7" font-weight="normal" text-anchor="start" fill="#2a2a2a" textLength="26" lengthAdjust="spacingAndGlyphs" stroke="#2a2a2a" stroke-width="0.25">pSTAT5</text>
<text x="118.3" y="538.6" font-size="8.6" font-weight="bold" text-anchor="middle" fill="#1a1a1a" stroke="#1a1a1a" stroke-width="0.5">IL-6</text>
<rect x="77.5" y="543" width="81.6" height="57.5" fill="none" stroke="#1e1e1e" stroke-width="1.1"/>
<polyline points="77.5,599.41 78.32,599.23 79.13,599.05 79.95,598.87 80.76,598.68 81.58,598.5 82.4,598.32 83.21,598.14 84.03,597.96 84.84,597.77 85.66,597.57 86.48,597.37 87.29,597.16 88.11,596.96 88.92,596.75 89.74,597.22 90.56,596.47 91.37,595.57 92.19,595.83 93,596.63 93.82,595.77 94.64,594.72 95.45,595.96 96.27,595.92 97.08,595.53 97.9,594.5 98.72,594.04 99.53,595.43 100.35,595.28 101.16,593.62 101.98,591.96 102.8,589.95 103.61,589.5 104.43,585.67 105.24,582.83 106.06,576.38 106.88,573.88 107.69,572.62 108.51,564.59 109.32,563.63 110.14,557.43 110.96,551.42 111.77,549.01 112.59,547.38 113.4,546.54 114.22,549.3 115.04,552.84 115.85,564.44 116.67,583.4 117.48,589.36 118.3,595.3 119.12,600.5" fill="none" stroke="#2e4680" stroke-width="1.8" stroke-dasharray="1.5 1.1" stroke-linejoin="round"/>
<polyline points="77.5,600.5 77.5,582.87 78.32,598.87 79.13,598.59 79.95,598.32 80.76,598.05 81.58,597.77 82.4,597.77 83.21,597.77 84.03,597.77 84.84,597.77 85.66,597.5 86.48,597.23 87.29,596.96 88.11,596.68 88.92,596.57 89.74,594.99 90.56,594.86 91.37,595.05 92.11,594.63 92.84,595.17 93.58,596.17 94.31,594.72 95.04,595.35 95.78,594.18 96.51,593.54 97.25,594.95 97.98,594.38 98.72,593.7 99.53,594.58 100.35,595.03 101.16,593.22 101.98,590.68 102.8,589.08 103.61,588.24 104.43,586.47 105.24,586.08 106.06,582.91 106.88,580.59 107.69,577.91 108.51,572.41 109.32,572.61 110.14,567.24 110.96,562.41 111.77,560.41 112.59,557.69 113.4,556.9 114.22,551.4 115.04,546.54 115.85,546.54 116.67,546.54 117.48,546.54 118.3,555.56 119.12,565.91 119.93,582.44 120.75,594.5 121.56,600.5 159.1,600.5" fill="none" stroke="#b0103a" stroke-width="1.8" stroke-linejoin="round"/>
<line x1="75.5" y1="600.5" x2="77.5" y2="600.5" stroke="#262626" stroke-width="0.8"/>
<text x="72.3" y="602.8" font-size="6.6" font-weight="normal" text-anchor="end" fill="#262626" stroke="#262626" stroke-width="0.25">0</text>
<line x1="75.5" y1="589.6" x2="77.5" y2="589.6" stroke="#262626" stroke-width="0.8"/>
<text x="72.3" y="591.9" font-size="6.6" font-weight="normal" text-anchor="end" fill="#262626" stroke="#262626" stroke-width="0.25">20</text>
<line x1="75.5" y1="578.7" x2="77.5" y2="578.7" stroke="#262626" stroke-width="0.8"/>
<text x="72.3" y="581" font-size="6.6" font-weight="normal" text-anchor="end" fill="#262626" stroke="#262626" stroke-width="0.25">40</text>
<line x1="75.5" y1="567.8" x2="77.5" y2="567.8" stroke="#262626" stroke-width="0.8"/>
<text x="72.3" y="570.1" font-size="6.6" font-weight="normal" text-anchor="end" fill="#262626" stroke="#262626" stroke-width="0.25">60</text>
<line x1="75.5" y1="556.9" x2="77.5" y2="556.9" stroke="#262626" stroke-width="0.8"/>
<text x="72.3" y="559.2" font-size="6.6" font-weight="normal" text-anchor="end" fill="#262626" stroke="#262626" stroke-width="0.25">80</text>
<line x1="75.5" y1="546" x2="77.5" y2="546" stroke="#262626" stroke-width="0.8"/>
<text x="72.3" y="548.3" font-size="6.6" font-weight="normal" text-anchor="end" fill="#262626" stroke="#262626" stroke-width="0.25">100</text>
<line x1="83.64" y1="600.5" x2="83.64" y2="601.4" stroke="#262626" stroke-width="0.6"/>
<line x1="87.23" y1="600.5" x2="87.23" y2="601.4" stroke="#262626" stroke-width="0.6"/>
<line x1="89.78" y1="600.5" x2="89.78" y2="601.4" stroke="#262626" stroke-width="0.6"/>
<line x1="91.76" y1="600.5" x2="91.76" y2="601.4" stroke="#262626" stroke-width="0.6"/>
<line x1="93.37" y1="600.5" x2="93.37" y2="601.4" stroke="#262626" stroke-width="0.6"/>
<line x1="94.74" y1="600.5" x2="94.74" y2="601.4" stroke="#262626" stroke-width="0.6"/>
<line x1="95.92" y1="600.5" x2="95.92" y2="601.4" stroke="#262626" stroke-width="0.6"/>
<line x1="96.97" y1="600.5" x2="96.97" y2="601.4" stroke="#262626" stroke-width="0.6"/>
<line x1="97.9" y1="600.5" x2="97.9" y2="602.1" stroke="#262626" stroke-width="0.6"/>
<line x1="104.04" y1="600.5" x2="104.04" y2="601.4" stroke="#262626" stroke-width="0.6"/>
<line x1="107.63" y1="600.5" x2="107.63" y2="601.4" stroke="#262626" stroke-width="0.6"/>
<line x1="110.18" y1="600.5" x2="110.18" y2="601.4" stroke="#262626" stroke-width="0.6"/>
<line x1="112.16" y1="600.5" x2="112.16" y2="601.4" stroke="#262626" stroke-width="0.6"/>
<line x1="113.77" y1="600.5" x2="113.77" y2="601.4" stroke="#262626" stroke-width="0.6"/>
<line x1="115.14" y1="600.5" x2="115.14" y2="601.4" stroke="#262626" stroke-width="0.6"/>
<line x1="116.32" y1="600.5" x2="116.32" y2="601.4" stroke="#262626" stroke-width="0.6"/>
<line x1="117.37" y1="600.5" x2="117.37" y2="601.4" stroke="#262626" stroke-width="0.6"/>
<line x1="118.3" y1="600.5" x2="118.3" y2="602.1" stroke="#262626" stroke-width="0.6"/>
<line x1="124.44" y1="600.5" x2="124.44" y2="601.4" stroke="#262626" stroke-width="0.6"/>
<line x1="128.03" y1="600.5" x2="128.03" y2="601.4" stroke="#262626" stroke-width="0.6"/>
<line x1="130.58" y1="600.5" x2="130.58" y2="601.4" stroke="#262626" stroke-width="0.6"/>
<line x1="132.56" y1="600.5" x2="132.56" y2="601.4" stroke="#262626" stroke-width="0.6"/>
<line x1="134.17" y1="600.5" x2="134.17" y2="601.4" stroke="#262626" stroke-width="0.6"/>
<line x1="135.54" y1="600.5" x2="135.54" y2="601.4" stroke="#262626" stroke-width="0.6"/>
<line x1="136.72" y1="600.5" x2="136.72" y2="601.4" stroke="#262626" stroke-width="0.6"/>
<line x1="137.77" y1="600.5" x2="137.77" y2="601.4" stroke="#262626" stroke-width="0.6"/>
<line x1="138.7" y1="600.5" x2="138.7" y2="602.1" stroke="#262626" stroke-width="0.6"/>
<line x1="144.84" y1="600.5" x2="144.84" y2="601.4" stroke="#262626" stroke-width="0.6"/>
<line x1="148.43" y1="600.5" x2="148.43" y2="601.4" stroke="#262626" stroke-width="0.6"/>
<line x1="150.98" y1="600.5" x2="150.98" y2="601.4" stroke="#262626" stroke-width="0.6"/>
<line x1="152.96" y1="600.5" x2="152.96" y2="601.4" stroke="#262626" stroke-width="0.6"/>
<line x1="154.57" y1="600.5" x2="154.57" y2="601.4" stroke="#262626" stroke-width="0.6"/>
<line x1="155.94" y1="600.5" x2="155.94" y2="601.4" stroke="#262626" stroke-width="0.6"/>
<line x1="157.12" y1="600.5" x2="157.12" y2="601.4" stroke="#262626" stroke-width="0.6"/>
<line x1="158.17" y1="600.5" x2="158.17" y2="601.4" stroke="#262626" stroke-width="0.6"/>
<text x="55.3" y="571.75" font-size="8.1" fill="#262626" stroke="#262626" stroke-width="0.3" text-anchor="middle" transform="rotate(-90 55.3 571.75)" dy="2.7">% of max</text>
<rect x="77.5" y="610.5" width="81.6" height="56.6" fill="none" stroke="#1e1e1e" stroke-width="1.1"/>
<rect x="77.5" y="613.5" width="1.14" height="53.6" fill="#2a3a66"/>
<polyline points="77.5,667.1 77.5,613.5 77.91,659.69 78.52,661.39 79.13,660.32 79.95,659.7 80.76,660.29 81.58,659.73 82.4,658.23 83.21,660.19 84.03,658.68 84.84,659.38 85.66,657.54 86.48,656.86 87.29,657.67 88.11,658.5 88.87,656.95 89.62,656.73 90.38,655.94 91.14,656.19 91.9,655.53 92.65,654.68 93.41,655.25 94.17,655.34 94.93,653.54 95.69,655.47 96.44,653.84 97.2,654.48 97.96,653.14 98.72,654.85 99.53,651.95 100.35,653.61 101.16,654.28 101.98,653.34 102.8,652.68 103.61,653.66 104.43,650.76 105.24,649.16 106.06,644.61 106.88,642.55 107.69,639.75 108.51,636.72 109.32,630.9 110.14,626.53 110.96,624.37 111.77,621.73 112.59,615.63 113.4,613.5 114.22,619.08 115.04,624.98 115.85,633.66 116.67,639.05 117.48,652.76 118.3,667.1" fill="none" stroke="#2e4680" stroke-width="1.8" stroke-dasharray="1.5 1.1" stroke-linejoin="round"/>
<polyline points="77.5,667.1 77.5,663.88 78.32,663.88 79.13,664.29 79.95,664.69 80.76,665.09 81.58,665.49 82.4,665.36 83.21,665.22 84.03,665.09 84.84,664.96 85.66,664.82 86.48,664.69 87.29,664.55 88.11,664.42 88.84,664.21 89.58,663.99 90.31,663.78 91.05,663.56 91.78,663.35 92.6,662.83 93.41,663.17 94.23,662.77 95.04,663.61 95.78,661.34 96.51,663.03 97.25,662.08 97.98,661.43 98.72,661.33 99.53,662.24 100.35,662.63 101.16,661.73 101.98,662.9 102.8,660.33 103.61,661.49 104.43,659.53 105.24,659.88 106.06,657.92 106.88,657.18 107.69,655.26 108.51,655.06 109.32,652.89 110.14,646.08 110.96,644.3 111.77,640.33 112.59,633.27 113.4,625.42 114.22,619.86 115.04,613.5 115.85,614.22 116.67,631.24 117.48,641.45 118.3,646.69 119.12,663.88 119.93,667.1 159.1,667.1" fill="none" stroke="#b0103a" stroke-width="1.8" stroke-linejoin="round"/>
<line x1="75.5" y1="667.1" x2="77.5" y2="667.1" stroke="#262626" stroke-width="0.8"/>
<text x="72.3" y="669.4" font-size="6.6" font-weight="normal" text-anchor="end" fill="#262626" stroke="#262626" stroke-width="0.25">0</text>
<line x1="75.5" y1="656.38" x2="77.5" y2="656.38" stroke="#262626" stroke-width="0.8"/>
<text x="72.3" y="658.68" font-size="6.6" font-weight="normal" text-anchor="end" fill="#262626" stroke="#262626" stroke-width="0.25">20</text>
<line x1="75.5" y1="645.66" x2="77.5" y2="645.66" stroke="#262626" stroke-width="0.8"/>
<text x="72.3" y="647.96" font-size="6.6" font-weight="normal" text-anchor="end" fill="#262626" stroke="#262626" stroke-width="0.25">40</text>
<line x1="75.5" y1="634.94" x2="77.5" y2="634.94" stroke="#262626" stroke-width="0.8"/>
<text x="72.3" y="637.24" font-size="6.6" font-weight="normal" text-anchor="end" fill="#262626" stroke="#262626" stroke-width="0.25">60</text>
<line x1="75.5" y1="624.22" x2="77.5" y2="624.22" stroke="#262626" stroke-width="0.8"/>
<text x="72.3" y="626.52" font-size="6.6" font-weight="normal" text-anchor="end" fill="#262626" stroke="#262626" stroke-width="0.25">80</text>
<line x1="75.5" y1="613.5" x2="77.5" y2="613.5" stroke="#262626" stroke-width="0.8"/>
<text x="72.3" y="615.8" font-size="6.6" font-weight="normal" text-anchor="end" fill="#262626" stroke="#262626" stroke-width="0.25">100</text>
<line x1="83.64" y1="667.1" x2="83.64" y2="668" stroke="#262626" stroke-width="0.6"/>
<line x1="87.23" y1="667.1" x2="87.23" y2="668" stroke="#262626" stroke-width="0.6"/>
<line x1="89.78" y1="667.1" x2="89.78" y2="668" stroke="#262626" stroke-width="0.6"/>
<line x1="91.76" y1="667.1" x2="91.76" y2="668" stroke="#262626" stroke-width="0.6"/>
<line x1="93.37" y1="667.1" x2="93.37" y2="668" stroke="#262626" stroke-width="0.6"/>
<line x1="94.74" y1="667.1" x2="94.74" y2="668" stroke="#262626" stroke-width="0.6"/>
<line x1="95.92" y1="667.1" x2="95.92" y2="668" stroke="#262626" stroke-width="0.6"/>
<line x1="96.97" y1="667.1" x2="96.97" y2="668" stroke="#262626" stroke-width="0.6"/>
<line x1="97.9" y1="667.1" x2="97.9" y2="668.7" stroke="#262626" stroke-width="0.6"/>
<line x1="104.04" y1="667.1" x2="104.04" y2="668" stroke="#262626" stroke-width="0.6"/>
<line x1="107.63" y1="667.1" x2="107.63" y2="668" stroke="#262626" stroke-width="0.6"/>
<line x1="110.18" y1="667.1" x2="110.18" y2="668" stroke="#262626" stroke-width="0.6"/>
<line x1="112.16" y1="667.1" x2="112.16" y2="668" stroke="#262626" stroke-width="0.6"/>
<line x1="113.77" y1="667.1" x2="113.77" y2="668" stroke="#262626" stroke-width="0.6"/>
<line x1="115.14" y1="667.1" x2="115.14" y2="668" stroke="#262626" stroke-width="0.6"/>
<line x1="116.32" y1="667.1" x2="116.32" y2="668" stroke="#262626" stroke-width="0.6"/>
<line x1="117.37" y1="667.1" x2="117.37" y2="668" stroke="#262626" stroke-width="0.6"/>
<line x1="118.3" y1="667.1" x2="118.3" y2="668.7" stroke="#262626" stroke-width="0.6"/>
<line x1="124.44" y1="667.1" x2="124.44" y2="668" stroke="#262626" stroke-width="0.6"/>
<line x1="128.03" y1="667.1" x2="128.03" y2="668" stroke="#262626" stroke-width="0.6"/>
<line x1="130.58" y1="667.1" x2="130.58" y2="668" stroke="#262626" stroke-width="0.6"/>
<line x1="132.56" y1="667.1" x2="132.56" y2="668" stroke="#262626" stroke-width="0.6"/>
<line x1="134.17" y1="667.1" x2="134.17" y2="668" stroke="#262626" stroke-width="0.6"/>
<line x1="135.54" y1="667.1" x2="135.54" y2="668" stroke="#262626" stroke-width="0.6"/>
<line x1="136.72" y1="667.1" x2="136.72" y2="668" stroke="#262626" stroke-width="0.6"/>
<line x1="137.77" y1="667.1" x2="137.77" y2="668" stroke="#262626" stroke-width="0.6"/>
<line x1="138.7" y1="667.1" x2="138.7" y2="668.7" stroke="#262626" stroke-width="0.6"/>
<line x1="144.84" y1="667.1" x2="144.84" y2="668" stroke="#262626" stroke-width="0.6"/>
<line x1="148.43" y1="667.1" x2="148.43" y2="668" stroke="#262626" stroke-width="0.6"/>
<line x1="150.98" y1="667.1" x2="150.98" y2="668" stroke="#262626" stroke-width="0.6"/>
<line x1="152.96" y1="667.1" x2="152.96" y2="668" stroke="#262626" stroke-width="0.6"/>
<line x1="154.57" y1="667.1" x2="154.57" y2="668" stroke="#262626" stroke-width="0.6"/>
<line x1="155.94" y1="667.1" x2="155.94" y2="668" stroke="#262626" stroke-width="0.6"/>
<line x1="157.12" y1="667.1" x2="157.12" y2="668" stroke="#262626" stroke-width="0.6"/>
<line x1="158.17" y1="667.1" x2="158.17" y2="668" stroke="#262626" stroke-width="0.6"/>
<text x="55.3" y="638.8" font-size="8.1" fill="#262626" stroke="#262626" stroke-width="0.3" text-anchor="middle" transform="rotate(-90 55.3 638.8)" dy="2.7">% of max</text>
<text x="233.3" y="538.6" font-size="8.6" font-weight="bold" text-anchor="middle" fill="#1a1a1a" stroke="#1a1a1a" stroke-width="0.5">IL-21</text>
<rect x="192.3" y="543" width="82" height="57.5" fill="none" stroke="#1e1e1e" stroke-width="1.1"/>
<polyline points="192.3,598.87 193.12,598.71 193.94,598.55 194.76,598.4 195.58,598.24 196.4,598.09 197.22,597.93 198.04,597.77 198.86,597.58 199.68,597.38 200.5,597.18 201.32,596.98 202.14,596.78 202.96,595.87 203.78,597.3 204.6,595.51 205.42,595.14 206.24,595.19 207.06,596.36 207.88,594.46 208.7,594.48 209.52,595.47 210.34,595.09 211.16,592.48 211.98,592.77 212.8,593.35 213.62,593.32 214.44,592.69 215.26,591.93 216.08,589.95 216.9,590.56 217.72,589.7 218.54,586.01 219.36,584.85 220.18,584.22 221,578.85 221.82,577.17 222.64,571.42 223.46,567.03 224.28,561.64 225.1,557.76 225.92,553.17 226.74,551.75 227.56,547.3 228.38,552.94 229.2,556.88 230.02,567.54 230.84,574.9 231.66,585.61 232.48,595.57 233.3,600.5" fill="none" stroke="#2e4680" stroke-width="1.8" stroke-dasharray="1.5 1.1" stroke-linejoin="round"/>
<polyline points="192.3,600.5 192.3,585.44 192.92,592.84 193.53,598.87 194.28,598.68 195.03,598.5 195.79,598.32 196.54,598.14 197.29,597.96 198.04,597.77 198.86,597.77 199.68,597.77 200.5,597.77 201.32,597.77 202.14,597.77 202.96,597.77 203.78,597.23 204.6,596.68 205.42,596.16 206.24,596.94 207.06,595.15 207.88,595.78 208.7,594.26 209.52,593.83 210.34,593.28 211.16,591.75 211.98,594.34 212.8,590.97 213.62,591.9 214.44,591 215.26,590.06 216.08,588.82 216.9,590.1 217.72,588.49 218.54,584.65 219.36,587.22 220.18,581.82 221,579.04 221.82,579.87 222.64,571.17 223.46,565.52 224.28,559.8 225.1,559.64 225.78,552.48 226.47,552.65 227.15,549.92 227.77,546 228.38,546.54 229.2,551.23 230.02,548.39 230.64,554.17 231.25,561.23 231.93,563.98 232.62,573.4 233.3,578.84 234.12,593.33 234.94,595.62 235.76,599.41 236.58,599.41 237.4,599.41 238.22,599.41 239.04,599.41 239.86,599.96 240.68,600.5 274.3,600.5" fill="none" stroke="#b0103a" stroke-width="1.8" stroke-linejoin="round"/>
<line x1="190.3" y1="600.5" x2="192.3" y2="600.5" stroke="#262626" stroke-width="0.8"/>
<text x="187.1" y="602.8" font-size="6.6" font-weight="normal" text-anchor="end" fill="#262626" stroke="#262626" stroke-width="0.25">0</text>
<line x1="190.3" y1="589.6" x2="192.3" y2="589.6" stroke="#262626" stroke-width="0.8"/>
<text x="187.1" y="591.9" font-size="6.6" font-weight="normal" text-anchor="end" fill="#262626" stroke="#262626" stroke-width="0.25">20</text>
<line x1="190.3" y1="578.7" x2="192.3" y2="578.7" stroke="#262626" stroke-width="0.8"/>
<text x="187.1" y="581" font-size="6.6" font-weight="normal" text-anchor="end" fill="#262626" stroke="#262626" stroke-width="0.25">40</text>
<line x1="190.3" y1="567.8" x2="192.3" y2="567.8" stroke="#262626" stroke-width="0.8"/>
<text x="187.1" y="570.1" font-size="6.6" font-weight="normal" text-anchor="end" fill="#262626" stroke="#262626" stroke-width="0.25">60</text>
<line x1="190.3" y1="556.9" x2="192.3" y2="556.9" stroke="#262626" stroke-width="0.8"/>
<text x="187.1" y="559.2" font-size="6.6" font-weight="normal" text-anchor="end" fill="#262626" stroke="#262626" stroke-width="0.25">80</text>
<line x1="190.3" y1="546" x2="192.3" y2="546" stroke="#262626" stroke-width="0.8"/>
<text x="187.1" y="548.3" font-size="6.6" font-weight="normal" text-anchor="end" fill="#262626" stroke="#262626" stroke-width="0.25">100</text>
<line x1="198.47" y1="600.5" x2="198.47" y2="601.4" stroke="#262626" stroke-width="0.6"/>
<line x1="202.08" y1="600.5" x2="202.08" y2="601.4" stroke="#262626" stroke-width="0.6"/>
<line x1="204.64" y1="600.5" x2="204.64" y2="601.4" stroke="#262626" stroke-width="0.6"/>
<line x1="206.63" y1="600.5" x2="206.63" y2="601.4" stroke="#262626" stroke-width="0.6"/>
<line x1="208.25" y1="600.5" x2="208.25" y2="601.4" stroke="#262626" stroke-width="0.6"/>
<line x1="209.62" y1="600.5" x2="209.62" y2="601.4" stroke="#262626" stroke-width="0.6"/>
<line x1="210.81" y1="600.5" x2="210.81" y2="601.4" stroke="#262626" stroke-width="0.6"/>
<line x1="211.86" y1="600.5" x2="211.86" y2="601.4" stroke="#262626" stroke-width="0.6"/>
<line x1="212.8" y1="600.5" x2="212.8" y2="602.1" stroke="#262626" stroke-width="0.6"/>
<line x1="218.97" y1="600.5" x2="218.97" y2="601.4" stroke="#262626" stroke-width="0.6"/>
<line x1="222.58" y1="600.5" x2="222.58" y2="601.4" stroke="#262626" stroke-width="0.6"/>
<line x1="225.14" y1="600.5" x2="225.14" y2="601.4" stroke="#262626" stroke-width="0.6"/>
<line x1="227.13" y1="600.5" x2="227.13" y2="601.4" stroke="#262626" stroke-width="0.6"/>
<line x1="228.75" y1="600.5" x2="228.75" y2="601.4" stroke="#262626" stroke-width="0.6"/>
<line x1="230.12" y1="600.5" x2="230.12" y2="601.4" stroke="#262626" stroke-width="0.6"/>
<line x1="231.31" y1="600.5" x2="231.31" y2="601.4" stroke="#262626" stroke-width="0.6"/>
<line x1="232.36" y1="600.5" x2="232.36" y2="601.4" stroke="#262626" stroke-width="0.6"/>
<line x1="233.3" y1="600.5" x2="233.3" y2="602.1" stroke="#262626" stroke-width="0.6"/>
<line x1="239.47" y1="600.5" x2="239.47" y2="601.4" stroke="#262626" stroke-width="0.6"/>
<line x1="243.08" y1="600.5" x2="243.08" y2="601.4" stroke="#262626" stroke-width="0.6"/>
<line x1="245.64" y1="600.5" x2="245.64" y2="601.4" stroke="#262626" stroke-width="0.6"/>
<line x1="247.63" y1="600.5" x2="247.63" y2="601.4" stroke="#262626" stroke-width="0.6"/>
<line x1="249.25" y1="600.5" x2="249.25" y2="601.4" stroke="#262626" stroke-width="0.6"/>
<line x1="250.62" y1="600.5" x2="250.62" y2="601.4" stroke="#262626" stroke-width="0.6"/>
<line x1="251.81" y1="600.5" x2="251.81" y2="601.4" stroke="#262626" stroke-width="0.6"/>
<line x1="252.86" y1="600.5" x2="252.86" y2="601.4" stroke="#262626" stroke-width="0.6"/>
<line x1="253.8" y1="600.5" x2="253.8" y2="602.1" stroke="#262626" stroke-width="0.6"/>
<line x1="259.97" y1="600.5" x2="259.97" y2="601.4" stroke="#262626" stroke-width="0.6"/>
<line x1="263.58" y1="600.5" x2="263.58" y2="601.4" stroke="#262626" stroke-width="0.6"/>
<line x1="266.14" y1="600.5" x2="266.14" y2="601.4" stroke="#262626" stroke-width="0.6"/>
<line x1="268.13" y1="600.5" x2="268.13" y2="601.4" stroke="#262626" stroke-width="0.6"/>
<line x1="269.75" y1="600.5" x2="269.75" y2="601.4" stroke="#262626" stroke-width="0.6"/>
<line x1="271.12" y1="600.5" x2="271.12" y2="601.4" stroke="#262626" stroke-width="0.6"/>
<line x1="272.31" y1="600.5" x2="272.31" y2="601.4" stroke="#262626" stroke-width="0.6"/>
<line x1="273.36" y1="600.5" x2="273.36" y2="601.4" stroke="#262626" stroke-width="0.6"/>
<text x="170.1" y="571.75" font-size="8.1" fill="#262626" stroke="#262626" stroke-width="0.3" text-anchor="middle" transform="rotate(-90 170.1 571.75)" dy="2.7">% of max</text>
<rect x="192.3" y="610.5" width="82" height="56.6" fill="none" stroke="#1e1e1e" stroke-width="1.1"/>
<rect x="192.3" y="630.65" width="1.15" height="36.45" fill="#2a3a66"/>
<polyline points="192.3,667.1 192.3,631.95 193.12,660.82 193.94,660.84 194.76,660.54 195.58,659.92 196.4,661.14 197.14,659.59 197.88,660.25 198.61,659.69 199.35,659.93 200.09,659.04 200.91,657.61 201.73,658.14 202.55,657.51 203.37,658.42 204.11,658.35 204.85,658.29 205.58,657.44 206.32,657.21 207.06,656.7 207.88,658.15 208.7,655.77 209.52,654.76 210.34,655.18 211.16,656.22 211.98,655.09 212.8,655.58 213.62,654.64 214.44,651.86 215.26,652.28 216.08,651.58 216.9,650.61 217.72,649.28 218.54,649.38 219.36,648.46 220.18,646.79 221,644.89 221.82,643.66 222.64,639.76 223.46,638.38 224.28,632.04 225.1,628.7 225.92,623.31 226.74,622.26 227.56,621.9 228.38,622.55 229.2,623.25 230.02,626.64 230.84,634.06 231.66,641.59 232.48,646.06 233.3,661.67 234.12,664.69 234.94,667.1" fill="none" stroke="#2e4680" stroke-width="1.8" stroke-dasharray="1.5 1.1" stroke-linejoin="round"/>
<polyline points="192.3,667.1 192.3,655.6 193.12,663.88 193.94,664.15 194.76,664.42 195.58,664.69 196.4,664.96 197.14,664.96 197.88,664.96 198.61,664.96 199.35,664.96 200.09,664.96 200.91,664.29 201.73,663.62 202.55,663.65 203.37,662.87 204.11,662.19 204.85,662.2 205.58,661.53 206.32,660.54 207.06,659.26 207.88,661.49 208.7,659.09 209.52,660.3 210.34,659.39 211.16,656.01 211.98,656.08 212.8,653.88 213.62,655 214.44,655.48 215.26,652.43 216.08,650.04 216.9,646.07 217.72,643.55 218.54,644.2 219.36,640.33 220.18,638.04 221,629.45 221.82,627.14 222.64,623.51 223.46,620.37 224.28,621.24 225.1,617.68 225.92,619.15 226.74,614.57 227.56,613.5 228.38,619.9 229.06,619.88 229.75,629.64 230.43,635.36 231.05,639.17 231.66,650.19 232.48,655.46 233.3,663.88 234.12,667.1 274.3,667.1" fill="none" stroke="#b0103a" stroke-width="1.8" stroke-linejoin="round"/>
<line x1="190.3" y1="667.1" x2="192.3" y2="667.1" stroke="#262626" stroke-width="0.8"/>
<text x="187.1" y="669.4" font-size="6.6" font-weight="normal" text-anchor="end" fill="#262626" stroke="#262626" stroke-width="0.25">0</text>
<line x1="190.3" y1="656.38" x2="192.3" y2="656.38" stroke="#262626" stroke-width="0.8"/>
<text x="187.1" y="658.68" font-size="6.6" font-weight="normal" text-anchor="end" fill="#262626" stroke="#262626" stroke-width="0.25">20</text>
<line x1="190.3" y1="645.66" x2="192.3" y2="645.66" stroke="#262626" stroke-width="0.8"/>
<text x="187.1" y="647.96" font-size="6.6" font-weight="normal" text-anchor="end" fill="#262626" stroke="#262626" stroke-width="0.25">40</text>
<line x1="190.3" y1="634.94" x2="192.3" y2="634.94" stroke="#262626" stroke-width="0.8"/>
<text x="187.1" y="637.24" font-size="6.6" font-weight="normal" text-anchor="end" fill="#262626" stroke="#262626" stroke-width="0.25">60</text>
<line x1="190.3" y1="624.22" x2="192.3" y2="624.22" stroke="#262626" stroke-width="0.8"/>
<text x="187.1" y="626.52" font-size="6.6" font-weight="normal" text-anchor="end" fill="#262626" stroke="#262626" stroke-width="0.25">80</text>
<line x1="190.3" y1="613.5" x2="192.3" y2="613.5" stroke="#262626" stroke-width="0.8"/>
<text x="187.1" y="615.8" font-size="6.6" font-weight="normal" text-anchor="end" fill="#262626" stroke="#262626" stroke-width="0.25">100</text>
<line x1="198.47" y1="667.1" x2="198.47" y2="668" stroke="#262626" stroke-width="0.6"/>
<line x1="202.08" y1="667.1" x2="202.08" y2="668" stroke="#262626" stroke-width="0.6"/>
<line x1="204.64" y1="667.1" x2="204.64" y2="668" stroke="#262626" stroke-width="0.6"/>
<line x1="206.63" y1="667.1" x2="206.63" y2="668" stroke="#262626" stroke-width="0.6"/>
<line x1="208.25" y1="667.1" x2="208.25" y2="668" stroke="#262626" stroke-width="0.6"/>
<line x1="209.62" y1="667.1" x2="209.62" y2="668" stroke="#262626" stroke-width="0.6"/>
<line x1="210.81" y1="667.1" x2="210.81" y2="668" stroke="#262626" stroke-width="0.6"/>
<line x1="211.86" y1="667.1" x2="211.86" y2="668" stroke="#262626" stroke-width="0.6"/>
<line x1="212.8" y1="667.1" x2="212.8" y2="668.7" stroke="#262626" stroke-width="0.6"/>
<line x1="218.97" y1="667.1" x2="218.97" y2="668" stroke="#262626" stroke-width="0.6"/>
<line x1="222.58" y1="667.1" x2="222.58" y2="668" stroke="#262626" stroke-width="0.6"/>
<line x1="225.14" y1="667.1" x2="225.14" y2="668" stroke="#262626" stroke-width="0.6"/>
<line x1="227.13" y1="667.1" x2="227.13" y2="668" stroke="#262626" stroke-width="0.6"/>
<line x1="228.75" y1="667.1" x2="228.75" y2="668" stroke="#262626" stroke-width="0.6"/>
<line x1="230.12" y1="667.1" x2="230.12" y2="668" stroke="#262626" stroke-width="0.6"/>
<line x1="231.31" y1="667.1" x2="231.31" y2="668" stroke="#262626" stroke-width="0.6"/>
<line x1="232.36" y1="667.1" x2="232.36" y2="668" stroke="#262626" stroke-width="0.6"/>
<line x1="233.3" y1="667.1" x2="233.3" y2="668.7" stroke="#262626" stroke-width="0.6"/>
<line x1="239.47" y1="667.1" x2="239.47" y2="668" stroke="#262626" stroke-width="0.6"/>
<line x1="243.08" y1="667.1" x2="243.08" y2="668" stroke="#262626" stroke-width="0.6"/>
<line x1="245.64" y1="667.1" x2="245.64" y2="668" stroke="#262626" stroke-width="0.6"/>
<line x1="247.63" y1="667.1" x2="247.63" y2="668" stroke="#262626" stroke-width="0.6"/>
<line x1="249.25" y1="667.1" x2="249.25" y2="668" stroke="#262626" stroke-width="0.6"/>
<line x1="250.62" y1="667.1" x2="250.62" y2="668" stroke="#262626" stroke-width="0.6"/>
<line x1="251.81" y1="667.1" x2="251.81" y2="668" stroke="#262626" stroke-width="0.6"/>
<line x1="252.86" y1="667.1" x2="252.86" y2="668" stroke="#262626" stroke-width="0.6"/>
<line x1="253.8" y1="667.1" x2="253.8" y2="668.7" stroke="#262626" stroke-width="0.6"/>
<line x1="259.97" y1="667.1" x2="259.97" y2="668" stroke="#262626" stroke-width="0.6"/>
<line x1="263.58" y1="667.1" x2="263.58" y2="668" stroke="#262626" stroke-width="0.6"/>
<line x1="266.14" y1="667.1" x2="266.14" y2="668" stroke="#262626" stroke-width="0.6"/>
<line x1="268.13" y1="667.1" x2="268.13" y2="668" stroke="#262626" stroke-width="0.6"/>
<line x1="269.75" y1="667.1" x2="269.75" y2="668" stroke="#262626" stroke-width="0.6"/>
<line x1="271.12" y1="667.1" x2="271.12" y2="668" stroke="#262626" stroke-width="0.6"/>
<line x1="272.31" y1="667.1" x2="272.31" y2="668" stroke="#262626" stroke-width="0.6"/>
<line x1="273.36" y1="667.1" x2="273.36" y2="668" stroke="#262626" stroke-width="0.6"/>
<text x="170.1" y="638.8" font-size="8.1" fill="#262626" stroke="#262626" stroke-width="0.3" text-anchor="middle" transform="rotate(-90 170.1 638.8)" dy="2.7">% of max</text>
<text x="348.5" y="538.6" font-size="8.6" font-weight="bold" text-anchor="middle" fill="#1a1a1a" stroke="#1a1a1a" stroke-width="0.5">IFN&#945;</text>
<rect x="307.7" y="543" width="81.6" height="57.5" fill="none" stroke="#1e1e1e" stroke-width="1.1"/>
<polyline points="307.7,598.87 308.52,598.79 309.33,598.71 310.15,598.63 310.96,598.55 311.78,598.48 312.6,598.4 313.41,598.32 314.23,598.14 315.04,597.96 315.86,597.77 316.68,597.59 317.49,597.41 318.31,597.23 319.08,597.08 319.85,596.61 320.62,594.26 321.39,593.59 322.16,592.44 322.93,591.94 323.7,592.78 324.47,590.59 325.24,589.57 325.98,588.95 326.71,586.22 327.45,587 328.18,583.38 328.92,582.86 329.73,582.06 330.55,578.83 331.36,572.7 332.18,568.53 333,568.63 333.81,564.3 334.63,559.12 335.44,558.25 336.26,551.61 337.08,549.88 337.89,550.2 338.71,546.54 339.52,552.87 340.34,557.65 341.16,564.27 341.97,569.17 342.79,579.85 343.6,585.96 344.42,593.47 345.24,599.41 346.05,600.5" fill="none" stroke="#2e4680" stroke-width="1.8" stroke-dasharray="1.5 1.1" stroke-linejoin="round"/>
<polyline points="307.7,600.5 307.7,582.89 308.31,590.75 308.92,598.87 309.67,598.68 310.42,598.5 311.17,598.32 311.92,598.14 312.66,597.96 313.41,597.77 314.23,597.68 315.04,597.59 315.86,597.5 316.68,597.41 317.49,597.32 318.31,597.23 319.12,596.68 319.94,596.38 320.76,595.94 321.57,594.15 322.31,593.19 323.04,593.25 323.78,593.52 324.51,594.01 325.24,594.4 325.98,590.28 326.71,590.36 327.45,588.98 328.18,590.06 328.92,588.07 329.73,585.21 330.55,584.55 331.36,584.35 332.18,584.55 333,581.8 333.81,577.07 334.63,577.8 335.44,572.32 336.26,569.31 337.08,562.48 337.89,558.16 338.71,556.41 339.52,553.07 340.34,549.73 341.16,546.54 341.97,548.69 342.79,549.25 343.6,555.38 344.42,562.54 345.24,577.26 346.05,581.96 346.87,588.36 347.68,594.47 348.5,600.5 389.3,600.5" fill="none" stroke="#b0103a" stroke-width="1.8" stroke-linejoin="round"/>
<line x1="305.7" y1="600.5" x2="307.7" y2="600.5" stroke="#262626" stroke-width="0.8"/>
<text x="302.5" y="602.8" font-size="6.6" font-weight="normal" text-anchor="end" fill="#262626" stroke="#262626" stroke-width="0.25">0</text>
<line x1="305.7" y1="589.6" x2="307.7" y2="589.6" stroke="#262626" stroke-width="0.8"/>
<text x="302.5" y="591.9" font-size="6.6" font-weight="normal" text-anchor="end" fill="#262626" stroke="#262626" stroke-width="0.25">20</text>
<line x1="305.7" y1="578.7" x2="307.7" y2="578.7" stroke="#262626" stroke-width="0.8"/>
<text x="302.5" y="581" font-size="6.6" font-weight="normal" text-anchor="end" fill="#262626" stroke="#262626" stroke-width="0.25">40</text>
<line x1="305.7" y1="567.8" x2="307.7" y2="567.8" stroke="#262626" stroke-width="0.8"/>
<text x="302.5" y="570.1" font-size="6.6" font-weight="normal" text-anchor="end" fill="#262626" stroke="#262626" stroke-width="0.25">60</text>
<line x1="305.7" y1="556.9" x2="307.7" y2="556.9" stroke="#262626" stroke-width="0.8"/>
<text x="302.5" y="559.2" font-size="6.6" font-weight="normal" text-anchor="end" fill="#262626" stroke="#262626" stroke-width="0.25">80</text>
<line x1="305.7" y1="546" x2="307.7" y2="546" stroke="#262626" stroke-width="0.8"/>
<text x="302.5" y="548.3" font-size="6.6" font-weight="normal" text-anchor="end" fill="#262626" stroke="#262626" stroke-width="0.25">100</text>
<line x1="313.84" y1="600.5" x2="313.84" y2="601.4" stroke="#262626" stroke-width="0.6"/>
<line x1="317.43" y1="600.5" x2="317.43" y2="601.4" stroke="#262626" stroke-width="0.6"/>
<line x1="319.98" y1="600.5" x2="319.98" y2="601.4" stroke="#262626" stroke-width="0.6"/>
<line x1="321.96" y1="600.5" x2="321.96" y2="601.4" stroke="#262626" stroke-width="0.6"/>
<line x1="323.57" y1="600.5" x2="323.57" y2="601.4" stroke="#262626" stroke-width="0.6"/>
<line x1="324.94" y1="600.5" x2="324.94" y2="601.4" stroke="#262626" stroke-width="0.6"/>
<line x1="326.12" y1="600.5" x2="326.12" y2="601.4" stroke="#262626" stroke-width="0.6"/>
<line x1="327.17" y1="600.5" x2="327.17" y2="601.4" stroke="#262626" stroke-width="0.6"/>
<line x1="328.1" y1="600.5" x2="328.1" y2="602.1" stroke="#262626" stroke-width="0.6"/>
<line x1="334.24" y1="600.5" x2="334.24" y2="601.4" stroke="#262626" stroke-width="0.6"/>
<line x1="337.83" y1="600.5" x2="337.83" y2="601.4" stroke="#262626" stroke-width="0.6"/>
<line x1="340.38" y1="600.5" x2="340.38" y2="601.4" stroke="#262626" stroke-width="0.6"/>
<line x1="342.36" y1="600.5" x2="342.36" y2="601.4" stroke="#262626" stroke-width="0.6"/>
<line x1="343.97" y1="600.5" x2="343.97" y2="601.4" stroke="#262626" stroke-width="0.6"/>
<line x1="345.34" y1="600.5" x2="345.34" y2="601.4" stroke="#262626" stroke-width="0.6"/>
<line x1="346.52" y1="600.5" x2="346.52" y2="601.4" stroke="#262626" stroke-width="0.6"/>
<line x1="347.57" y1="600.5" x2="347.57" y2="601.4" stroke="#262626" stroke-width="0.6"/>
<line x1="348.5" y1="600.5" x2="348.5" y2="602.1" stroke="#262626" stroke-width="0.6"/>
<line x1="354.64" y1="600.5" x2="354.64" y2="601.4" stroke="#262626" stroke-width="0.6"/>
<line x1="358.23" y1="600.5" x2="358.23" y2="601.4" stroke="#262626" stroke-width="0.6"/>
<line x1="360.78" y1="600.5" x2="360.78" y2="601.4" stroke="#262626" stroke-width="0.6"/>
<line x1="362.76" y1="600.5" x2="362.76" y2="601.4" stroke="#262626" stroke-width="0.6"/>
<line x1="364.37" y1="600.5" x2="364.37" y2="601.4" stroke="#262626" stroke-width="0.6"/>
<line x1="365.74" y1="600.5" x2="365.74" y2="601.4" stroke="#262626" stroke-width="0.6"/>
<line x1="366.92" y1="600.5" x2="366.92" y2="601.4" stroke="#262626" stroke-width="0.6"/>
<line x1="367.97" y1="600.5" x2="367.97" y2="601.4" stroke="#262626" stroke-width="0.6"/>
<line x1="368.9" y1="600.5" x2="368.9" y2="602.1" stroke="#262626" stroke-width="0.6"/>
<line x1="375.04" y1="600.5" x2="375.04" y2="601.4" stroke="#262626" stroke-width="0.6"/>
<line x1="378.63" y1="600.5" x2="378.63" y2="601.4" stroke="#262626" stroke-width="0.6"/>
<line x1="381.18" y1="600.5" x2="381.18" y2="601.4" stroke="#262626" stroke-width="0.6"/>
<line x1="383.16" y1="600.5" x2="383.16" y2="601.4" stroke="#262626" stroke-width="0.6"/>
<line x1="384.77" y1="600.5" x2="384.77" y2="601.4" stroke="#262626" stroke-width="0.6"/>
<line x1="386.14" y1="600.5" x2="386.14" y2="601.4" stroke="#262626" stroke-width="0.6"/>
<line x1="387.32" y1="600.5" x2="387.32" y2="601.4" stroke="#262626" stroke-width="0.6"/>
<line x1="388.37" y1="600.5" x2="388.37" y2="601.4" stroke="#262626" stroke-width="0.6"/>
<text x="285.5" y="571.75" font-size="8.1" fill="#262626" stroke="#262626" stroke-width="0.3" text-anchor="middle" transform="rotate(-90 285.5 571.75)" dy="2.7">% of max</text>
<rect x="307.7" y="610.5" width="81.6" height="56.6" fill="none" stroke="#1e1e1e" stroke-width="1.1"/>
<rect x="307.7" y="613.5" width="1.14" height="53.6" fill="#2a3a66"/>
<polyline points="307.7,667.1 307.7,614.04 308.11,658.88 308.84,659.3 309.58,657.53 310.31,657.31 311.05,657.29 311.78,656.36 312.6,657.85 313.41,658.54 314.23,657.31 315.04,656.67 315.86,657.85 316.68,655.97 317.49,655.05 318.31,656.59 319.12,654.6 319.94,653.43 320.76,653.14 321.57,653.04 322.39,652.1 323.2,649.63 324.02,648.67 324.84,649.02 325.65,649.96 326.47,646.95 327.28,646.66 328.1,648.27 328.92,646.16 329.73,644.11 330.55,643.31 331.36,643.96 332.18,639.87 333,635.07 333.81,632.59 334.63,628.29 335.44,625.12 336.26,619.56 337.08,618.41 337.89,614.82 338.71,616.08 339.52,616.1 340.34,618.3 341.16,622.25 341.97,621.45 342.79,632.56 343.6,642.07 344.42,648.13 345.24,656.14 346.05,662.74 346.87,667.1" fill="none" stroke="#2e4680" stroke-width="1.8" stroke-dasharray="1.5 1.1" stroke-linejoin="round"/>
<polyline points="307.7,667.1 307.7,661.98 308.52,662.53 309.33,661.79 310.15,663.12 310.96,662.88 311.78,659.65 312.6,659.62 313.41,660.45 314.23,659.77 315.04,660.41 315.86,658.08 316.68,658.79 317.49,656.35 318.31,656.45 319.12,655.27 319.94,653.7 320.76,655.67 321.57,655.71 322.39,653.47 323.2,652.03 324.02,651 324.84,649.67 325.65,645.34 326.47,641.88 327.28,645.09 328.1,643.16 328.78,637.31 329.46,637.03 330.14,627.88 330.75,629.7 331.36,632.02 332.18,622.34 333,623.64 333.81,618.45 334.63,616.08 335.44,613.5 336.26,614.3 337.08,613.5 337.89,614.02 338.71,617.4 339.52,618.92 340.34,622.66 341.16,620.69 341.97,623.74 342.79,637.27 343.6,645.75 344.42,651.67 345.24,656.96 346.05,661.07 346.87,664.69 347.68,667.1 389.3,667.1" fill="none" stroke="#b0103a" stroke-width="1.8" stroke-linejoin="round"/>
<line x1="305.7" y1="667.1" x2="307.7" y2="667.1" stroke="#262626" stroke-width="0.8"/>
<text x="302.5" y="669.4" font-size="6.6" font-weight="normal" text-anchor="end" fill="#262626" stroke="#262626" stroke-width="0.25">0</text>
<line x1="305.7" y1="656.38" x2="307.7" y2="656.38" stroke="#262626" stroke-width="0.8"/>
<text x="302.5" y="658.68" font-size="6.6" font-weight="normal" text-anchor="end" fill="#262626" stroke="#262626" stroke-width="0.25">20</text>
<line x1="305.7" y1="645.66" x2="307.7" y2="645.66" stroke="#262626" stroke-width="0.8"/>
<text x="302.5" y="647.96" font-size="6.6" font-weight="normal" text-anchor="end" fill="#262626" stroke="#262626" stroke-width="0.25">40</text>
<line x1="305.7" y1="634.94" x2="307.7" y2="634.94" stroke="#262626" stroke-width="0.8"/>
<text x="302.5" y="637.24" font-size="6.6" font-weight="normal" text-anchor="end" fill="#262626" stroke="#262626" stroke-width="0.25">60</text>
<line x1="305.7" y1="624.22" x2="307.7" y2="624.22" stroke="#262626" stroke-width="0.8"/>
<text x="302.5" y="626.52" font-size="6.6" font-weight="normal" text-anchor="end" fill="#262626" stroke="#262626" stroke-width="0.25">80</text>
<line x1="305.7" y1="613.5" x2="307.7" y2="613.5" stroke="#262626" stroke-width="0.8"/>
<text x="302.5" y="615.8" font-size="6.6" font-weight="normal" text-anchor="end" fill="#262626" stroke="#262626" stroke-width="0.25">100</text>
<line x1="313.84" y1="667.1" x2="313.84" y2="668" stroke="#262626" stroke-width="0.6"/>
<line x1="317.43" y1="667.1" x2="317.43" y2="668" stroke="#262626" stroke-width="0.6"/>
<line x1="319.98" y1="667.1" x2="319.98" y2="668" stroke="#262626" stroke-width="0.6"/>
<line x1="321.96" y1="667.1" x2="321.96" y2="668" stroke="#262626" stroke-width="0.6"/>
<line x1="323.57" y1="667.1" x2="323.57" y2="668" stroke="#262626" stroke-width="0.6"/>
<line x1="324.94" y1="667.1" x2="324.94" y2="668" stroke="#262626" stroke-width="0.6"/>
<line x1="326.12" y1="667.1" x2="326.12" y2="668" stroke="#262626" stroke-width="0.6"/>
<line x1="327.17" y1="667.1" x2="327.17" y2="668" stroke="#262626" stroke-width="0.6"/>
<line x1="328.1" y1="667.1" x2="328.1" y2="668.7" stroke="#262626" stroke-width="0.6"/>
<line x1="334.24" y1="667.1" x2="334.24" y2="668" stroke="#262626" stroke-width="0.6"/>
<line x1="337.83" y1="667.1" x2="337.83" y2="668" stroke="#262626" stroke-width="0.6"/>
<line x1="340.38" y1="667.1" x2="340.38" y2="668" stroke="#262626" stroke-width="0.6"/>
<line x1="342.36" y1="667.1" x2="342.36" y2="668" stroke="#262626" stroke-width="0.6"/>
<line x1="343.97" y1="667.1" x2="343.97" y2="668" stroke="#262626" stroke-width="0.6"/>
<line x1="345.34" y1="667.1" x2="345.34" y2="668" stroke="#262626" stroke-width="0.6"/>
<line x1="346.52" y1="667.1" x2="346.52" y2="668" stroke="#262626" stroke-width="0.6"/>
<line x1="347.57" y1="667.1" x2="347.57" y2="668" stroke="#262626" stroke-width="0.6"/>
<line x1="348.5" y1="667.1" x2="348.5" y2="668.7" stroke="#262626" stroke-width="0.6"/>
<line x1="354.64" y1="667.1" x2="354.64" y2="668" stroke="#262626" stroke-width="0.6"/>
<line x1="358.23" y1="667.1" x2="358.23" y2="668" stroke="#262626" stroke-width="0.6"/>
<line x1="360.78" y1="667.1" x2="360.78" y2="668" stroke="#262626" stroke-width="0.6"/>
<line x1="362.76" y1="667.1" x2="362.76" y2="668" stroke="#262626" stroke-width="0.6"/>
<line x1="364.37" y1="667.1" x2="364.37" y2="668" stroke="#262626" stroke-width="0.6"/>
<line x1="365.74" y1="667.1" x2="365.74" y2="668" stroke="#262626" stroke-width="0.6"/>
<line x1="366.92" y1="667.1" x2="366.92" y2="668" stroke="#262626" stroke-width="0.6"/>
<line x1="367.97" y1="667.1" x2="367.97" y2="668" stroke="#262626" stroke-width="0.6"/>
<line x1="368.9" y1="667.1" x2="368.9" y2="668.7" stroke="#262626" stroke-width="0.6"/>
<line x1="375.04" y1="667.1" x2="375.04" y2="668" stroke="#262626" stroke-width="0.6"/>
<line x1="378.63" y1="667.1" x2="378.63" y2="668" stroke="#262626" stroke-width="0.6"/>
<line x1="381.18" y1="667.1" x2="381.18" y2="668" stroke="#262626" stroke-width="0.6"/>
<line x1="383.16" y1="667.1" x2="383.16" y2="668" stroke="#262626" stroke-width="0.6"/>
<line x1="384.77" y1="667.1" x2="384.77" y2="668" stroke="#262626" stroke-width="0.6"/>
<line x1="386.14" y1="667.1" x2="386.14" y2="668" stroke="#262626" stroke-width="0.6"/>
<line x1="387.32" y1="667.1" x2="387.32" y2="668" stroke="#262626" stroke-width="0.6"/>
<line x1="388.37" y1="667.1" x2="388.37" y2="668" stroke="#262626" stroke-width="0.6"/>
<text x="285.5" y="638.8" font-size="8.1" fill="#262626" stroke="#262626" stroke-width="0.3" text-anchor="middle" transform="rotate(-90 285.5 638.8)" dy="2.7">% of max</text>
<text x="463.95" y="538.6" font-size="8.6" font-weight="bold" text-anchor="middle" fill="#1a1a1a" stroke="#1a1a1a" stroke-width="0.5">Basal</text>
<rect x="423.6" y="543" width="80.7" height="57.5" fill="none" stroke="#1e1e1e" stroke-width="1.1"/>
<polyline points="423.6,571.62 424.41,565.73 425.21,564.17 426.02,569.22 426.83,560.82 427.64,559.89 428.44,558.83 429.25,554.91 430.06,562.6 430.86,560.97 431.67,554.57 432.48,551.65 433.28,552.83 434.09,555.06 434.9,551.16 435.71,549.22 436.51,554.79 437.32,552.38 438.13,552.58 438.93,553.04 439.74,549.01 440.55,551.11 441.35,549.7 442.16,546.54 442.97,552.17 443.78,549.64 444.58,558.09 445.39,554.09 446.2,561.33 447,566.05 447.81,561.16 448.62,573.63 449.42,573.45 450.23,579.31 451.04,584.47 451.85,593.12 452.65,595.82 453.46,598.05 454.27,600.5" fill="none" stroke="#2e4680" stroke-width="1.8" stroke-dasharray="1.5 1.1" stroke-linejoin="round"/>
<polyline points="423.6,600.5 423.6,546 424.41,566.02 425.21,558.14 426.02,559.86 426.83,562.91 427.64,565.57 428.44,564.3 429.25,556.79 430.06,561.22 430.86,560.46 431.67,567.18 432.48,567.99 433.28,566.44 434.09,556.3 434.9,555.52 435.71,557.35 436.51,548.66 437.32,553.89 438.13,551.28 438.93,553.42 439.74,551.67 440.55,546 441.35,549.73 442.16,550.75 442.97,546.54 443.78,549.36 444.58,553.9 445.39,550.23 446.2,560.94 447,554.34 447.81,566.44 448.62,565.85 449.42,573.48 450.23,582.85 451.04,585.41 451.85,591.48 452.65,594.99 453.46,597.23 454.27,598.87 455.07,600.5 504.3,600.5" fill="none" stroke="#b0103a" stroke-width="1.8" stroke-linejoin="round"/>
<polyline points="423.6,600.5 423.6,546 424.41,564.93 425.21,564.04 426.02,558.3 426.83,559.05 427.64,560.63 428.44,566.83 429.25,562.37 430.06,556.84 430.86,566.44 431.67,561.07 432.48,567.24 433.28,556.8 434.09,563.6 434.9,552.87 435.71,555.29 436.51,556.31 437.32,556.66 438.13,546.88 438.93,549.54 439.74,552.56 440.55,549.4 441.35,546 442.16,550.22 442.97,546.54 443.78,548.52 444.58,555.78 445.39,557.79 446.2,554.07 447,557.14 447.81,564.98 448.62,574.38 449.42,579.28 450.23,579.39 451.04,585.27 451.85,591.56 452.65,595.26 453.46,597.23 454.27,598.87 455.07,600.5 504.3,600.5" fill="none" stroke="#b0103a" stroke-width="1.8" stroke-linejoin="round"/>
<line x1="421.6" y1="600.5" x2="423.6" y2="600.5" stroke="#262626" stroke-width="0.8"/>
<text x="418.4" y="602.8" font-size="6.6" font-weight="normal" text-anchor="end" fill="#262626" stroke="#262626" stroke-width="0.25">0</text>
<line x1="421.6" y1="589.6" x2="423.6" y2="589.6" stroke="#262626" stroke-width="0.8"/>
<text x="418.4" y="591.9" font-size="6.6" font-weight="normal" text-anchor="end" fill="#262626" stroke="#262626" stroke-width="0.25">20</text>
<line x1="421.6" y1="578.7" x2="423.6" y2="578.7" stroke="#262626" stroke-width="0.8"/>
<text x="418.4" y="581" font-size="6.6" font-weight="normal" text-anchor="end" fill="#262626" stroke="#262626" stroke-width="0.25">40</text>
<line x1="421.6" y1="567.8" x2="423.6" y2="567.8" stroke="#262626" stroke-width="0.8"/>
<text x="418.4" y="570.1" font-size="6.6" font-weight="normal" text-anchor="end" fill="#262626" stroke="#262626" stroke-width="0.25">60</text>
<line x1="421.6" y1="556.9" x2="423.6" y2="556.9" stroke="#262626" stroke-width="0.8"/>
<text x="418.4" y="559.2" font-size="6.6" font-weight="normal" text-anchor="end" fill="#262626" stroke="#262626" stroke-width="0.25">80</text>
<line x1="421.6" y1="546" x2="423.6" y2="546" stroke="#262626" stroke-width="0.8"/>
<text x="418.4" y="548.3" font-size="6.6" font-weight="normal" text-anchor="end" fill="#262626" stroke="#262626" stroke-width="0.25">100</text>
<line x1="429.67" y1="600.5" x2="429.67" y2="601.4" stroke="#262626" stroke-width="0.6"/>
<line x1="433.23" y1="600.5" x2="433.23" y2="601.4" stroke="#262626" stroke-width="0.6"/>
<line x1="435.75" y1="600.5" x2="435.75" y2="601.4" stroke="#262626" stroke-width="0.6"/>
<line x1="437.7" y1="600.5" x2="437.7" y2="601.4" stroke="#262626" stroke-width="0.6"/>
<line x1="439.3" y1="600.5" x2="439.3" y2="601.4" stroke="#262626" stroke-width="0.6"/>
<line x1="440.65" y1="600.5" x2="440.65" y2="601.4" stroke="#262626" stroke-width="0.6"/>
<line x1="441.82" y1="600.5" x2="441.82" y2="601.4" stroke="#262626" stroke-width="0.6"/>
<line x1="442.85" y1="600.5" x2="442.85" y2="601.4" stroke="#262626" stroke-width="0.6"/>
<line x1="443.78" y1="600.5" x2="443.78" y2="602.1" stroke="#262626" stroke-width="0.6"/>
<line x1="449.85" y1="600.5" x2="449.85" y2="601.4" stroke="#262626" stroke-width="0.6"/>
<line x1="453.4" y1="600.5" x2="453.4" y2="601.4" stroke="#262626" stroke-width="0.6"/>
<line x1="455.92" y1="600.5" x2="455.92" y2="601.4" stroke="#262626" stroke-width="0.6"/>
<line x1="457.88" y1="600.5" x2="457.88" y2="601.4" stroke="#262626" stroke-width="0.6"/>
<line x1="459.47" y1="600.5" x2="459.47" y2="601.4" stroke="#262626" stroke-width="0.6"/>
<line x1="460.82" y1="600.5" x2="460.82" y2="601.4" stroke="#262626" stroke-width="0.6"/>
<line x1="461.99" y1="600.5" x2="461.99" y2="601.4" stroke="#262626" stroke-width="0.6"/>
<line x1="463.03" y1="600.5" x2="463.03" y2="601.4" stroke="#262626" stroke-width="0.6"/>
<line x1="463.95" y1="600.5" x2="463.95" y2="602.1" stroke="#262626" stroke-width="0.6"/>
<line x1="470.02" y1="600.5" x2="470.02" y2="601.4" stroke="#262626" stroke-width="0.6"/>
<line x1="473.58" y1="600.5" x2="473.58" y2="601.4" stroke="#262626" stroke-width="0.6"/>
<line x1="476.1" y1="600.5" x2="476.1" y2="601.4" stroke="#262626" stroke-width="0.6"/>
<line x1="478.05" y1="600.5" x2="478.05" y2="601.4" stroke="#262626" stroke-width="0.6"/>
<line x1="479.65" y1="600.5" x2="479.65" y2="601.4" stroke="#262626" stroke-width="0.6"/>
<line x1="481" y1="600.5" x2="481" y2="601.4" stroke="#262626" stroke-width="0.6"/>
<line x1="482.17" y1="600.5" x2="482.17" y2="601.4" stroke="#262626" stroke-width="0.6"/>
<line x1="483.2" y1="600.5" x2="483.2" y2="601.4" stroke="#262626" stroke-width="0.6"/>
<line x1="484.12" y1="600.5" x2="484.12" y2="602.1" stroke="#262626" stroke-width="0.6"/>
<line x1="490.2" y1="600.5" x2="490.2" y2="601.4" stroke="#262626" stroke-width="0.6"/>
<line x1="493.75" y1="600.5" x2="493.75" y2="601.4" stroke="#262626" stroke-width="0.6"/>
<line x1="496.27" y1="600.5" x2="496.27" y2="601.4" stroke="#262626" stroke-width="0.6"/>
<line x1="498.23" y1="600.5" x2="498.23" y2="601.4" stroke="#262626" stroke-width="0.6"/>
<line x1="499.82" y1="600.5" x2="499.82" y2="601.4" stroke="#262626" stroke-width="0.6"/>
<line x1="501.17" y1="600.5" x2="501.17" y2="601.4" stroke="#262626" stroke-width="0.6"/>
<line x1="502.34" y1="600.5" x2="502.34" y2="601.4" stroke="#262626" stroke-width="0.6"/>
<line x1="503.38" y1="600.5" x2="503.38" y2="601.4" stroke="#262626" stroke-width="0.6"/>
<text x="401.4" y="571.75" font-size="8.1" fill="#262626" stroke="#262626" stroke-width="0.3" text-anchor="middle" transform="rotate(-90 401.4 571.75)" dy="2.7">% of max</text>
<rect x="423.6" y="610.5" width="80.7" height="56.6" fill="none" stroke="#1e1e1e" stroke-width="1.1"/>
<polyline points="423.6,633.87 424.41,631.43 425.21,629.14 426.02,626.77 426.83,628.03 427.64,630.65 428.44,631.08 429.25,624.27 430.06,626.66 430.86,623.3 431.67,628.76 432.48,621.29 433.28,624.9 434.09,619.67 434.9,618.79 435.71,621.47 436.51,625.1 437.32,616.37 438.13,619.61 438.85,615.3 439.58,620 440.3,619.97 441.03,613.5 441.76,616.84 442.43,620.1 443.1,619.66 443.78,619.08 444.38,628.68 444.99,628.33 445.66,632.93 446.33,636.23 447,643.71 447.81,643.7 448.62,648.34 449.42,652.64 450.23,659.94 451.04,662.23 451.85,667.1" fill="none" stroke="#2e4680" stroke-width="1.8" stroke-dasharray="1.5 1.1" stroke-linejoin="round"/>
<polyline points="423.6,667.1 423.6,613.5 424.41,648.28 425.21,641.42 426.02,644.82 426.83,639.39 427.64,641.59 428.44,643.03 429.25,640.16 430.06,640.8 430.86,641.54 431.67,643.62 432.48,630.67 433.28,637.52 434.09,637.14 434.9,635.28 435.71,631.08 436.51,624.17 437.32,631.2 438.13,629.44 438.93,621.64 439.74,625.21 440.41,625.25 441.09,617.48 441.76,615.93 442.43,615.41 443.1,614.57 443.78,613.5 444.58,614.9 445.39,624.56 446.2,620.69 447,626.27 447.81,638.28 448.62,642.57 449.42,644.65 450.23,650.48 451.04,657 451.85,662.64 452.65,663.88 453.46,667.1 504.3,667.1" fill="none" stroke="#b0103a" stroke-width="1.8" stroke-linejoin="round"/>
<polyline points="423.6,667.1 423.6,613.5 424.41,648.07 425.21,647.2 426.02,639.36 426.83,639.51 427.64,648.82 428.44,642.28 429.25,637.76 430.06,644.49 430.86,638.68 431.67,634.19 432.48,636.62 433.28,635.49 434.09,630.37 434.9,630.92 435.71,629.58 436.51,622.89 437.32,623.51 438.13,626.95 438.93,626.36 439.74,623.77 440.41,620.95 441.09,613.55 441.76,613.58 442.43,613.5 443.1,614.57 443.78,613.5 444.58,613.74 445.39,616.89 446.2,629.08 447,628.33 447.81,628.89 448.62,634.22 449.42,646.9 450.23,651.09 451.04,654.72 451.85,661.37 452.65,663.88 453.46,667.1 504.3,667.1" fill="none" stroke="#b0103a" stroke-width="1.8" stroke-linejoin="round"/>
<line x1="421.6" y1="667.1" x2="423.6" y2="667.1" stroke="#262626" stroke-width="0.8"/>
<text x="418.4" y="669.4" font-size="6.6" font-weight="normal" text-anchor="end" fill="#262626" stroke="#262626" stroke-width="0.25">0</text>
<line x1="421.6" y1="656.38" x2="423.6" y2="656.38" stroke="#262626" stroke-width="0.8"/>
<text x="418.4" y="658.68" font-size="6.6" font-weight="normal" text-anchor="end" fill="#262626" stroke="#262626" stroke-width="0.25">20</text>
<line x1="421.6" y1="645.66" x2="423.6" y2="645.66" stroke="#262626" stroke-width="0.8"/>
<text x="418.4" y="647.96" font-size="6.6" font-weight="normal" text-anchor="end" fill="#262626" stroke="#262626" stroke-width="0.25">40</text>
<line x1="421.6" y1="634.94" x2="423.6" y2="634.94" stroke="#262626" stroke-width="0.8"/>
<text x="418.4" y="637.24" font-size="6.6" font-weight="normal" text-anchor="end" fill="#262626" stroke="#262626" stroke-width="0.25">60</text>
<line x1="421.6" y1="624.22" x2="423.6" y2="624.22" stroke="#262626" stroke-width="0.8"/>
<text x="418.4" y="626.52" font-size="6.6" font-weight="normal" text-anchor="end" fill="#262626" stroke="#262626" stroke-width="0.25">80</text>
<line x1="421.6" y1="613.5" x2="423.6" y2="613.5" stroke="#262626" stroke-width="0.8"/>
<text x="418.4" y="615.8" font-size="6.6" font-weight="normal" text-anchor="end" fill="#262626" stroke="#262626" stroke-width="0.25">100</text>
<line x1="429.67" y1="667.1" x2="429.67" y2="668" stroke="#262626" stroke-width="0.6"/>
<line x1="433.23" y1="667.1" x2="433.23" y2="668" stroke="#262626" stroke-width="0.6"/>
<line x1="435.75" y1="667.1" x2="435.75" y2="668" stroke="#262626" stroke-width="0.6"/>
<line x1="437.7" y1="667.1" x2="437.7" y2="668" stroke="#262626" stroke-width="0.6"/>
<line x1="439.3" y1="667.1" x2="439.3" y2="668" stroke="#262626" stroke-width="0.6"/>
<line x1="440.65" y1="667.1" x2="440.65" y2="668" stroke="#262626" stroke-width="0.6"/>
<line x1="441.82" y1="667.1" x2="441.82" y2="668" stroke="#262626" stroke-width="0.6"/>
<line x1="442.85" y1="667.1" x2="442.85" y2="668" stroke="#262626" stroke-width="0.6"/>
<line x1="443.78" y1="667.1" x2="443.78" y2="668.7" stroke="#262626" stroke-width="0.6"/>
<line x1="449.85" y1="667.1" x2="449.85" y2="668" stroke="#262626" stroke-width="0.6"/>
<line x1="453.4" y1="667.1" x2="453.4" y2="668" stroke="#262626" stroke-width="0.6"/>
<line x1="455.92" y1="667.1" x2="455.92" y2="668" stroke="#262626" stroke-width="0.6"/>
<line x1="457.88" y1="667.1" x2="457.88" y2="668" stroke="#262626" stroke-width="0.6"/>
<line x1="459.47" y1="667.1" x2="459.47" y2="668" stroke="#262626" stroke-width="0.6"/>
<line x1="460.82" y1="667.1" x2="460.82" y2="668" stroke="#262626" stroke-width="0.6"/>
<line x1="461.99" y1="667.1" x2="461.99" y2="668" stroke="#262626" stroke-width="0.6"/>
<line x1="463.03" y1="667.1" x2="463.03" y2="668" stroke="#262626" stroke-width="0.6"/>
<line x1="463.95" y1="667.1" x2="463.95" y2="668.7" stroke="#262626" stroke-width="0.6"/>
<line x1="470.02" y1="667.1" x2="470.02" y2="668" stroke="#262626" stroke-width="0.6"/>
<line x1="473.58" y1="667.1" x2="473.58" y2="668" stroke="#262626" stroke-width="0.6"/>
<line x1="476.1" y1="667.1" x2="476.1" y2="668" stroke="#262626" stroke-width="0.6"/>
<line x1="478.05" y1="667.1" x2="478.05" y2="668" stroke="#262626" stroke-width="0.6"/>
<line x1="479.65" y1="667.1" x2="479.65" y2="668" stroke="#262626" stroke-width="0.6"/>
<line x1="481" y1="667.1" x2="481" y2="668" stroke="#262626" stroke-width="0.6"/>
<line x1="482.17" y1="667.1" x2="482.17" y2="668" stroke="#262626" stroke-width="0.6"/>
<line x1="483.2" y1="667.1" x2="483.2" y2="668" stroke="#262626" stroke-width="0.6"/>
<line x1="484.12" y1="667.1" x2="484.12" y2="668.7" stroke="#262626" stroke-width="0.6"/>
<line x1="490.2" y1="667.1" x2="490.2" y2="668" stroke="#262626" stroke-width="0.6"/>
<line x1="493.75" y1="667.1" x2="493.75" y2="668" stroke="#262626" stroke-width="0.6"/>
<line x1="496.27" y1="667.1" x2="496.27" y2="668" stroke="#262626" stroke-width="0.6"/>
<line x1="498.23" y1="667.1" x2="498.23" y2="668" stroke="#262626" stroke-width="0.6"/>
<line x1="499.82" y1="667.1" x2="499.82" y2="668" stroke="#262626" stroke-width="0.6"/>
<line x1="501.17" y1="667.1" x2="501.17" y2="668" stroke="#262626" stroke-width="0.6"/>
<line x1="502.34" y1="667.1" x2="502.34" y2="668" stroke="#262626" stroke-width="0.6"/>
<line x1="503.38" y1="667.1" x2="503.38" y2="668" stroke="#262626" stroke-width="0.6"/>
<text x="401.4" y="638.8" font-size="8.1" fill="#262626" stroke="#262626" stroke-width="0.3" text-anchor="middle" transform="rotate(-90 401.4 638.8)" dy="2.7">% of max</text>
<text x="7.9" y="575" font-size="8.9" font-weight="bold" text-anchor="start" fill="#1a1a1a" stroke="#1a1a1a" stroke-width="0.5">Patient A</text>
<text x="7.9" y="642" font-size="8.9" font-weight="bold" text-anchor="start" fill="#1a1a1a" stroke="#1a1a1a" stroke-width="0.5">Patient B</text>
<line x1="54.6" y1="677.4" x2="88.5" y2="677.4" stroke="#111" stroke-width="1.2"/>
<polygon points="87,675.2 92.5,677.4 87,679.6" fill="#111"/>
<text x="102.8" y="680" font-size="8.7" font-weight="normal" text-anchor="start" fill="#2a2a2a" textLength="26" lengthAdjust="spacingAndGlyphs" stroke="#2a2a2a" stroke-width="0.25">pSTAT3</text>
<rect x="0" y="0" width="520" height="1.6" fill="#000"/>
<rect x="0" y="0" width="1.5" height="690" fill="#000"/>
<rect x="518.5" y="0" width="1.5" height="690" fill="#000"/>
<rect x="0" y="688.4" width="520" height="1.6" fill="#000"/>
</svg>
</body></html>
